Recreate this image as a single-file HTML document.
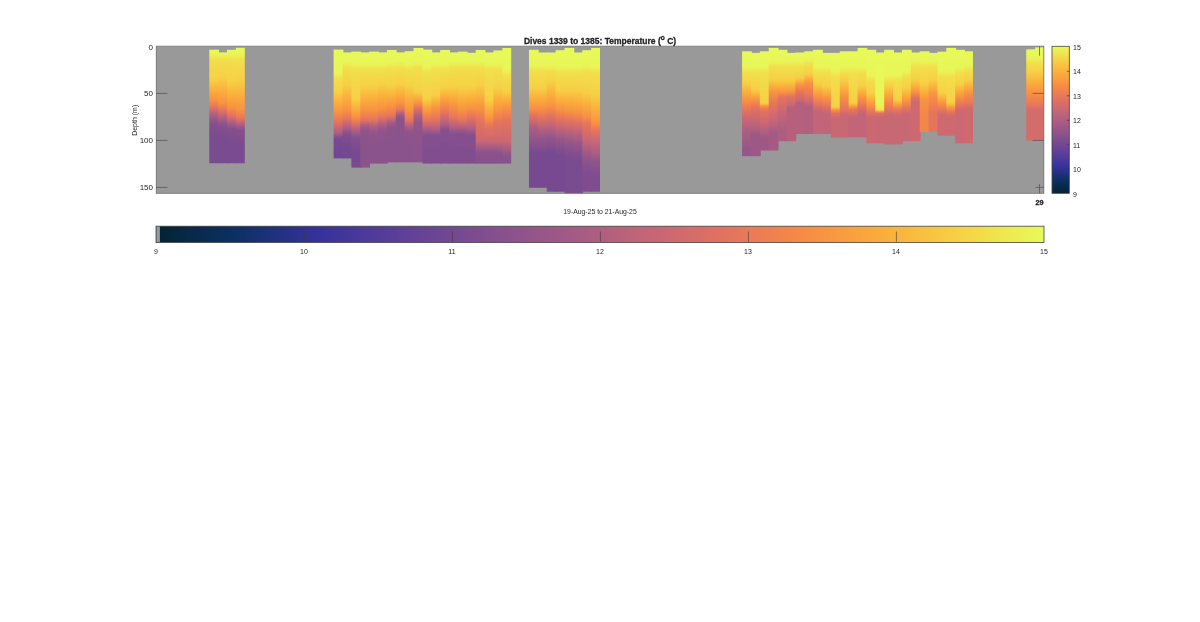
<!DOCTYPE html>
<html><head><meta charset="utf-8">
<style>
html,body{margin:0;padding:0;background:#fff;width:1200px;height:622px;overflow:hidden}
svg{display:block;will-change:transform}
text{font-family:"Liberation Sans",sans-serif;fill:#262626}
</style></head><body>
<svg width="1200" height="622" viewBox="0 0 1200 622">
<defs>
<filter id="soft" x="-1%" y="-5%" width="102%" height="110%"><feGaussianBlur stdDeviation="0.45"/></filter>
<linearGradient id="c6" x1="0" y1="0" x2="0" y2="1"><stop offset="0.000" stop-color="#e7fa5a"/><stop offset="0.013" stop-color="#e8f859"/><stop offset="0.027" stop-color="#e8f658"/><stop offset="0.040" stop-color="#e9f457"/><stop offset="0.053" stop-color="#ebee54"/><stop offset="0.067" stop-color="#eee951"/><stop offset="0.080" stop-color="#f0e34e"/><stop offset="0.093" stop-color="#f2df4c"/><stop offset="0.107" stop-color="#f2dd4b"/><stop offset="0.120" stop-color="#f2dc4b"/><stop offset="0.133" stop-color="#f3db4a"/><stop offset="0.147" stop-color="#f3da4a"/><stop offset="0.160" stop-color="#f4d949"/><stop offset="0.173" stop-color="#f4d748"/><stop offset="0.187" stop-color="#f5d648"/><stop offset="0.200" stop-color="#f5d547"/><stop offset="0.213" stop-color="#f6d446"/><stop offset="0.227" stop-color="#f6d346"/><stop offset="0.240" stop-color="#f6d246"/><stop offset="0.253" stop-color="#f6d045"/><stop offset="0.267" stop-color="#f6cf45"/><stop offset="0.280" stop-color="#f7ca44"/><stop offset="0.293" stop-color="#f8c643"/><stop offset="0.307" stop-color="#f8c141"/><stop offset="0.320" stop-color="#f9bc40"/><stop offset="0.333" stop-color="#fab73f"/><stop offset="0.347" stop-color="#fab33e"/><stop offset="0.360" stop-color="#fbae3c"/><stop offset="0.373" stop-color="#fbaa3d"/><stop offset="0.387" stop-color="#faa53e"/><stop offset="0.400" stop-color="#f9a13f"/><stop offset="0.413" stop-color="#f99d40"/><stop offset="0.427" stop-color="#f89941"/><stop offset="0.440" stop-color="#f79443"/><stop offset="0.453" stop-color="#f68d44"/><stop offset="0.467" stop-color="#f2864a"/><stop offset="0.480" stop-color="#ed8051"/><stop offset="0.493" stop-color="#e87a57"/><stop offset="0.507" stop-color="#e3735e"/><stop offset="0.520" stop-color="#d96e67"/><stop offset="0.533" stop-color="#cf6a6f"/><stop offset="0.547" stop-color="#c46576"/><stop offset="0.560" stop-color="#b9627c"/><stop offset="0.573" stop-color="#ae5e81"/><stop offset="0.587" stop-color="#a65c84"/><stop offset="0.600" stop-color="#9f5987"/><stop offset="0.613" stop-color="#995788"/><stop offset="0.627" stop-color="#92558a"/><stop offset="0.640" stop-color="#8c528c"/><stop offset="0.653" stop-color="#85508d"/><stop offset="0.667" stop-color="#844f8e"/><stop offset="0.680" stop-color="#824f8e"/><stop offset="0.693" stop-color="#814e8e"/><stop offset="0.707" stop-color="#804e8f"/><stop offset="0.720" stop-color="#7f4d8f"/><stop offset="0.733" stop-color="#7d4d8f"/><stop offset="0.747" stop-color="#7c4c90"/><stop offset="0.760" stop-color="#7b4c90"/><stop offset="0.773" stop-color="#794b90"/><stop offset="0.787" stop-color="#794b90"/><stop offset="0.800" stop-color="#794b90"/><stop offset="0.813" stop-color="#794b90"/><stop offset="0.827" stop-color="#794b90"/><stop offset="0.840" stop-color="#794b90"/><stop offset="0.853" stop-color="#794b90"/><stop offset="0.867" stop-color="#794b90"/><stop offset="0.880" stop-color="#794b90"/><stop offset="0.893" stop-color="#794b90"/><stop offset="0.907" stop-color="#794b90"/><stop offset="0.920" stop-color="#794b90"/><stop offset="0.933" stop-color="#794b90"/><stop offset="0.947" stop-color="#794b90"/><stop offset="0.960" stop-color="#794b90"/><stop offset="0.973" stop-color="#794b90"/><stop offset="0.987" stop-color="#794b90"/><stop offset="1.000" stop-color="#794b90"/></linearGradient>
<linearGradient id="c7" x1="0" y1="0" x2="0" y2="1"><stop offset="0.000" stop-color="#e7fa5a"/><stop offset="0.014" stop-color="#e9f558"/><stop offset="0.027" stop-color="#ebf055"/><stop offset="0.041" stop-color="#edea52"/><stop offset="0.055" stop-color="#efe44f"/><stop offset="0.068" stop-color="#f1df4c"/><stop offset="0.082" stop-color="#f2de4b"/><stop offset="0.096" stop-color="#f2dc4b"/><stop offset="0.110" stop-color="#f3db4a"/><stop offset="0.123" stop-color="#f3da49"/><stop offset="0.137" stop-color="#f4d849"/><stop offset="0.151" stop-color="#f5d748"/><stop offset="0.164" stop-color="#f5d647"/><stop offset="0.178" stop-color="#f6d447"/><stop offset="0.192" stop-color="#f6d346"/><stop offset="0.205" stop-color="#f6d246"/><stop offset="0.219" stop-color="#f6d045"/><stop offset="0.233" stop-color="#f7cf45"/><stop offset="0.247" stop-color="#f7cb44"/><stop offset="0.260" stop-color="#f8c743"/><stop offset="0.274" stop-color="#f8c342"/><stop offset="0.288" stop-color="#f9bf41"/><stop offset="0.301" stop-color="#f9bc40"/><stop offset="0.315" stop-color="#fab83f"/><stop offset="0.329" stop-color="#fab43e"/><stop offset="0.342" stop-color="#fbb03d"/><stop offset="0.356" stop-color="#fbac3c"/><stop offset="0.370" stop-color="#faa93d"/><stop offset="0.384" stop-color="#faa63e"/><stop offset="0.397" stop-color="#f9a23f"/><stop offset="0.411" stop-color="#f99f40"/><stop offset="0.425" stop-color="#f89b41"/><stop offset="0.438" stop-color="#f89842"/><stop offset="0.452" stop-color="#f79542"/><stop offset="0.466" stop-color="#f68e44"/><stop offset="0.479" stop-color="#f38749"/><stop offset="0.493" stop-color="#ee8150"/><stop offset="0.507" stop-color="#e97b57"/><stop offset="0.521" stop-color="#e4745e"/><stop offset="0.534" stop-color="#db6f66"/><stop offset="0.548" stop-color="#d16b6d"/><stop offset="0.562" stop-color="#c76674"/><stop offset="0.575" stop-color="#bd637b"/><stop offset="0.589" stop-color="#b25f7f"/><stop offset="0.603" stop-color="#a85c83"/><stop offset="0.616" stop-color="#a05a86"/><stop offset="0.630" stop-color="#985789"/><stop offset="0.644" stop-color="#90548a"/><stop offset="0.658" stop-color="#88518c"/><stop offset="0.671" stop-color="#844f8d"/><stop offset="0.685" stop-color="#834f8e"/><stop offset="0.699" stop-color="#824e8e"/><stop offset="0.712" stop-color="#804e8e"/><stop offset="0.726" stop-color="#7f4d8f"/><stop offset="0.740" stop-color="#7e4d8f"/><stop offset="0.753" stop-color="#7d4c8f"/><stop offset="0.767" stop-color="#7b4c90"/><stop offset="0.781" stop-color="#7a4b90"/><stop offset="0.795" stop-color="#794b90"/><stop offset="0.808" stop-color="#794b90"/><stop offset="0.822" stop-color="#794b90"/><stop offset="0.836" stop-color="#794b90"/><stop offset="0.849" stop-color="#794b90"/><stop offset="0.863" stop-color="#794b90"/><stop offset="0.877" stop-color="#794b90"/><stop offset="0.890" stop-color="#794b90"/><stop offset="0.904" stop-color="#794b90"/><stop offset="0.918" stop-color="#794b90"/><stop offset="0.932" stop-color="#794b90"/><stop offset="0.945" stop-color="#794b90"/><stop offset="0.959" stop-color="#794b90"/><stop offset="0.973" stop-color="#794b90"/><stop offset="0.986" stop-color="#794b90"/><stop offset="1.000" stop-color="#794b90"/></linearGradient>
<linearGradient id="c8" x1="0" y1="0" x2="0" y2="1"><stop offset="0.000" stop-color="#e7fa5a"/><stop offset="0.013" stop-color="#e8f859"/><stop offset="0.027" stop-color="#e8f658"/><stop offset="0.040" stop-color="#e9f457"/><stop offset="0.053" stop-color="#ecee54"/><stop offset="0.067" stop-color="#eee951"/><stop offset="0.080" stop-color="#f0e34e"/><stop offset="0.093" stop-color="#f2df4c"/><stop offset="0.107" stop-color="#f2dd4b"/><stop offset="0.120" stop-color="#f2dc4b"/><stop offset="0.133" stop-color="#f3db4a"/><stop offset="0.147" stop-color="#f3da4a"/><stop offset="0.160" stop-color="#f4d949"/><stop offset="0.173" stop-color="#f4d849"/><stop offset="0.187" stop-color="#f4d748"/><stop offset="0.200" stop-color="#f5d647"/><stop offset="0.213" stop-color="#f5d547"/><stop offset="0.227" stop-color="#f6d446"/><stop offset="0.240" stop-color="#f6d346"/><stop offset="0.253" stop-color="#f6d246"/><stop offset="0.267" stop-color="#f6d145"/><stop offset="0.280" stop-color="#f6cf45"/><stop offset="0.293" stop-color="#f7cc44"/><stop offset="0.307" stop-color="#f7c943"/><stop offset="0.320" stop-color="#f8c542"/><stop offset="0.333" stop-color="#f8c141"/><stop offset="0.347" stop-color="#f9bd40"/><stop offset="0.360" stop-color="#f9b93f"/><stop offset="0.373" stop-color="#fab63e"/><stop offset="0.387" stop-color="#fab23d"/><stop offset="0.400" stop-color="#fbae3c"/><stop offset="0.413" stop-color="#fbab3d"/><stop offset="0.427" stop-color="#faa73e"/><stop offset="0.440" stop-color="#faa43e"/><stop offset="0.453" stop-color="#f9a03f"/><stop offset="0.467" stop-color="#f99d40"/><stop offset="0.480" stop-color="#f89a41"/><stop offset="0.493" stop-color="#f89642"/><stop offset="0.507" stop-color="#f79243"/><stop offset="0.520" stop-color="#f68b45"/><stop offset="0.533" stop-color="#f2864b"/><stop offset="0.547" stop-color="#ed8051"/><stop offset="0.560" stop-color="#e97b56"/><stop offset="0.573" stop-color="#e5755c"/><stop offset="0.587" stop-color="#dc6f65"/><stop offset="0.600" stop-color="#d26b6d"/><stop offset="0.613" stop-color="#c76674"/><stop offset="0.627" stop-color="#bc627b"/><stop offset="0.640" stop-color="#b15f80"/><stop offset="0.653" stop-color="#a55b84"/><stop offset="0.667" stop-color="#9a5888"/><stop offset="0.680" stop-color="#90548b"/><stop offset="0.693" stop-color="#86508d"/><stop offset="0.707" stop-color="#844f8e"/><stop offset="0.720" stop-color="#824f8e"/><stop offset="0.733" stop-color="#814e8e"/><stop offset="0.747" stop-color="#804e8f"/><stop offset="0.760" stop-color="#7f4d8f"/><stop offset="0.773" stop-color="#7d4d8f"/><stop offset="0.787" stop-color="#7c4c90"/><stop offset="0.800" stop-color="#7b4c90"/><stop offset="0.813" stop-color="#794b90"/><stop offset="0.827" stop-color="#794b90"/><stop offset="0.840" stop-color="#794b90"/><stop offset="0.853" stop-color="#794b90"/><stop offset="0.867" stop-color="#794b90"/><stop offset="0.880" stop-color="#794b90"/><stop offset="0.893" stop-color="#794b90"/><stop offset="0.907" stop-color="#794b90"/><stop offset="0.920" stop-color="#794b90"/><stop offset="0.933" stop-color="#794b90"/><stop offset="0.947" stop-color="#794b90"/><stop offset="0.960" stop-color="#794b90"/><stop offset="0.973" stop-color="#794b90"/><stop offset="0.987" stop-color="#794b90"/><stop offset="1.000" stop-color="#794b90"/></linearGradient>
<linearGradient id="c9" x1="0" y1="0" x2="0" y2="1"><stop offset="0.000" stop-color="#e7fa5a"/><stop offset="0.013" stop-color="#e7f959"/><stop offset="0.026" stop-color="#e8f859"/><stop offset="0.039" stop-color="#e8f658"/><stop offset="0.052" stop-color="#e9f558"/><stop offset="0.065" stop-color="#ebf055"/><stop offset="0.078" stop-color="#edeb52"/><stop offset="0.091" stop-color="#efe54f"/><stop offset="0.104" stop-color="#f1e04c"/><stop offset="0.117" stop-color="#f2de4c"/><stop offset="0.130" stop-color="#f2dd4b"/><stop offset="0.143" stop-color="#f3db4a"/><stop offset="0.156" stop-color="#f3da4a"/><stop offset="0.169" stop-color="#f4d949"/><stop offset="0.182" stop-color="#f4d849"/><stop offset="0.195" stop-color="#f5d748"/><stop offset="0.208" stop-color="#f5d647"/><stop offset="0.221" stop-color="#f5d447"/><stop offset="0.234" stop-color="#f6d346"/><stop offset="0.247" stop-color="#f6d246"/><stop offset="0.260" stop-color="#f6d145"/><stop offset="0.273" stop-color="#f6d045"/><stop offset="0.286" stop-color="#f7cd45"/><stop offset="0.299" stop-color="#f7ca44"/><stop offset="0.312" stop-color="#f8c743"/><stop offset="0.325" stop-color="#f8c442"/><stop offset="0.338" stop-color="#f8c141"/><stop offset="0.351" stop-color="#f9be40"/><stop offset="0.364" stop-color="#f9ba40"/><stop offset="0.377" stop-color="#fab73f"/><stop offset="0.390" stop-color="#fab43e"/><stop offset="0.403" stop-color="#fab13d"/><stop offset="0.416" stop-color="#fbae3c"/><stop offset="0.429" stop-color="#fbab3d"/><stop offset="0.442" stop-color="#faa83d"/><stop offset="0.455" stop-color="#faa53e"/><stop offset="0.468" stop-color="#f9a23f"/><stop offset="0.481" stop-color="#f99f40"/><stop offset="0.494" stop-color="#f99c40"/><stop offset="0.506" stop-color="#f89a41"/><stop offset="0.519" stop-color="#f89742"/><stop offset="0.532" stop-color="#f79443"/><stop offset="0.545" stop-color="#f68e44"/><stop offset="0.558" stop-color="#f48948"/><stop offset="0.571" stop-color="#f0844d"/><stop offset="0.584" stop-color="#ec7f52"/><stop offset="0.597" stop-color="#e97a57"/><stop offset="0.610" stop-color="#e5765c"/><stop offset="0.623" stop-color="#db6e66"/><stop offset="0.636" stop-color="#ce696f"/><stop offset="0.649" stop-color="#c16479"/><stop offset="0.662" stop-color="#b3607f"/><stop offset="0.675" stop-color="#a65b84"/><stop offset="0.688" stop-color="#9a5788"/><stop offset="0.701" stop-color="#8e538b"/><stop offset="0.714" stop-color="#85508d"/><stop offset="0.727" stop-color="#834f8e"/><stop offset="0.740" stop-color="#824f8e"/><stop offset="0.753" stop-color="#814e8e"/><stop offset="0.766" stop-color="#804e8f"/><stop offset="0.779" stop-color="#7e4d8f"/><stop offset="0.792" stop-color="#7d4d8f"/><stop offset="0.805" stop-color="#7c4c90"/><stop offset="0.818" stop-color="#7b4b90"/><stop offset="0.831" stop-color="#794b90"/><stop offset="0.844" stop-color="#794b90"/><stop offset="0.857" stop-color="#794b90"/><stop offset="0.870" stop-color="#794b90"/><stop offset="0.883" stop-color="#794b90"/><stop offset="0.896" stop-color="#794b90"/><stop offset="0.909" stop-color="#794b90"/><stop offset="0.922" stop-color="#794b90"/><stop offset="0.935" stop-color="#794b90"/><stop offset="0.948" stop-color="#794b90"/><stop offset="0.961" stop-color="#794b90"/><stop offset="0.974" stop-color="#794b90"/><stop offset="0.987" stop-color="#794b90"/><stop offset="1.000" stop-color="#794b90"/></linearGradient>
<linearGradient id="c20" x1="0" y1="0" x2="0" y2="1"><stop offset="0.000" stop-color="#e7fa5a"/><stop offset="0.014" stop-color="#e7fa5a"/><stop offset="0.028" stop-color="#e7f95a"/><stop offset="0.042" stop-color="#e7f95a"/><stop offset="0.056" stop-color="#e7f959"/><stop offset="0.069" stop-color="#e8f859"/><stop offset="0.083" stop-color="#e8f859"/><stop offset="0.097" stop-color="#e8f859"/><stop offset="0.111" stop-color="#e8f759"/><stop offset="0.125" stop-color="#e8f759"/><stop offset="0.139" stop-color="#e8f758"/><stop offset="0.153" stop-color="#e8f658"/><stop offset="0.167" stop-color="#e8f658"/><stop offset="0.181" stop-color="#e9f658"/><stop offset="0.194" stop-color="#e9f558"/><stop offset="0.208" stop-color="#e9f558"/><stop offset="0.222" stop-color="#eaf256"/><stop offset="0.236" stop-color="#eced53"/><stop offset="0.250" stop-color="#eee750"/><stop offset="0.264" stop-color="#f0e14d"/><stop offset="0.278" stop-color="#f2de4c"/><stop offset="0.292" stop-color="#f3dc4b"/><stop offset="0.306" stop-color="#f3da4a"/><stop offset="0.319" stop-color="#f4d849"/><stop offset="0.333" stop-color="#f5d748"/><stop offset="0.347" stop-color="#f5d547"/><stop offset="0.361" stop-color="#f6d346"/><stop offset="0.375" stop-color="#f6d145"/><stop offset="0.389" stop-color="#f6cf45"/><stop offset="0.403" stop-color="#f7cb44"/><stop offset="0.417" stop-color="#f8c643"/><stop offset="0.431" stop-color="#f8c141"/><stop offset="0.444" stop-color="#f9bd40"/><stop offset="0.458" stop-color="#fab83f"/><stop offset="0.472" stop-color="#fab33e"/><stop offset="0.486" stop-color="#fbae3c"/><stop offset="0.500" stop-color="#fbaa3d"/><stop offset="0.514" stop-color="#faa63e"/><stop offset="0.528" stop-color="#f9a13f"/><stop offset="0.542" stop-color="#f99d40"/><stop offset="0.556" stop-color="#f89941"/><stop offset="0.569" stop-color="#f79542"/><stop offset="0.583" stop-color="#f79044"/><stop offset="0.597" stop-color="#f58a46"/><stop offset="0.611" stop-color="#f2864b"/><stop offset="0.625" stop-color="#ee814f"/><stop offset="0.639" stop-color="#eb7d54"/><stop offset="0.653" stop-color="#e77959"/><stop offset="0.667" stop-color="#e4745d"/><stop offset="0.681" stop-color="#dd7064"/><stop offset="0.694" stop-color="#d66c69"/><stop offset="0.708" stop-color="#ce696f"/><stop offset="0.722" stop-color="#c66675"/><stop offset="0.736" stop-color="#bf637a"/><stop offset="0.750" stop-color="#b6617d"/><stop offset="0.764" stop-color="#ae5e81"/><stop offset="0.778" stop-color="#9f5987"/><stop offset="0.792" stop-color="#90548b"/><stop offset="0.806" stop-color="#814e8e"/><stop offset="0.819" stop-color="#794b91"/><stop offset="0.833" stop-color="#784a91"/><stop offset="0.847" stop-color="#774a91"/><stop offset="0.861" stop-color="#764992"/><stop offset="0.875" stop-color="#754992"/><stop offset="0.889" stop-color="#744892"/><stop offset="0.903" stop-color="#734892"/><stop offset="0.917" stop-color="#724793"/><stop offset="0.931" stop-color="#714793"/><stop offset="0.944" stop-color="#704793"/><stop offset="0.958" stop-color="#704793"/><stop offset="0.972" stop-color="#704793"/><stop offset="0.986" stop-color="#704793"/><stop offset="1.000" stop-color="#704793"/></linearGradient>
<linearGradient id="c21" x1="0" y1="0" x2="0" y2="1"><stop offset="0.000" stop-color="#e7fa5a"/><stop offset="0.014" stop-color="#e7f95a"/><stop offset="0.029" stop-color="#e8f859"/><stop offset="0.043" stop-color="#e8f859"/><stop offset="0.057" stop-color="#e8f758"/><stop offset="0.071" stop-color="#e9f658"/><stop offset="0.086" stop-color="#e9f558"/><stop offset="0.100" stop-color="#eaf156"/><stop offset="0.114" stop-color="#ecec53"/><stop offset="0.129" stop-color="#efe650"/><stop offset="0.143" stop-color="#f1e14d"/><stop offset="0.157" stop-color="#f2de4c"/><stop offset="0.171" stop-color="#f2dc4b"/><stop offset="0.186" stop-color="#f3db4a"/><stop offset="0.200" stop-color="#f4d949"/><stop offset="0.214" stop-color="#f4d849"/><stop offset="0.229" stop-color="#f5d748"/><stop offset="0.243" stop-color="#f5d547"/><stop offset="0.257" stop-color="#f6d446"/><stop offset="0.271" stop-color="#f6d246"/><stop offset="0.286" stop-color="#f6d145"/><stop offset="0.300" stop-color="#f6cf45"/><stop offset="0.314" stop-color="#f7cc44"/><stop offset="0.329" stop-color="#f7c843"/><stop offset="0.343" stop-color="#f8c542"/><stop offset="0.357" stop-color="#f8c141"/><stop offset="0.371" stop-color="#f9bd40"/><stop offset="0.386" stop-color="#f9ba3f"/><stop offset="0.400" stop-color="#fab63e"/><stop offset="0.414" stop-color="#fab23d"/><stop offset="0.429" stop-color="#fbae3c"/><stop offset="0.443" stop-color="#fbab3d"/><stop offset="0.457" stop-color="#faa83d"/><stop offset="0.471" stop-color="#faa43e"/><stop offset="0.486" stop-color="#f9a13f"/><stop offset="0.500" stop-color="#f99e40"/><stop offset="0.514" stop-color="#f89a41"/><stop offset="0.529" stop-color="#f89742"/><stop offset="0.543" stop-color="#f79443"/><stop offset="0.557" stop-color="#f68d44"/><stop offset="0.571" stop-color="#f48848"/><stop offset="0.586" stop-color="#f0834d"/><stop offset="0.600" stop-color="#ec7e53"/><stop offset="0.614" stop-color="#e87a58"/><stop offset="0.629" stop-color="#e4755d"/><stop offset="0.643" stop-color="#dc6f65"/><stop offset="0.657" stop-color="#d36b6c"/><stop offset="0.671" stop-color="#c96773"/><stop offset="0.686" stop-color="#c06479"/><stop offset="0.700" stop-color="#b6607d"/><stop offset="0.714" stop-color="#ac5d82"/><stop offset="0.729" stop-color="#a15a86"/><stop offset="0.743" stop-color="#975689"/><stop offset="0.757" stop-color="#8e538b"/><stop offset="0.771" stop-color="#844f8d"/><stop offset="0.786" stop-color="#7e4d8f"/><stop offset="0.800" stop-color="#7d4d8f"/><stop offset="0.814" stop-color="#7c4c90"/><stop offset="0.829" stop-color="#7b4b90"/><stop offset="0.843" stop-color="#794b90"/><stop offset="0.857" stop-color="#784a91"/><stop offset="0.871" stop-color="#774a91"/><stop offset="0.886" stop-color="#754992"/><stop offset="0.900" stop-color="#744892"/><stop offset="0.914" stop-color="#734892"/><stop offset="0.929" stop-color="#734892"/><stop offset="0.943" stop-color="#734892"/><stop offset="0.957" stop-color="#734892"/><stop offset="0.971" stop-color="#734892"/><stop offset="0.986" stop-color="#734892"/><stop offset="1.000" stop-color="#734892"/></linearGradient>
<linearGradient id="c22" x1="0" y1="0" x2="0" y2="1"><stop offset="0.000" stop-color="#e7fa5a"/><stop offset="0.013" stop-color="#e7f95a"/><stop offset="0.026" stop-color="#e7f959"/><stop offset="0.039" stop-color="#e8f859"/><stop offset="0.052" stop-color="#e8f859"/><stop offset="0.065" stop-color="#e8f758"/><stop offset="0.078" stop-color="#e8f658"/><stop offset="0.091" stop-color="#e9f658"/><stop offset="0.104" stop-color="#e9f558"/><stop offset="0.117" stop-color="#ebf155"/><stop offset="0.130" stop-color="#edeb52"/><stop offset="0.143" stop-color="#efe650"/><stop offset="0.156" stop-color="#f1e04d"/><stop offset="0.169" stop-color="#f2de4c"/><stop offset="0.182" stop-color="#f2dd4b"/><stop offset="0.195" stop-color="#f2dd4b"/><stop offset="0.208" stop-color="#f3dc4a"/><stop offset="0.221" stop-color="#f3db4a"/><stop offset="0.234" stop-color="#f3da4a"/><stop offset="0.247" stop-color="#f4d949"/><stop offset="0.260" stop-color="#f4d849"/><stop offset="0.273" stop-color="#f4d848"/><stop offset="0.286" stop-color="#f5d748"/><stop offset="0.299" stop-color="#f5d648"/><stop offset="0.312" stop-color="#f5d547"/><stop offset="0.325" stop-color="#f5d447"/><stop offset="0.338" stop-color="#f6d446"/><stop offset="0.351" stop-color="#f6d346"/><stop offset="0.364" stop-color="#f6d246"/><stop offset="0.377" stop-color="#f6d146"/><stop offset="0.390" stop-color="#f6d045"/><stop offset="0.403" stop-color="#f6d045"/><stop offset="0.416" stop-color="#f7cc44"/><stop offset="0.429" stop-color="#f8c743"/><stop offset="0.442" stop-color="#f8c241"/><stop offset="0.455" stop-color="#f9bd40"/><stop offset="0.468" stop-color="#fab73f"/><stop offset="0.481" stop-color="#fab23d"/><stop offset="0.494" stop-color="#fbad3c"/><stop offset="0.506" stop-color="#faa83d"/><stop offset="0.519" stop-color="#faa43f"/><stop offset="0.532" stop-color="#f99f40"/><stop offset="0.545" stop-color="#f89a41"/><stop offset="0.558" stop-color="#f89542"/><stop offset="0.571" stop-color="#f68e44"/><stop offset="0.584" stop-color="#f2864a"/><stop offset="0.597" stop-color="#ec7f52"/><stop offset="0.610" stop-color="#e6785a"/><stop offset="0.623" stop-color="#df7062"/><stop offset="0.636" stop-color="#d56c6a"/><stop offset="0.649" stop-color="#ca6872"/><stop offset="0.662" stop-color="#c06479"/><stop offset="0.675" stop-color="#b4607e"/><stop offset="0.688" stop-color="#aa5d82"/><stop offset="0.701" stop-color="#a15a86"/><stop offset="0.714" stop-color="#985788"/><stop offset="0.727" stop-color="#90548a"/><stop offset="0.740" stop-color="#88518d"/><stop offset="0.753" stop-color="#844f8e"/><stop offset="0.766" stop-color="#824f8e"/><stop offset="0.779" stop-color="#814e8e"/><stop offset="0.792" stop-color="#7f4d8f"/><stop offset="0.805" stop-color="#7e4d8f"/><stop offset="0.818" stop-color="#7c4c90"/><stop offset="0.831" stop-color="#7a4b90"/><stop offset="0.844" stop-color="#794b91"/><stop offset="0.857" stop-color="#774a91"/><stop offset="0.870" stop-color="#764991"/><stop offset="0.883" stop-color="#764991"/><stop offset="0.896" stop-color="#764991"/><stop offset="0.909" stop-color="#764991"/><stop offset="0.922" stop-color="#764991"/><stop offset="0.935" stop-color="#764991"/><stop offset="0.948" stop-color="#764991"/><stop offset="0.961" stop-color="#764991"/><stop offset="0.974" stop-color="#764991"/><stop offset="0.987" stop-color="#764991"/><stop offset="1.000" stop-color="#764991"/></linearGradient>
<linearGradient id="c23" x1="0" y1="0" x2="0" y2="1"><stop offset="0.000" stop-color="#e7fa5a"/><stop offset="0.013" stop-color="#e7f95a"/><stop offset="0.026" stop-color="#e8f959"/><stop offset="0.039" stop-color="#e8f859"/><stop offset="0.053" stop-color="#e8f759"/><stop offset="0.066" stop-color="#e8f758"/><stop offset="0.079" stop-color="#e9f658"/><stop offset="0.092" stop-color="#e9f558"/><stop offset="0.105" stop-color="#eaf356"/><stop offset="0.118" stop-color="#eced54"/><stop offset="0.132" stop-color="#eee851"/><stop offset="0.145" stop-color="#f0e24e"/><stop offset="0.158" stop-color="#f2de4c"/><stop offset="0.171" stop-color="#f2dd4b"/><stop offset="0.184" stop-color="#f3db4a"/><stop offset="0.197" stop-color="#f3da4a"/><stop offset="0.211" stop-color="#f4d949"/><stop offset="0.224" stop-color="#f4d748"/><stop offset="0.237" stop-color="#f5d647"/><stop offset="0.250" stop-color="#f5d447"/><stop offset="0.263" stop-color="#f6d346"/><stop offset="0.276" stop-color="#f6d246"/><stop offset="0.289" stop-color="#f6d045"/><stop offset="0.303" stop-color="#f7ce45"/><stop offset="0.316" stop-color="#f7ca44"/><stop offset="0.329" stop-color="#f8c643"/><stop offset="0.342" stop-color="#f8c242"/><stop offset="0.355" stop-color="#f9be40"/><stop offset="0.368" stop-color="#f9ba3f"/><stop offset="0.382" stop-color="#fab63e"/><stop offset="0.395" stop-color="#fab23d"/><stop offset="0.408" stop-color="#fbad3c"/><stop offset="0.421" stop-color="#fbaa3d"/><stop offset="0.434" stop-color="#faa63e"/><stop offset="0.447" stop-color="#f9a23f"/><stop offset="0.461" stop-color="#f99f40"/><stop offset="0.474" stop-color="#f89b41"/><stop offset="0.487" stop-color="#f89742"/><stop offset="0.500" stop-color="#f79443"/><stop offset="0.513" stop-color="#f68e44"/><stop offset="0.526" stop-color="#f48947"/><stop offset="0.539" stop-color="#f1844c"/><stop offset="0.553" stop-color="#ed8051"/><stop offset="0.566" stop-color="#ea7c55"/><stop offset="0.579" stop-color="#e6775a"/><stop offset="0.592" stop-color="#df7063"/><stop offset="0.605" stop-color="#ce696f"/><stop offset="0.618" stop-color="#bd637b"/><stop offset="0.632" stop-color="#ab5d82"/><stop offset="0.645" stop-color="#a35b85"/><stop offset="0.658" stop-color="#9b5888"/><stop offset="0.671" stop-color="#945589"/><stop offset="0.684" stop-color="#8e538b"/><stop offset="0.697" stop-color="#8d538b"/><stop offset="0.711" stop-color="#8d538b"/><stop offset="0.724" stop-color="#8d538b"/><stop offset="0.737" stop-color="#8c528b"/><stop offset="0.750" stop-color="#8c528b"/><stop offset="0.763" stop-color="#8c528c"/><stop offset="0.776" stop-color="#8b528c"/><stop offset="0.789" stop-color="#8b528c"/><stop offset="0.803" stop-color="#8b528c"/><stop offset="0.816" stop-color="#8b528c"/><stop offset="0.829" stop-color="#8b528c"/><stop offset="0.842" stop-color="#8b528c"/><stop offset="0.855" stop-color="#8b528c"/><stop offset="0.868" stop-color="#8b528c"/><stop offset="0.882" stop-color="#8b528c"/><stop offset="0.895" stop-color="#8b528c"/><stop offset="0.908" stop-color="#8b528c"/><stop offset="0.921" stop-color="#8b528c"/><stop offset="0.934" stop-color="#8b528c"/><stop offset="0.947" stop-color="#8b528c"/><stop offset="0.961" stop-color="#8b528c"/><stop offset="0.974" stop-color="#8b528c"/><stop offset="0.987" stop-color="#8b528c"/><stop offset="1.000" stop-color="#8b528c"/></linearGradient>
<linearGradient id="c24" x1="0" y1="0" x2="0" y2="1"><stop offset="0.000" stop-color="#e7fa5a"/><stop offset="0.014" stop-color="#e7f95a"/><stop offset="0.027" stop-color="#e7f959"/><stop offset="0.041" stop-color="#e8f859"/><stop offset="0.054" stop-color="#e8f859"/><stop offset="0.068" stop-color="#e8f758"/><stop offset="0.081" stop-color="#e8f658"/><stop offset="0.095" stop-color="#e9f658"/><stop offset="0.108" stop-color="#e9f557"/><stop offset="0.122" stop-color="#ebf055"/><stop offset="0.135" stop-color="#edeb52"/><stop offset="0.149" stop-color="#efe54f"/><stop offset="0.162" stop-color="#f1e04d"/><stop offset="0.176" stop-color="#f2de4b"/><stop offset="0.189" stop-color="#f3dc4b"/><stop offset="0.203" stop-color="#f3db4a"/><stop offset="0.216" stop-color="#f4d949"/><stop offset="0.230" stop-color="#f4d848"/><stop offset="0.243" stop-color="#f5d648"/><stop offset="0.257" stop-color="#f5d547"/><stop offset="0.270" stop-color="#f6d346"/><stop offset="0.284" stop-color="#f6d246"/><stop offset="0.297" stop-color="#f6d045"/><stop offset="0.311" stop-color="#f7ce45"/><stop offset="0.324" stop-color="#f7ca44"/><stop offset="0.338" stop-color="#f8c643"/><stop offset="0.351" stop-color="#f8c242"/><stop offset="0.365" stop-color="#f9be41"/><stop offset="0.378" stop-color="#f9ba40"/><stop offset="0.392" stop-color="#fab63e"/><stop offset="0.405" stop-color="#fab23d"/><stop offset="0.419" stop-color="#fbae3c"/><stop offset="0.432" stop-color="#fbab3d"/><stop offset="0.446" stop-color="#faa73e"/><stop offset="0.459" stop-color="#faa43e"/><stop offset="0.473" stop-color="#f9a03f"/><stop offset="0.486" stop-color="#f99d40"/><stop offset="0.500" stop-color="#f89941"/><stop offset="0.514" stop-color="#f89642"/><stop offset="0.527" stop-color="#f79143"/><stop offset="0.541" stop-color="#f68b45"/><stop offset="0.554" stop-color="#f38749"/><stop offset="0.568" stop-color="#ef834e"/><stop offset="0.581" stop-color="#ec7e53"/><stop offset="0.595" stop-color="#e87a57"/><stop offset="0.608" stop-color="#e5765c"/><stop offset="0.622" stop-color="#dc6f65"/><stop offset="0.635" stop-color="#d06a6e"/><stop offset="0.649" stop-color="#c46577"/><stop offset="0.662" stop-color="#b7617d"/><stop offset="0.676" stop-color="#ab5d82"/><stop offset="0.689" stop-color="#a45b85"/><stop offset="0.703" stop-color="#9d5887"/><stop offset="0.716" stop-color="#965689"/><stop offset="0.730" stop-color="#91548a"/><stop offset="0.743" stop-color="#90548b"/><stop offset="0.757" stop-color="#8f538b"/><stop offset="0.770" stop-color="#8f538b"/><stop offset="0.784" stop-color="#8e538b"/><stop offset="0.797" stop-color="#8d538b"/><stop offset="0.811" stop-color="#8d538b"/><stop offset="0.824" stop-color="#8c528b"/><stop offset="0.838" stop-color="#8b528c"/><stop offset="0.851" stop-color="#8b528c"/><stop offset="0.865" stop-color="#8b528c"/><stop offset="0.878" stop-color="#8b528c"/><stop offset="0.892" stop-color="#8b528c"/><stop offset="0.905" stop-color="#8b528c"/><stop offset="0.919" stop-color="#8b528c"/><stop offset="0.932" stop-color="#8b528c"/><stop offset="0.946" stop-color="#8b528c"/><stop offset="0.959" stop-color="#8b528c"/><stop offset="0.973" stop-color="#8b528c"/><stop offset="0.986" stop-color="#8b528c"/><stop offset="1.000" stop-color="#8b528c"/></linearGradient>
<linearGradient id="c25" x1="0" y1="0" x2="0" y2="1"><stop offset="0.000" stop-color="#e7fa5a"/><stop offset="0.014" stop-color="#e7f95a"/><stop offset="0.027" stop-color="#e7f959"/><stop offset="0.041" stop-color="#e8f859"/><stop offset="0.054" stop-color="#e8f759"/><stop offset="0.068" stop-color="#e8f758"/><stop offset="0.081" stop-color="#e8f658"/><stop offset="0.095" stop-color="#e9f558"/><stop offset="0.108" stop-color="#eaf357"/><stop offset="0.122" stop-color="#ecee54"/><stop offset="0.135" stop-color="#eee851"/><stop offset="0.149" stop-color="#f0e34e"/><stop offset="0.162" stop-color="#f2de4c"/><stop offset="0.176" stop-color="#f2dd4b"/><stop offset="0.189" stop-color="#f3db4a"/><stop offset="0.203" stop-color="#f4d949"/><stop offset="0.216" stop-color="#f4d848"/><stop offset="0.230" stop-color="#f5d647"/><stop offset="0.243" stop-color="#f6d447"/><stop offset="0.257" stop-color="#f6d346"/><stop offset="0.270" stop-color="#f6d145"/><stop offset="0.284" stop-color="#f6cf45"/><stop offset="0.297" stop-color="#f7cb44"/><stop offset="0.311" stop-color="#f8c743"/><stop offset="0.324" stop-color="#f8c442"/><stop offset="0.338" stop-color="#f9c041"/><stop offset="0.351" stop-color="#f9bc40"/><stop offset="0.365" stop-color="#fab83f"/><stop offset="0.378" stop-color="#fab43e"/><stop offset="0.392" stop-color="#fbb03d"/><stop offset="0.405" stop-color="#fbac3c"/><stop offset="0.419" stop-color="#faa93d"/><stop offset="0.432" stop-color="#faa53e"/><stop offset="0.446" stop-color="#f9a23f"/><stop offset="0.459" stop-color="#f99e40"/><stop offset="0.473" stop-color="#f89b41"/><stop offset="0.486" stop-color="#f89742"/><stop offset="0.500" stop-color="#f79443"/><stop offset="0.514" stop-color="#f68d44"/><stop offset="0.527" stop-color="#f48848"/><stop offset="0.541" stop-color="#f0834d"/><stop offset="0.554" stop-color="#ec7e53"/><stop offset="0.568" stop-color="#e87a58"/><stop offset="0.581" stop-color="#e4755d"/><stop offset="0.595" stop-color="#db6e66"/><stop offset="0.608" stop-color="#d06a6e"/><stop offset="0.622" stop-color="#c56576"/><stop offset="0.635" stop-color="#b9617c"/><stop offset="0.649" stop-color="#ad5e81"/><stop offset="0.662" stop-color="#a55b84"/><stop offset="0.676" stop-color="#9d5987"/><stop offset="0.689" stop-color="#955689"/><stop offset="0.703" stop-color="#90548a"/><stop offset="0.716" stop-color="#90548b"/><stop offset="0.730" stop-color="#8f538b"/><stop offset="0.743" stop-color="#8f538b"/><stop offset="0.757" stop-color="#8e538b"/><stop offset="0.770" stop-color="#8d538b"/><stop offset="0.784" stop-color="#8d528b"/><stop offset="0.797" stop-color="#8c528b"/><stop offset="0.811" stop-color="#8b528c"/><stop offset="0.824" stop-color="#8b528c"/><stop offset="0.838" stop-color="#8b528c"/><stop offset="0.851" stop-color="#8b528c"/><stop offset="0.865" stop-color="#8b528c"/><stop offset="0.878" stop-color="#8b528c"/><stop offset="0.892" stop-color="#8b528c"/><stop offset="0.905" stop-color="#8b528c"/><stop offset="0.919" stop-color="#8b528c"/><stop offset="0.932" stop-color="#8b528c"/><stop offset="0.946" stop-color="#8b528c"/><stop offset="0.959" stop-color="#8b528c"/><stop offset="0.973" stop-color="#8b528c"/><stop offset="0.986" stop-color="#8b528c"/><stop offset="1.000" stop-color="#8b528c"/></linearGradient>
<linearGradient id="c26" x1="0" y1="0" x2="0" y2="1"><stop offset="0.000" stop-color="#e7fa5a"/><stop offset="0.014" stop-color="#e7f95a"/><stop offset="0.027" stop-color="#e7f959"/><stop offset="0.041" stop-color="#e8f859"/><stop offset="0.054" stop-color="#e8f859"/><stop offset="0.068" stop-color="#e8f759"/><stop offset="0.081" stop-color="#e8f658"/><stop offset="0.095" stop-color="#e9f658"/><stop offset="0.108" stop-color="#e9f558"/><stop offset="0.122" stop-color="#eaf356"/><stop offset="0.135" stop-color="#eced53"/><stop offset="0.149" stop-color="#eee750"/><stop offset="0.162" stop-color="#f0e24e"/><stop offset="0.176" stop-color="#f2de4c"/><stop offset="0.189" stop-color="#f2dd4b"/><stop offset="0.203" stop-color="#f3db4a"/><stop offset="0.216" stop-color="#f3da4a"/><stop offset="0.230" stop-color="#f4d949"/><stop offset="0.243" stop-color="#f4d748"/><stop offset="0.257" stop-color="#f5d647"/><stop offset="0.270" stop-color="#f5d447"/><stop offset="0.284" stop-color="#f6d346"/><stop offset="0.297" stop-color="#f6d246"/><stop offset="0.311" stop-color="#f6d045"/><stop offset="0.324" stop-color="#f7ce45"/><stop offset="0.338" stop-color="#f7c943"/><stop offset="0.351" stop-color="#f8c442"/><stop offset="0.365" stop-color="#f9bf41"/><stop offset="0.378" stop-color="#f9bb40"/><stop offset="0.392" stop-color="#fab63e"/><stop offset="0.405" stop-color="#fab13d"/><stop offset="0.419" stop-color="#fbad3c"/><stop offset="0.432" stop-color="#faa83d"/><stop offset="0.446" stop-color="#faa43e"/><stop offset="0.459" stop-color="#f9a040"/><stop offset="0.473" stop-color="#f89b41"/><stop offset="0.486" stop-color="#f89742"/><stop offset="0.500" stop-color="#f79343"/><stop offset="0.514" stop-color="#f68d44"/><stop offset="0.527" stop-color="#f48848"/><stop offset="0.541" stop-color="#f0844d"/><stop offset="0.554" stop-color="#ed8051"/><stop offset="0.568" stop-color="#e97b56"/><stop offset="0.581" stop-color="#e6775b"/><stop offset="0.595" stop-color="#de7063"/><stop offset="0.608" stop-color="#d06a6e"/><stop offset="0.622" stop-color="#c26478"/><stop offset="0.635" stop-color="#b25f7f"/><stop offset="0.649" stop-color="#a65c84"/><stop offset="0.662" stop-color="#9d5987"/><stop offset="0.676" stop-color="#94558a"/><stop offset="0.689" stop-color="#8e538b"/><stop offset="0.703" stop-color="#8d538b"/><stop offset="0.716" stop-color="#8d538b"/><stop offset="0.730" stop-color="#8d538b"/><stop offset="0.743" stop-color="#8c528b"/><stop offset="0.757" stop-color="#8c528b"/><stop offset="0.770" stop-color="#8c528c"/><stop offset="0.784" stop-color="#8b528c"/><stop offset="0.797" stop-color="#8b528c"/><stop offset="0.811" stop-color="#8b528c"/><stop offset="0.824" stop-color="#8b528c"/><stop offset="0.838" stop-color="#8b528c"/><stop offset="0.851" stop-color="#8b528c"/><stop offset="0.865" stop-color="#8b528c"/><stop offset="0.878" stop-color="#8b528c"/><stop offset="0.892" stop-color="#8b528c"/><stop offset="0.905" stop-color="#8b528c"/><stop offset="0.919" stop-color="#8b528c"/><stop offset="0.932" stop-color="#8b528c"/><stop offset="0.946" stop-color="#8b528c"/><stop offset="0.959" stop-color="#8b528c"/><stop offset="0.973" stop-color="#8b528c"/><stop offset="0.986" stop-color="#8b528c"/><stop offset="1.000" stop-color="#8b528c"/></linearGradient>
<linearGradient id="c27" x1="0" y1="0" x2="0" y2="1"><stop offset="0.000" stop-color="#e7fa5a"/><stop offset="0.014" stop-color="#e7f95a"/><stop offset="0.027" stop-color="#e8f859"/><stop offset="0.041" stop-color="#e8f859"/><stop offset="0.055" stop-color="#e8f758"/><stop offset="0.068" stop-color="#e9f658"/><stop offset="0.082" stop-color="#e9f558"/><stop offset="0.096" stop-color="#eaf156"/><stop offset="0.110" stop-color="#ecec53"/><stop offset="0.123" stop-color="#efe650"/><stop offset="0.137" stop-color="#f1e14d"/><stop offset="0.151" stop-color="#f2de4c"/><stop offset="0.164" stop-color="#f2dc4b"/><stop offset="0.178" stop-color="#f3db4a"/><stop offset="0.192" stop-color="#f4d949"/><stop offset="0.205" stop-color="#f4d849"/><stop offset="0.219" stop-color="#f5d648"/><stop offset="0.233" stop-color="#f5d547"/><stop offset="0.247" stop-color="#f6d446"/><stop offset="0.260" stop-color="#f6d246"/><stop offset="0.274" stop-color="#f6d145"/><stop offset="0.288" stop-color="#f7cf45"/><stop offset="0.301" stop-color="#f7ca44"/><stop offset="0.315" stop-color="#f8c542"/><stop offset="0.329" stop-color="#f8c041"/><stop offset="0.342" stop-color="#f9bb40"/><stop offset="0.356" stop-color="#fab63e"/><stop offset="0.370" stop-color="#fab13d"/><stop offset="0.384" stop-color="#fbac3c"/><stop offset="0.397" stop-color="#faa83d"/><stop offset="0.411" stop-color="#faa33f"/><stop offset="0.425" stop-color="#f99f40"/><stop offset="0.438" stop-color="#f89b41"/><stop offset="0.452" stop-color="#f89642"/><stop offset="0.466" stop-color="#f79044"/><stop offset="0.479" stop-color="#f48947"/><stop offset="0.493" stop-color="#ef834e"/><stop offset="0.507" stop-color="#ea7c55"/><stop offset="0.521" stop-color="#e5765b"/><stop offset="0.534" stop-color="#d66c6a"/><stop offset="0.548" stop-color="#c06479"/><stop offset="0.562" stop-color="#ab5d82"/><stop offset="0.575" stop-color="#9d5987"/><stop offset="0.589" stop-color="#91548a"/><stop offset="0.603" stop-color="#8b528c"/><stop offset="0.616" stop-color="#8b528c"/><stop offset="0.630" stop-color="#8b528c"/><stop offset="0.644" stop-color="#8b528c"/><stop offset="0.658" stop-color="#8b528c"/><stop offset="0.671" stop-color="#8b528c"/><stop offset="0.685" stop-color="#8b528c"/><stop offset="0.699" stop-color="#8b528c"/><stop offset="0.712" stop-color="#8b528c"/><stop offset="0.726" stop-color="#8b528c"/><stop offset="0.740" stop-color="#8b528c"/><stop offset="0.753" stop-color="#8b528c"/><stop offset="0.767" stop-color="#8b528c"/><stop offset="0.781" stop-color="#8b528c"/><stop offset="0.795" stop-color="#8b528c"/><stop offset="0.808" stop-color="#8b528c"/><stop offset="0.822" stop-color="#8b528c"/><stop offset="0.836" stop-color="#8b528c"/><stop offset="0.849" stop-color="#8b528c"/><stop offset="0.863" stop-color="#8b528c"/><stop offset="0.877" stop-color="#8b528c"/><stop offset="0.890" stop-color="#8b528c"/><stop offset="0.904" stop-color="#8b528c"/><stop offset="0.918" stop-color="#8b528c"/><stop offset="0.932" stop-color="#8b528c"/><stop offset="0.945" stop-color="#8b528c"/><stop offset="0.959" stop-color="#8b528c"/><stop offset="0.973" stop-color="#8b528c"/><stop offset="0.986" stop-color="#8b528c"/><stop offset="1.000" stop-color="#8b528c"/></linearGradient>
<linearGradient id="c28" x1="0" y1="0" x2="0" y2="1"><stop offset="0.000" stop-color="#e7fa5a"/><stop offset="0.014" stop-color="#e7f95a"/><stop offset="0.027" stop-color="#e7f959"/><stop offset="0.041" stop-color="#e8f859"/><stop offset="0.054" stop-color="#e8f859"/><stop offset="0.068" stop-color="#e8f758"/><stop offset="0.081" stop-color="#e8f658"/><stop offset="0.095" stop-color="#e9f658"/><stop offset="0.108" stop-color="#e9f558"/><stop offset="0.122" stop-color="#eaf256"/><stop offset="0.135" stop-color="#eced53"/><stop offset="0.149" stop-color="#eee750"/><stop offset="0.162" stop-color="#f0e24e"/><stop offset="0.176" stop-color="#f2de4c"/><stop offset="0.189" stop-color="#f2dd4b"/><stop offset="0.203" stop-color="#f3db4a"/><stop offset="0.216" stop-color="#f3da49"/><stop offset="0.230" stop-color="#f4d849"/><stop offset="0.243" stop-color="#f5d748"/><stop offset="0.257" stop-color="#f5d547"/><stop offset="0.270" stop-color="#f6d446"/><stop offset="0.284" stop-color="#f6d246"/><stop offset="0.297" stop-color="#f6d145"/><stop offset="0.311" stop-color="#f6cf45"/><stop offset="0.324" stop-color="#f7cc44"/><stop offset="0.338" stop-color="#f7c843"/><stop offset="0.351" stop-color="#f8c442"/><stop offset="0.365" stop-color="#f8c041"/><stop offset="0.378" stop-color="#f9bc40"/><stop offset="0.392" stop-color="#fab83f"/><stop offset="0.405" stop-color="#fab43e"/><stop offset="0.419" stop-color="#fbb03d"/><stop offset="0.432" stop-color="#fbad3c"/><stop offset="0.446" stop-color="#faa93d"/><stop offset="0.459" stop-color="#faa63e"/><stop offset="0.473" stop-color="#f9a23f"/><stop offset="0.486" stop-color="#f99e40"/><stop offset="0.500" stop-color="#f89b41"/><stop offset="0.514" stop-color="#f89742"/><stop offset="0.527" stop-color="#f79443"/><stop offset="0.541" stop-color="#f78f44"/><stop offset="0.554" stop-color="#f58947"/><stop offset="0.568" stop-color="#f1854b"/><stop offset="0.581" stop-color="#ee8150"/><stop offset="0.595" stop-color="#ea7d55"/><stop offset="0.608" stop-color="#e77859"/><stop offset="0.622" stop-color="#e2735f"/><stop offset="0.635" stop-color="#d76d68"/><stop offset="0.649" stop-color="#cb6871"/><stop offset="0.662" stop-color="#bf637a"/><stop offset="0.676" stop-color="#b25f7f"/><stop offset="0.689" stop-color="#a75c83"/><stop offset="0.703" stop-color="#9d5987"/><stop offset="0.716" stop-color="#955589"/><stop offset="0.730" stop-color="#8e538b"/><stop offset="0.743" stop-color="#8d538b"/><stop offset="0.757" stop-color="#8d538b"/><stop offset="0.770" stop-color="#8d538b"/><stop offset="0.784" stop-color="#8c528b"/><stop offset="0.797" stop-color="#8c528b"/><stop offset="0.811" stop-color="#8c528c"/><stop offset="0.824" stop-color="#8b528c"/><stop offset="0.838" stop-color="#8b528c"/><stop offset="0.851" stop-color="#8b528c"/><stop offset="0.865" stop-color="#8b528c"/><stop offset="0.878" stop-color="#8b528c"/><stop offset="0.892" stop-color="#8b528c"/><stop offset="0.905" stop-color="#8b528c"/><stop offset="0.919" stop-color="#8b528c"/><stop offset="0.932" stop-color="#8b528c"/><stop offset="0.946" stop-color="#8b528c"/><stop offset="0.959" stop-color="#8b528c"/><stop offset="0.973" stop-color="#8b528c"/><stop offset="0.986" stop-color="#8b528c"/><stop offset="1.000" stop-color="#8b528c"/></linearGradient>
<linearGradient id="c29" x1="0" y1="0" x2="0" y2="1"><stop offset="0.000" stop-color="#e7fa5a"/><stop offset="0.013" stop-color="#e7f95a"/><stop offset="0.026" stop-color="#e7f959"/><stop offset="0.039" stop-color="#e8f859"/><stop offset="0.053" stop-color="#e8f859"/><stop offset="0.066" stop-color="#e8f759"/><stop offset="0.079" stop-color="#e8f758"/><stop offset="0.092" stop-color="#e8f658"/><stop offset="0.105" stop-color="#e9f658"/><stop offset="0.118" stop-color="#e9f558"/><stop offset="0.132" stop-color="#eaf155"/><stop offset="0.145" stop-color="#edec53"/><stop offset="0.158" stop-color="#efe650"/><stop offset="0.171" stop-color="#f1e04d"/><stop offset="0.184" stop-color="#f2de4c"/><stop offset="0.197" stop-color="#f2dd4b"/><stop offset="0.211" stop-color="#f2dc4b"/><stop offset="0.224" stop-color="#f3db4a"/><stop offset="0.237" stop-color="#f3da4a"/><stop offset="0.250" stop-color="#f4d949"/><stop offset="0.263" stop-color="#f4d849"/><stop offset="0.276" stop-color="#f4d748"/><stop offset="0.289" stop-color="#f5d648"/><stop offset="0.303" stop-color="#f5d547"/><stop offset="0.316" stop-color="#f6d447"/><stop offset="0.329" stop-color="#f6d346"/><stop offset="0.342" stop-color="#f6d246"/><stop offset="0.355" stop-color="#f6d146"/><stop offset="0.368" stop-color="#f6d045"/><stop offset="0.382" stop-color="#f6cf45"/><stop offset="0.395" stop-color="#f7c943"/><stop offset="0.408" stop-color="#f8c041"/><stop offset="0.421" stop-color="#fab73f"/><stop offset="0.434" stop-color="#fbaf3c"/><stop offset="0.447" stop-color="#faa73e"/><stop offset="0.461" stop-color="#f99f40"/><stop offset="0.474" stop-color="#f89842"/><stop offset="0.487" stop-color="#f68e44"/><stop offset="0.500" stop-color="#f1854c"/><stop offset="0.513" stop-color="#ea7c55"/><stop offset="0.526" stop-color="#e3745e"/><stop offset="0.539" stop-color="#da6e66"/><stop offset="0.553" stop-color="#cf6a6e"/><stop offset="0.566" stop-color="#c56676"/><stop offset="0.579" stop-color="#ba627c"/><stop offset="0.592" stop-color="#ae5e80"/><stop offset="0.605" stop-color="#a85c83"/><stop offset="0.618" stop-color="#a25a85"/><stop offset="0.632" stop-color="#9d5987"/><stop offset="0.645" stop-color="#985788"/><stop offset="0.658" stop-color="#93558a"/><stop offset="0.671" stop-color="#91548a"/><stop offset="0.684" stop-color="#90548a"/><stop offset="0.697" stop-color="#90548b"/><stop offset="0.711" stop-color="#90548b"/><stop offset="0.724" stop-color="#8f538b"/><stop offset="0.737" stop-color="#8f538b"/><stop offset="0.750" stop-color="#8f538b"/><stop offset="0.763" stop-color="#8e538b"/><stop offset="0.776" stop-color="#8e538b"/><stop offset="0.789" stop-color="#8e538b"/><stop offset="0.803" stop-color="#8e538b"/><stop offset="0.816" stop-color="#8e538b"/><stop offset="0.829" stop-color="#8e538b"/><stop offset="0.842" stop-color="#8e538b"/><stop offset="0.855" stop-color="#8e538b"/><stop offset="0.868" stop-color="#8e538b"/><stop offset="0.882" stop-color="#8e538b"/><stop offset="0.895" stop-color="#8e538b"/><stop offset="0.908" stop-color="#8e538b"/><stop offset="0.921" stop-color="#8e538b"/><stop offset="0.934" stop-color="#8e538b"/><stop offset="0.947" stop-color="#8e538b"/><stop offset="0.961" stop-color="#8e538b"/><stop offset="0.974" stop-color="#8e538b"/><stop offset="0.987" stop-color="#8e538b"/><stop offset="1.000" stop-color="#8e538b"/></linearGradient>
<linearGradient id="c30" x1="0" y1="0" x2="0" y2="1"><stop offset="0.000" stop-color="#e7fa5a"/><stop offset="0.013" stop-color="#e7fa5a"/><stop offset="0.026" stop-color="#e7f95a"/><stop offset="0.039" stop-color="#e7f959"/><stop offset="0.053" stop-color="#e8f859"/><stop offset="0.066" stop-color="#e8f859"/><stop offset="0.079" stop-color="#e8f759"/><stop offset="0.092" stop-color="#e8f758"/><stop offset="0.105" stop-color="#e8f758"/><stop offset="0.118" stop-color="#e8f658"/><stop offset="0.132" stop-color="#e9f658"/><stop offset="0.145" stop-color="#e9f558"/><stop offset="0.158" stop-color="#eaf356"/><stop offset="0.171" stop-color="#eced53"/><stop offset="0.184" stop-color="#eee851"/><stop offset="0.197" stop-color="#f0e24e"/><stop offset="0.211" stop-color="#f2de4c"/><stop offset="0.224" stop-color="#f2de4b"/><stop offset="0.237" stop-color="#f2dd4b"/><stop offset="0.250" stop-color="#f3dc4a"/><stop offset="0.263" stop-color="#f3db4a"/><stop offset="0.276" stop-color="#f3da4a"/><stop offset="0.289" stop-color="#f4d949"/><stop offset="0.303" stop-color="#f4d849"/><stop offset="0.316" stop-color="#f4d748"/><stop offset="0.329" stop-color="#f5d648"/><stop offset="0.342" stop-color="#f5d547"/><stop offset="0.355" stop-color="#f5d447"/><stop offset="0.368" stop-color="#f6d446"/><stop offset="0.382" stop-color="#f6d346"/><stop offset="0.395" stop-color="#f6d246"/><stop offset="0.408" stop-color="#f6d145"/><stop offset="0.421" stop-color="#f6d045"/><stop offset="0.434" stop-color="#f7cf45"/><stop offset="0.447" stop-color="#f8c743"/><stop offset="0.461" stop-color="#f9c041"/><stop offset="0.474" stop-color="#fab83f"/><stop offset="0.487" stop-color="#fbb13d"/><stop offset="0.500" stop-color="#faa93d"/><stop offset="0.513" stop-color="#f9a33f"/><stop offset="0.526" stop-color="#f99c40"/><stop offset="0.539" stop-color="#f89542"/><stop offset="0.553" stop-color="#f78f44"/><stop offset="0.566" stop-color="#f48947"/><stop offset="0.579" stop-color="#f0844d"/><stop offset="0.592" stop-color="#ec7f52"/><stop offset="0.605" stop-color="#e87a58"/><stop offset="0.618" stop-color="#e4745d"/><stop offset="0.632" stop-color="#dc6f65"/><stop offset="0.645" stop-color="#d36b6c"/><stop offset="0.658" stop-color="#c96773"/><stop offset="0.671" stop-color="#c06479"/><stop offset="0.684" stop-color="#b6607d"/><stop offset="0.697" stop-color="#ac5d82"/><stop offset="0.711" stop-color="#a15a86"/><stop offset="0.724" stop-color="#975789"/><stop offset="0.737" stop-color="#8e538b"/><stop offset="0.750" stop-color="#85508d"/><stop offset="0.763" stop-color="#854f8d"/><stop offset="0.776" stop-color="#844f8d"/><stop offset="0.789" stop-color="#844f8e"/><stop offset="0.803" stop-color="#844f8e"/><stop offset="0.816" stop-color="#834f8e"/><stop offset="0.829" stop-color="#834f8e"/><stop offset="0.842" stop-color="#834f8e"/><stop offset="0.855" stop-color="#824f8e"/><stop offset="0.868" stop-color="#824f8e"/><stop offset="0.882" stop-color="#824e8e"/><stop offset="0.895" stop-color="#824e8e"/><stop offset="0.908" stop-color="#824e8e"/><stop offset="0.921" stop-color="#824e8e"/><stop offset="0.934" stop-color="#824e8e"/><stop offset="0.947" stop-color="#824e8e"/><stop offset="0.961" stop-color="#824e8e"/><stop offset="0.974" stop-color="#824e8e"/><stop offset="0.987" stop-color="#824e8e"/><stop offset="1.000" stop-color="#824e8e"/></linearGradient>
<linearGradient id="c31" x1="0" y1="0" x2="0" y2="1"><stop offset="0.000" stop-color="#e7fa5a"/><stop offset="0.014" stop-color="#e7f95a"/><stop offset="0.027" stop-color="#e7f959"/><stop offset="0.041" stop-color="#e8f859"/><stop offset="0.054" stop-color="#e8f759"/><stop offset="0.068" stop-color="#e8f758"/><stop offset="0.081" stop-color="#e8f658"/><stop offset="0.095" stop-color="#e9f558"/><stop offset="0.108" stop-color="#eaf357"/><stop offset="0.122" stop-color="#ecee54"/><stop offset="0.135" stop-color="#eee851"/><stop offset="0.149" stop-color="#f0e34e"/><stop offset="0.162" stop-color="#f2df4c"/><stop offset="0.176" stop-color="#f2de4b"/><stop offset="0.189" stop-color="#f2dd4b"/><stop offset="0.203" stop-color="#f3dc4a"/><stop offset="0.216" stop-color="#f3db4a"/><stop offset="0.230" stop-color="#f3da4a"/><stop offset="0.243" stop-color="#f4d949"/><stop offset="0.257" stop-color="#f4d849"/><stop offset="0.270" stop-color="#f4d748"/><stop offset="0.284" stop-color="#f5d648"/><stop offset="0.297" stop-color="#f5d547"/><stop offset="0.311" stop-color="#f6d447"/><stop offset="0.324" stop-color="#f6d346"/><stop offset="0.338" stop-color="#f6d246"/><stop offset="0.351" stop-color="#f6d146"/><stop offset="0.365" stop-color="#f6d045"/><stop offset="0.378" stop-color="#f6d045"/><stop offset="0.392" stop-color="#f7ca44"/><stop offset="0.405" stop-color="#f8c342"/><stop offset="0.419" stop-color="#f9bc40"/><stop offset="0.432" stop-color="#fab53e"/><stop offset="0.446" stop-color="#fbad3c"/><stop offset="0.459" stop-color="#faa73e"/><stop offset="0.473" stop-color="#f9a03f"/><stop offset="0.486" stop-color="#f89a41"/><stop offset="0.500" stop-color="#f79443"/><stop offset="0.514" stop-color="#f68e44"/><stop offset="0.527" stop-color="#f58a46"/><stop offset="0.541" stop-color="#f2864b"/><stop offset="0.554" stop-color="#ef824f"/><stop offset="0.568" stop-color="#eb7e53"/><stop offset="0.581" stop-color="#e87a57"/><stop offset="0.595" stop-color="#e5765b"/><stop offset="0.608" stop-color="#e17161"/><stop offset="0.622" stop-color="#d96e67"/><stop offset="0.635" stop-color="#d16b6d"/><stop offset="0.649" stop-color="#ca6872"/><stop offset="0.662" stop-color="#c26478"/><stop offset="0.676" stop-color="#ba627c"/><stop offset="0.689" stop-color="#b25f7f"/><stop offset="0.703" stop-color="#a85c83"/><stop offset="0.716" stop-color="#9b5888"/><stop offset="0.730" stop-color="#90548a"/><stop offset="0.743" stop-color="#85508d"/><stop offset="0.757" stop-color="#854f8d"/><stop offset="0.770" stop-color="#844f8d"/><stop offset="0.784" stop-color="#844f8e"/><stop offset="0.797" stop-color="#844f8e"/><stop offset="0.811" stop-color="#834f8e"/><stop offset="0.824" stop-color="#834f8e"/><stop offset="0.838" stop-color="#834f8e"/><stop offset="0.851" stop-color="#824f8e"/><stop offset="0.865" stop-color="#824f8e"/><stop offset="0.878" stop-color="#824e8e"/><stop offset="0.892" stop-color="#824e8e"/><stop offset="0.905" stop-color="#824e8e"/><stop offset="0.919" stop-color="#824e8e"/><stop offset="0.932" stop-color="#824e8e"/><stop offset="0.946" stop-color="#824e8e"/><stop offset="0.959" stop-color="#824e8e"/><stop offset="0.973" stop-color="#824e8e"/><stop offset="0.986" stop-color="#824e8e"/><stop offset="1.000" stop-color="#824e8e"/></linearGradient>
<linearGradient id="c32" x1="0" y1="0" x2="0" y2="1"><stop offset="0.000" stop-color="#e7fa5a"/><stop offset="0.013" stop-color="#e7f95a"/><stop offset="0.027" stop-color="#e7f959"/><stop offset="0.040" stop-color="#e8f859"/><stop offset="0.053" stop-color="#e8f859"/><stop offset="0.067" stop-color="#e8f759"/><stop offset="0.080" stop-color="#e8f758"/><stop offset="0.093" stop-color="#e8f658"/><stop offset="0.107" stop-color="#e9f658"/><stop offset="0.120" stop-color="#e9f558"/><stop offset="0.133" stop-color="#ebf155"/><stop offset="0.147" stop-color="#edeb52"/><stop offset="0.160" stop-color="#efe650"/><stop offset="0.173" stop-color="#f1e04d"/><stop offset="0.187" stop-color="#f2de4c"/><stop offset="0.200" stop-color="#f2dc4b"/><stop offset="0.213" stop-color="#f3db4a"/><stop offset="0.227" stop-color="#f3da49"/><stop offset="0.240" stop-color="#f4d849"/><stop offset="0.253" stop-color="#f4d748"/><stop offset="0.267" stop-color="#f5d647"/><stop offset="0.280" stop-color="#f5d547"/><stop offset="0.293" stop-color="#f6d346"/><stop offset="0.307" stop-color="#f6d246"/><stop offset="0.320" stop-color="#f6d145"/><stop offset="0.333" stop-color="#f6cf45"/><stop offset="0.347" stop-color="#f7c943"/><stop offset="0.360" stop-color="#f8c342"/><stop offset="0.373" stop-color="#f9bd40"/><stop offset="0.387" stop-color="#fab63e"/><stop offset="0.400" stop-color="#fbb03d"/><stop offset="0.413" stop-color="#fbaa3d"/><stop offset="0.427" stop-color="#faa43e"/><stop offset="0.440" stop-color="#f99f40"/><stop offset="0.453" stop-color="#f89941"/><stop offset="0.467" stop-color="#f79343"/><stop offset="0.480" stop-color="#f68e44"/><stop offset="0.493" stop-color="#f48948"/><stop offset="0.507" stop-color="#f0844c"/><stop offset="0.520" stop-color="#ed8051"/><stop offset="0.533" stop-color="#e97b56"/><stop offset="0.547" stop-color="#e6775b"/><stop offset="0.560" stop-color="#e17161"/><stop offset="0.573" stop-color="#da6e66"/><stop offset="0.587" stop-color="#d36b6b"/><stop offset="0.600" stop-color="#cc6971"/><stop offset="0.613" stop-color="#c56676"/><stop offset="0.627" stop-color="#be637a"/><stop offset="0.640" stop-color="#b6617d"/><stop offset="0.653" stop-color="#ae5e81"/><stop offset="0.667" stop-color="#a25a85"/><stop offset="0.680" stop-color="#965689"/><stop offset="0.693" stop-color="#8a518c"/><stop offset="0.707" stop-color="#87508d"/><stop offset="0.720" stop-color="#87508d"/><stop offset="0.733" stop-color="#86508d"/><stop offset="0.747" stop-color="#85508d"/><stop offset="0.760" stop-color="#85508d"/><stop offset="0.773" stop-color="#844f8d"/><stop offset="0.787" stop-color="#844f8e"/><stop offset="0.800" stop-color="#834f8e"/><stop offset="0.813" stop-color="#824f8e"/><stop offset="0.827" stop-color="#824e8e"/><stop offset="0.840" stop-color="#824e8e"/><stop offset="0.853" stop-color="#824e8e"/><stop offset="0.867" stop-color="#824e8e"/><stop offset="0.880" stop-color="#824e8e"/><stop offset="0.893" stop-color="#824e8e"/><stop offset="0.907" stop-color="#824e8e"/><stop offset="0.920" stop-color="#824e8e"/><stop offset="0.933" stop-color="#824e8e"/><stop offset="0.947" stop-color="#824e8e"/><stop offset="0.960" stop-color="#824e8e"/><stop offset="0.973" stop-color="#824e8e"/><stop offset="0.987" stop-color="#824e8e"/><stop offset="1.000" stop-color="#824e8e"/></linearGradient>
<linearGradient id="c33" x1="0" y1="0" x2="0" y2="1"><stop offset="0.000" stop-color="#e7fa5a"/><stop offset="0.014" stop-color="#e7f95a"/><stop offset="0.027" stop-color="#e8f859"/><stop offset="0.041" stop-color="#e8f859"/><stop offset="0.054" stop-color="#e8f758"/><stop offset="0.068" stop-color="#e9f658"/><stop offset="0.081" stop-color="#e9f558"/><stop offset="0.095" stop-color="#eaf256"/><stop offset="0.108" stop-color="#ecec53"/><stop offset="0.122" stop-color="#efe650"/><stop offset="0.135" stop-color="#f1e14d"/><stop offset="0.149" stop-color="#f2de4c"/><stop offset="0.162" stop-color="#f2dd4b"/><stop offset="0.176" stop-color="#f3dc4a"/><stop offset="0.189" stop-color="#f3da4a"/><stop offset="0.203" stop-color="#f4d949"/><stop offset="0.216" stop-color="#f4d848"/><stop offset="0.230" stop-color="#f5d748"/><stop offset="0.243" stop-color="#f5d547"/><stop offset="0.257" stop-color="#f6d447"/><stop offset="0.270" stop-color="#f6d346"/><stop offset="0.284" stop-color="#f6d246"/><stop offset="0.297" stop-color="#f6d045"/><stop offset="0.311" stop-color="#f6cf45"/><stop offset="0.324" stop-color="#f7ca44"/><stop offset="0.338" stop-color="#f8c542"/><stop offset="0.351" stop-color="#f8c041"/><stop offset="0.365" stop-color="#f9bb40"/><stop offset="0.378" stop-color="#fab73f"/><stop offset="0.392" stop-color="#fab23d"/><stop offset="0.405" stop-color="#fbad3c"/><stop offset="0.419" stop-color="#faa83d"/><stop offset="0.432" stop-color="#faa43e"/><stop offset="0.446" stop-color="#f99f40"/><stop offset="0.459" stop-color="#f89b41"/><stop offset="0.473" stop-color="#f89642"/><stop offset="0.486" stop-color="#f79243"/><stop offset="0.500" stop-color="#f68d44"/><stop offset="0.514" stop-color="#f48947"/><stop offset="0.527" stop-color="#f1854c"/><stop offset="0.541" stop-color="#ee8150"/><stop offset="0.554" stop-color="#eb7d54"/><stop offset="0.568" stop-color="#e87a58"/><stop offset="0.581" stop-color="#e5765c"/><stop offset="0.595" stop-color="#e07162"/><stop offset="0.608" stop-color="#d86d68"/><stop offset="0.622" stop-color="#d06a6e"/><stop offset="0.635" stop-color="#c86774"/><stop offset="0.649" stop-color="#c06479"/><stop offset="0.662" stop-color="#b8617d"/><stop offset="0.676" stop-color="#af5e80"/><stop offset="0.689" stop-color="#a45b84"/><stop offset="0.703" stop-color="#995788"/><stop offset="0.716" stop-color="#8f538b"/><stop offset="0.730" stop-color="#88518d"/><stop offset="0.743" stop-color="#87508d"/><stop offset="0.757" stop-color="#86508d"/><stop offset="0.770" stop-color="#86508d"/><stop offset="0.784" stop-color="#85508d"/><stop offset="0.797" stop-color="#844f8d"/><stop offset="0.811" stop-color="#844f8e"/><stop offset="0.824" stop-color="#834f8e"/><stop offset="0.838" stop-color="#834f8e"/><stop offset="0.851" stop-color="#824e8e"/><stop offset="0.865" stop-color="#824e8e"/><stop offset="0.878" stop-color="#824e8e"/><stop offset="0.892" stop-color="#824e8e"/><stop offset="0.905" stop-color="#824e8e"/><stop offset="0.919" stop-color="#824e8e"/><stop offset="0.932" stop-color="#824e8e"/><stop offset="0.946" stop-color="#824e8e"/><stop offset="0.959" stop-color="#824e8e"/><stop offset="0.973" stop-color="#824e8e"/><stop offset="0.986" stop-color="#824e8e"/><stop offset="1.000" stop-color="#824e8e"/></linearGradient>
<linearGradient id="c34" x1="0" y1="0" x2="0" y2="1"><stop offset="0.000" stop-color="#e7fa5a"/><stop offset="0.014" stop-color="#e7f95a"/><stop offset="0.027" stop-color="#e8f959"/><stop offset="0.041" stop-color="#e8f859"/><stop offset="0.054" stop-color="#e8f759"/><stop offset="0.068" stop-color="#e8f658"/><stop offset="0.081" stop-color="#e9f658"/><stop offset="0.095" stop-color="#e9f457"/><stop offset="0.108" stop-color="#ebef54"/><stop offset="0.122" stop-color="#eee951"/><stop offset="0.135" stop-color="#f0e44e"/><stop offset="0.149" stop-color="#f2df4c"/><stop offset="0.162" stop-color="#f2dd4b"/><stop offset="0.176" stop-color="#f2dc4b"/><stop offset="0.189" stop-color="#f3db4a"/><stop offset="0.203" stop-color="#f3da4a"/><stop offset="0.216" stop-color="#f4d949"/><stop offset="0.230" stop-color="#f4d748"/><stop offset="0.243" stop-color="#f5d648"/><stop offset="0.257" stop-color="#f5d547"/><stop offset="0.270" stop-color="#f6d446"/><stop offset="0.284" stop-color="#f6d346"/><stop offset="0.297" stop-color="#f6d246"/><stop offset="0.311" stop-color="#f6d045"/><stop offset="0.324" stop-color="#f6cf45"/><stop offset="0.338" stop-color="#f7cb44"/><stop offset="0.351" stop-color="#f8c743"/><stop offset="0.365" stop-color="#f8c242"/><stop offset="0.378" stop-color="#f9be41"/><stop offset="0.392" stop-color="#f9ba3f"/><stop offset="0.405" stop-color="#fab63e"/><stop offset="0.419" stop-color="#fab13d"/><stop offset="0.432" stop-color="#fbad3c"/><stop offset="0.446" stop-color="#faa93d"/><stop offset="0.459" stop-color="#faa53e"/><stop offset="0.473" stop-color="#f9a13f"/><stop offset="0.486" stop-color="#f99d40"/><stop offset="0.500" stop-color="#f89a41"/><stop offset="0.514" stop-color="#f89642"/><stop offset="0.527" stop-color="#f79143"/><stop offset="0.541" stop-color="#f68b45"/><stop offset="0.554" stop-color="#f38749"/><stop offset="0.568" stop-color="#ef834e"/><stop offset="0.581" stop-color="#ec7e53"/><stop offset="0.595" stop-color="#e87a57"/><stop offset="0.608" stop-color="#e5765c"/><stop offset="0.622" stop-color="#dd6f64"/><stop offset="0.635" stop-color="#d36b6c"/><stop offset="0.649" stop-color="#c86774"/><stop offset="0.662" stop-color="#bd637a"/><stop offset="0.676" stop-color="#b25f7f"/><stop offset="0.689" stop-color="#a75c83"/><stop offset="0.703" stop-color="#9c5887"/><stop offset="0.716" stop-color="#93558a"/><stop offset="0.730" stop-color="#89518c"/><stop offset="0.743" stop-color="#85508d"/><stop offset="0.757" stop-color="#844f8d"/><stop offset="0.770" stop-color="#844f8d"/><stop offset="0.784" stop-color="#844f8e"/><stop offset="0.797" stop-color="#834f8e"/><stop offset="0.811" stop-color="#834f8e"/><stop offset="0.824" stop-color="#834f8e"/><stop offset="0.838" stop-color="#834f8e"/><stop offset="0.851" stop-color="#824f8e"/><stop offset="0.865" stop-color="#824e8e"/><stop offset="0.878" stop-color="#824e8e"/><stop offset="0.892" stop-color="#824e8e"/><stop offset="0.905" stop-color="#824e8e"/><stop offset="0.919" stop-color="#824e8e"/><stop offset="0.932" stop-color="#824e8e"/><stop offset="0.946" stop-color="#824e8e"/><stop offset="0.959" stop-color="#824e8e"/><stop offset="0.973" stop-color="#824e8e"/><stop offset="0.986" stop-color="#824e8e"/><stop offset="1.000" stop-color="#824e8e"/></linearGradient>
<linearGradient id="c35" x1="0" y1="0" x2="0" y2="1"><stop offset="0.000" stop-color="#e7fa5a"/><stop offset="0.014" stop-color="#e7f95a"/><stop offset="0.027" stop-color="#e8f859"/><stop offset="0.041" stop-color="#e8f859"/><stop offset="0.055" stop-color="#e8f758"/><stop offset="0.068" stop-color="#e9f658"/><stop offset="0.082" stop-color="#e9f557"/><stop offset="0.096" stop-color="#ebf055"/><stop offset="0.110" stop-color="#edea52"/><stop offset="0.123" stop-color="#efe54f"/><stop offset="0.137" stop-color="#f1df4c"/><stop offset="0.151" stop-color="#f2de4b"/><stop offset="0.164" stop-color="#f2dc4b"/><stop offset="0.178" stop-color="#f3db4a"/><stop offset="0.192" stop-color="#f3da4a"/><stop offset="0.205" stop-color="#f4d949"/><stop offset="0.219" stop-color="#f4d848"/><stop offset="0.233" stop-color="#f5d648"/><stop offset="0.247" stop-color="#f5d547"/><stop offset="0.260" stop-color="#f6d447"/><stop offset="0.274" stop-color="#f6d346"/><stop offset="0.288" stop-color="#f6d246"/><stop offset="0.301" stop-color="#f6d145"/><stop offset="0.315" stop-color="#f6cf45"/><stop offset="0.329" stop-color="#f7cb44"/><stop offset="0.342" stop-color="#f8c743"/><stop offset="0.356" stop-color="#f8c241"/><stop offset="0.370" stop-color="#f9bd40"/><stop offset="0.384" stop-color="#fab83f"/><stop offset="0.397" stop-color="#fab43e"/><stop offset="0.411" stop-color="#fbaf3c"/><stop offset="0.425" stop-color="#fbaa3d"/><stop offset="0.438" stop-color="#faa63e"/><stop offset="0.452" stop-color="#f9a23f"/><stop offset="0.466" stop-color="#f99e40"/><stop offset="0.479" stop-color="#f89941"/><stop offset="0.493" stop-color="#f79542"/><stop offset="0.507" stop-color="#f79044"/><stop offset="0.521" stop-color="#f58a46"/><stop offset="0.534" stop-color="#f1854c"/><stop offset="0.548" stop-color="#ed8051"/><stop offset="0.562" stop-color="#e97b56"/><stop offset="0.575" stop-color="#e5765b"/><stop offset="0.589" stop-color="#e17161"/><stop offset="0.603" stop-color="#da6e66"/><stop offset="0.616" stop-color="#d36b6c"/><stop offset="0.630" stop-color="#cc6871"/><stop offset="0.644" stop-color="#c56576"/><stop offset="0.658" stop-color="#bd637a"/><stop offset="0.671" stop-color="#b6607e"/><stop offset="0.685" stop-color="#ae5e81"/><stop offset="0.699" stop-color="#a45b85"/><stop offset="0.712" stop-color="#9a5788"/><stop offset="0.726" stop-color="#90548a"/><stop offset="0.740" stop-color="#86508d"/><stop offset="0.753" stop-color="#854f8d"/><stop offset="0.767" stop-color="#844f8d"/><stop offset="0.781" stop-color="#844f8d"/><stop offset="0.795" stop-color="#844f8e"/><stop offset="0.808" stop-color="#834f8e"/><stop offset="0.822" stop-color="#834f8e"/><stop offset="0.836" stop-color="#834f8e"/><stop offset="0.849" stop-color="#824f8e"/><stop offset="0.863" stop-color="#824f8e"/><stop offset="0.877" stop-color="#824e8e"/><stop offset="0.890" stop-color="#824e8e"/><stop offset="0.904" stop-color="#824e8e"/><stop offset="0.918" stop-color="#824e8e"/><stop offset="0.932" stop-color="#824e8e"/><stop offset="0.945" stop-color="#824e8e"/><stop offset="0.959" stop-color="#824e8e"/><stop offset="0.973" stop-color="#824e8e"/><stop offset="0.986" stop-color="#824e8e"/><stop offset="1.000" stop-color="#824e8e"/></linearGradient>
<linearGradient id="c36" x1="0" y1="0" x2="0" y2="1"><stop offset="0.000" stop-color="#e7fa5a"/><stop offset="0.013" stop-color="#e7f95a"/><stop offset="0.027" stop-color="#e7f959"/><stop offset="0.040" stop-color="#e8f859"/><stop offset="0.053" stop-color="#e8f759"/><stop offset="0.067" stop-color="#e8f758"/><stop offset="0.080" stop-color="#e8f658"/><stop offset="0.093" stop-color="#e9f658"/><stop offset="0.107" stop-color="#e9f557"/><stop offset="0.120" stop-color="#ebef54"/><stop offset="0.133" stop-color="#ede951"/><stop offset="0.147" stop-color="#f0e44f"/><stop offset="0.160" stop-color="#f2df4c"/><stop offset="0.173" stop-color="#f2dd4b"/><stop offset="0.187" stop-color="#f3dc4b"/><stop offset="0.200" stop-color="#f3da4a"/><stop offset="0.213" stop-color="#f4d949"/><stop offset="0.227" stop-color="#f4d848"/><stop offset="0.240" stop-color="#f5d648"/><stop offset="0.253" stop-color="#f5d547"/><stop offset="0.267" stop-color="#f6d346"/><stop offset="0.280" stop-color="#f6d246"/><stop offset="0.293" stop-color="#f6d145"/><stop offset="0.307" stop-color="#f6cf45"/><stop offset="0.320" stop-color="#f7cc44"/><stop offset="0.333" stop-color="#f8c743"/><stop offset="0.347" stop-color="#f8c342"/><stop offset="0.360" stop-color="#f9bf41"/><stop offset="0.373" stop-color="#f9bb40"/><stop offset="0.387" stop-color="#fab73f"/><stop offset="0.400" stop-color="#fab33e"/><stop offset="0.413" stop-color="#fbaf3c"/><stop offset="0.427" stop-color="#fbab3d"/><stop offset="0.440" stop-color="#faa73e"/><stop offset="0.453" stop-color="#faa33f"/><stop offset="0.467" stop-color="#f9a040"/><stop offset="0.480" stop-color="#f89c41"/><stop offset="0.493" stop-color="#f89841"/><stop offset="0.507" stop-color="#f79542"/><stop offset="0.520" stop-color="#f79044"/><stop offset="0.533" stop-color="#f68b45"/><stop offset="0.547" stop-color="#f38849"/><stop offset="0.560" stop-color="#f0844c"/><stop offset="0.573" stop-color="#ee8150"/><stop offset="0.587" stop-color="#eb7d54"/><stop offset="0.600" stop-color="#e87958"/><stop offset="0.613" stop-color="#e5765c"/><stop offset="0.627" stop-color="#e3745e"/><stop offset="0.640" stop-color="#e27260"/><stop offset="0.653" stop-color="#e07161"/><stop offset="0.667" stop-color="#df7063"/><stop offset="0.680" stop-color="#dd6f64"/><stop offset="0.693" stop-color="#db6e66"/><stop offset="0.707" stop-color="#d96e67"/><stop offset="0.720" stop-color="#d76d69"/><stop offset="0.733" stop-color="#d56c6a"/><stop offset="0.747" stop-color="#d36b6b"/><stop offset="0.760" stop-color="#d16b6d"/><stop offset="0.773" stop-color="#cf6a6e"/><stop offset="0.787" stop-color="#cd6970"/><stop offset="0.800" stop-color="#cc6871"/><stop offset="0.813" stop-color="#c36577"/><stop offset="0.827" stop-color="#ba627c"/><stop offset="0.840" stop-color="#b05f80"/><stop offset="0.853" stop-color="#a85c83"/><stop offset="0.867" stop-color="#a05a86"/><stop offset="0.880" stop-color="#995788"/><stop offset="0.893" stop-color="#92548a"/><stop offset="0.907" stop-color="#8b528c"/><stop offset="0.920" stop-color="#8a528c"/><stop offset="0.933" stop-color="#8a518c"/><stop offset="0.947" stop-color="#89518c"/><stop offset="0.960" stop-color="#88518c"/><stop offset="0.973" stop-color="#88518d"/><stop offset="0.987" stop-color="#87508d"/><stop offset="1.000" stop-color="#86508d"/></linearGradient>
<linearGradient id="c37" x1="0" y1="0" x2="0" y2="1"><stop offset="0.000" stop-color="#e7fa5a"/><stop offset="0.014" stop-color="#e7f95a"/><stop offset="0.027" stop-color="#e7f959"/><stop offset="0.041" stop-color="#e8f859"/><stop offset="0.054" stop-color="#e8f759"/><stop offset="0.068" stop-color="#e8f758"/><stop offset="0.081" stop-color="#e8f658"/><stop offset="0.095" stop-color="#e9f558"/><stop offset="0.108" stop-color="#eaf357"/><stop offset="0.122" stop-color="#ecee54"/><stop offset="0.135" stop-color="#eee851"/><stop offset="0.149" stop-color="#f0e34e"/><stop offset="0.162" stop-color="#f2df4c"/><stop offset="0.176" stop-color="#f2de4c"/><stop offset="0.189" stop-color="#f2dd4b"/><stop offset="0.203" stop-color="#f2dc4b"/><stop offset="0.216" stop-color="#f3db4a"/><stop offset="0.230" stop-color="#f3db4a"/><stop offset="0.243" stop-color="#f3da4a"/><stop offset="0.257" stop-color="#f4d949"/><stop offset="0.270" stop-color="#f4d849"/><stop offset="0.284" stop-color="#f4d848"/><stop offset="0.297" stop-color="#f5d748"/><stop offset="0.311" stop-color="#f5d648"/><stop offset="0.324" stop-color="#f5d547"/><stop offset="0.338" stop-color="#f5d447"/><stop offset="0.351" stop-color="#f6d446"/><stop offset="0.365" stop-color="#f6d346"/><stop offset="0.378" stop-color="#f6d246"/><stop offset="0.392" stop-color="#f6d146"/><stop offset="0.405" stop-color="#f6d045"/><stop offset="0.419" stop-color="#f6d045"/><stop offset="0.432" stop-color="#f7ce45"/><stop offset="0.446" stop-color="#f7c843"/><stop offset="0.459" stop-color="#f8c342"/><stop offset="0.473" stop-color="#f9be40"/><stop offset="0.486" stop-color="#f9b93f"/><stop offset="0.500" stop-color="#fab33e"/><stop offset="0.514" stop-color="#fbae3c"/><stop offset="0.527" stop-color="#faa93d"/><stop offset="0.541" stop-color="#faa53e"/><stop offset="0.554" stop-color="#f9a03f"/><stop offset="0.568" stop-color="#f89b41"/><stop offset="0.581" stop-color="#f89742"/><stop offset="0.595" stop-color="#f79143"/><stop offset="0.608" stop-color="#f58a46"/><stop offset="0.622" stop-color="#f1854c"/><stop offset="0.635" stop-color="#ed8051"/><stop offset="0.649" stop-color="#e87a57"/><stop offset="0.662" stop-color="#e4755d"/><stop offset="0.676" stop-color="#e2735f"/><stop offset="0.689" stop-color="#e07161"/><stop offset="0.703" stop-color="#de7063"/><stop offset="0.716" stop-color="#db6f65"/><stop offset="0.730" stop-color="#d96e67"/><stop offset="0.743" stop-color="#d66c69"/><stop offset="0.757" stop-color="#d36b6b"/><stop offset="0.770" stop-color="#d16a6d"/><stop offset="0.784" stop-color="#ce696f"/><stop offset="0.797" stop-color="#cb6871"/><stop offset="0.811" stop-color="#c26578"/><stop offset="0.824" stop-color="#b9617c"/><stop offset="0.838" stop-color="#af5e80"/><stop offset="0.851" stop-color="#a75c83"/><stop offset="0.865" stop-color="#9f5986"/><stop offset="0.878" stop-color="#985788"/><stop offset="0.892" stop-color="#91548a"/><stop offset="0.905" stop-color="#8b528c"/><stop offset="0.919" stop-color="#8a528c"/><stop offset="0.932" stop-color="#8a518c"/><stop offset="0.946" stop-color="#89518c"/><stop offset="0.959" stop-color="#88518c"/><stop offset="0.973" stop-color="#88518d"/><stop offset="0.986" stop-color="#87508d"/><stop offset="1.000" stop-color="#86508d"/></linearGradient>
<linearGradient id="c38" x1="0" y1="0" x2="0" y2="1"><stop offset="0.000" stop-color="#e7fa5a"/><stop offset="0.013" stop-color="#e7f95a"/><stop offset="0.027" stop-color="#e7f959"/><stop offset="0.040" stop-color="#e8f859"/><stop offset="0.053" stop-color="#e8f859"/><stop offset="0.067" stop-color="#e8f759"/><stop offset="0.080" stop-color="#e8f758"/><stop offset="0.093" stop-color="#e8f658"/><stop offset="0.107" stop-color="#e9f658"/><stop offset="0.120" stop-color="#e9f557"/><stop offset="0.133" stop-color="#ebef55"/><stop offset="0.147" stop-color="#edea52"/><stop offset="0.160" stop-color="#efe44f"/><stop offset="0.173" stop-color="#f1df4c"/><stop offset="0.187" stop-color="#f2dd4b"/><stop offset="0.200" stop-color="#f2dc4b"/><stop offset="0.213" stop-color="#f3db4a"/><stop offset="0.227" stop-color="#f3da49"/><stop offset="0.240" stop-color="#f4d849"/><stop offset="0.253" stop-color="#f5d748"/><stop offset="0.267" stop-color="#f5d647"/><stop offset="0.280" stop-color="#f6d447"/><stop offset="0.293" stop-color="#f6d346"/><stop offset="0.307" stop-color="#f6d246"/><stop offset="0.320" stop-color="#f6d045"/><stop offset="0.333" stop-color="#f7cf45"/><stop offset="0.347" stop-color="#f7cb44"/><stop offset="0.360" stop-color="#f8c643"/><stop offset="0.373" stop-color="#f8c242"/><stop offset="0.387" stop-color="#f9be40"/><stop offset="0.400" stop-color="#f9b93f"/><stop offset="0.413" stop-color="#fab53e"/><stop offset="0.427" stop-color="#fbb13d"/><stop offset="0.440" stop-color="#fbac3c"/><stop offset="0.453" stop-color="#faa93d"/><stop offset="0.467" stop-color="#faa53e"/><stop offset="0.480" stop-color="#f9a13f"/><stop offset="0.493" stop-color="#f99d40"/><stop offset="0.507" stop-color="#f89941"/><stop offset="0.520" stop-color="#f89542"/><stop offset="0.533" stop-color="#f79143"/><stop offset="0.547" stop-color="#f68c45"/><stop offset="0.560" stop-color="#f48848"/><stop offset="0.573" stop-color="#f1854c"/><stop offset="0.587" stop-color="#ee814f"/><stop offset="0.600" stop-color="#eb7e53"/><stop offset="0.613" stop-color="#e87a57"/><stop offset="0.627" stop-color="#e5765b"/><stop offset="0.640" stop-color="#e3745e"/><stop offset="0.653" stop-color="#e27260"/><stop offset="0.667" stop-color="#e07161"/><stop offset="0.680" stop-color="#de7063"/><stop offset="0.693" stop-color="#dc6f65"/><stop offset="0.707" stop-color="#da6e66"/><stop offset="0.720" stop-color="#d86d68"/><stop offset="0.733" stop-color="#d66d69"/><stop offset="0.747" stop-color="#d46c6b"/><stop offset="0.760" stop-color="#d26b6c"/><stop offset="0.773" stop-color="#d06a6e"/><stop offset="0.787" stop-color="#ce6970"/><stop offset="0.800" stop-color="#cb6871"/><stop offset="0.813" stop-color="#c36578"/><stop offset="0.827" stop-color="#b9627c"/><stop offset="0.840" stop-color="#b05f80"/><stop offset="0.853" stop-color="#a75c83"/><stop offset="0.867" stop-color="#a05a86"/><stop offset="0.880" stop-color="#995788"/><stop offset="0.893" stop-color="#92548a"/><stop offset="0.907" stop-color="#8b528c"/><stop offset="0.920" stop-color="#8a528c"/><stop offset="0.933" stop-color="#8a518c"/><stop offset="0.947" stop-color="#89518c"/><stop offset="0.960" stop-color="#88518c"/><stop offset="0.973" stop-color="#88518d"/><stop offset="0.987" stop-color="#87508d"/><stop offset="1.000" stop-color="#86508d"/></linearGradient>
<linearGradient id="c39" x1="0" y1="0" x2="0" y2="1"><stop offset="0.000" stop-color="#e7fa5a"/><stop offset="0.013" stop-color="#e7fa5a"/><stop offset="0.026" stop-color="#e7f95a"/><stop offset="0.039" stop-color="#e7f959"/><stop offset="0.052" stop-color="#e8f959"/><stop offset="0.065" stop-color="#e8f859"/><stop offset="0.078" stop-color="#e8f859"/><stop offset="0.091" stop-color="#e8f859"/><stop offset="0.104" stop-color="#e8f759"/><stop offset="0.117" stop-color="#e8f758"/><stop offset="0.130" stop-color="#e8f758"/><stop offset="0.143" stop-color="#e8f658"/><stop offset="0.156" stop-color="#e9f658"/><stop offset="0.169" stop-color="#e9f658"/><stop offset="0.182" stop-color="#e9f558"/><stop offset="0.195" stop-color="#eaf356"/><stop offset="0.208" stop-color="#ecee54"/><stop offset="0.221" stop-color="#eee851"/><stop offset="0.234" stop-color="#f0e24e"/><stop offset="0.247" stop-color="#f2de4c"/><stop offset="0.260" stop-color="#f2dd4b"/><stop offset="0.273" stop-color="#f3db4a"/><stop offset="0.286" stop-color="#f3da4a"/><stop offset="0.299" stop-color="#f4d849"/><stop offset="0.312" stop-color="#f4d748"/><stop offset="0.325" stop-color="#f5d547"/><stop offset="0.338" stop-color="#f6d447"/><stop offset="0.351" stop-color="#f6d346"/><stop offset="0.364" stop-color="#f6d145"/><stop offset="0.377" stop-color="#f6d045"/><stop offset="0.390" stop-color="#f7cb44"/><stop offset="0.403" stop-color="#f8c542"/><stop offset="0.416" stop-color="#f9bf41"/><stop offset="0.429" stop-color="#f9b93f"/><stop offset="0.442" stop-color="#fab43e"/><stop offset="0.455" stop-color="#fbae3c"/><stop offset="0.468" stop-color="#faa83d"/><stop offset="0.481" stop-color="#faa33f"/><stop offset="0.494" stop-color="#f99e40"/><stop offset="0.506" stop-color="#f89941"/><stop offset="0.519" stop-color="#f79343"/><stop offset="0.532" stop-color="#f78f44"/><stop offset="0.545" stop-color="#f58a46"/><stop offset="0.558" stop-color="#f2874a"/><stop offset="0.571" stop-color="#f0834e"/><stop offset="0.584" stop-color="#ed7f51"/><stop offset="0.597" stop-color="#ea7c55"/><stop offset="0.610" stop-color="#e77859"/><stop offset="0.623" stop-color="#e4755d"/><stop offset="0.636" stop-color="#e3735f"/><stop offset="0.649" stop-color="#e27260"/><stop offset="0.662" stop-color="#e07162"/><stop offset="0.675" stop-color="#de7063"/><stop offset="0.688" stop-color="#dc6f65"/><stop offset="0.701" stop-color="#da6e66"/><stop offset="0.714" stop-color="#d96e67"/><stop offset="0.727" stop-color="#d76d69"/><stop offset="0.740" stop-color="#d56c6a"/><stop offset="0.753" stop-color="#d36b6c"/><stop offset="0.766" stop-color="#d16a6d"/><stop offset="0.779" stop-color="#cf6a6e"/><stop offset="0.792" stop-color="#cd6970"/><stop offset="0.805" stop-color="#cb6871"/><stop offset="0.818" stop-color="#c56676"/><stop offset="0.831" stop-color="#be637a"/><stop offset="0.844" stop-color="#b7617d"/><stop offset="0.857" stop-color="#b05f80"/><stop offset="0.870" stop-color="#aa5d82"/><stop offset="0.883" stop-color="#a35b85"/><stop offset="0.896" stop-color="#9d5887"/><stop offset="0.909" stop-color="#975689"/><stop offset="0.922" stop-color="#90548a"/><stop offset="0.935" stop-color="#8b528c"/><stop offset="0.948" stop-color="#8a528c"/><stop offset="0.961" stop-color="#8a518c"/><stop offset="0.974" stop-color="#89518c"/><stop offset="0.987" stop-color="#88518c"/><stop offset="1.000" stop-color="#88518d"/></linearGradient>
<linearGradient id="c42" x1="0" y1="0" x2="0" y2="1"><stop offset="0.000" stop-color="#e7fa5a"/><stop offset="0.011" stop-color="#e7fa5a"/><stop offset="0.022" stop-color="#e7f95a"/><stop offset="0.033" stop-color="#e8f959"/><stop offset="0.043" stop-color="#e8f859"/><stop offset="0.054" stop-color="#e8f859"/><stop offset="0.065" stop-color="#e8f759"/><stop offset="0.076" stop-color="#e8f758"/><stop offset="0.087" stop-color="#e8f658"/><stop offset="0.098" stop-color="#e9f658"/><stop offset="0.109" stop-color="#e9f558"/><stop offset="0.120" stop-color="#eaf256"/><stop offset="0.130" stop-color="#ecec53"/><stop offset="0.141" stop-color="#eee750"/><stop offset="0.152" stop-color="#f0e14d"/><stop offset="0.163" stop-color="#f2de4c"/><stop offset="0.174" stop-color="#f2dd4b"/><stop offset="0.185" stop-color="#f3db4a"/><stop offset="0.196" stop-color="#f3da49"/><stop offset="0.207" stop-color="#f4d849"/><stop offset="0.217" stop-color="#f4d748"/><stop offset="0.228" stop-color="#f5d547"/><stop offset="0.239" stop-color="#f6d447"/><stop offset="0.250" stop-color="#f6d346"/><stop offset="0.261" stop-color="#f6d146"/><stop offset="0.272" stop-color="#f6d045"/><stop offset="0.283" stop-color="#f7cd44"/><stop offset="0.293" stop-color="#f7c843"/><stop offset="0.304" stop-color="#f8c342"/><stop offset="0.315" stop-color="#f9be41"/><stop offset="0.326" stop-color="#f9ba3f"/><stop offset="0.337" stop-color="#fab53e"/><stop offset="0.348" stop-color="#fbb03d"/><stop offset="0.359" stop-color="#fbab3c"/><stop offset="0.370" stop-color="#faa73e"/><stop offset="0.380" stop-color="#faa33f"/><stop offset="0.391" stop-color="#f99f40"/><stop offset="0.402" stop-color="#f89a41"/><stop offset="0.413" stop-color="#f89642"/><stop offset="0.424" stop-color="#f79144"/><stop offset="0.435" stop-color="#f58a46"/><stop offset="0.446" stop-color="#f0844c"/><stop offset="0.457" stop-color="#ec7f52"/><stop offset="0.467" stop-color="#e77958"/><stop offset="0.478" stop-color="#e3735e"/><stop offset="0.489" stop-color="#dd6f64"/><stop offset="0.500" stop-color="#d76d69"/><stop offset="0.511" stop-color="#d06a6e"/><stop offset="0.522" stop-color="#c96773"/><stop offset="0.533" stop-color="#c26578"/><stop offset="0.543" stop-color="#bb627b"/><stop offset="0.554" stop-color="#b4607e"/><stop offset="0.565" stop-color="#ac5d81"/><stop offset="0.576" stop-color="#a95c83"/><stop offset="0.587" stop-color="#a55b84"/><stop offset="0.598" stop-color="#a25a86"/><stop offset="0.609" stop-color="#9e5987"/><stop offset="0.620" stop-color="#9b5888"/><stop offset="0.630" stop-color="#985789"/><stop offset="0.641" stop-color="#945589"/><stop offset="0.652" stop-color="#91548a"/><stop offset="0.663" stop-color="#8e538b"/><stop offset="0.674" stop-color="#8b528c"/><stop offset="0.685" stop-color="#89518c"/><stop offset="0.696" stop-color="#86508d"/><stop offset="0.707" stop-color="#834f8e"/><stop offset="0.717" stop-color="#804e8e"/><stop offset="0.728" stop-color="#7d4d8f"/><stop offset="0.739" stop-color="#7a4b90"/><stop offset="0.750" stop-color="#774a91"/><stop offset="0.761" stop-color="#764991"/><stop offset="0.772" stop-color="#764991"/><stop offset="0.783" stop-color="#764991"/><stop offset="0.793" stop-color="#764991"/><stop offset="0.804" stop-color="#764991"/><stop offset="0.815" stop-color="#764991"/><stop offset="0.826" stop-color="#764991"/><stop offset="0.837" stop-color="#764991"/><stop offset="0.848" stop-color="#764991"/><stop offset="0.859" stop-color="#764991"/><stop offset="0.870" stop-color="#764991"/><stop offset="0.880" stop-color="#764991"/><stop offset="0.891" stop-color="#764991"/><stop offset="0.902" stop-color="#764991"/><stop offset="0.913" stop-color="#764991"/><stop offset="0.924" stop-color="#764991"/><stop offset="0.935" stop-color="#764991"/><stop offset="0.946" stop-color="#764991"/><stop offset="0.957" stop-color="#764991"/><stop offset="0.967" stop-color="#764991"/><stop offset="0.978" stop-color="#764991"/><stop offset="0.989" stop-color="#764991"/><stop offset="1.000" stop-color="#764991"/></linearGradient>
<linearGradient id="c43" x1="0" y1="0" x2="0" y2="1"><stop offset="0.000" stop-color="#e7fa5a"/><stop offset="0.011" stop-color="#e7f95a"/><stop offset="0.022" stop-color="#e7f959"/><stop offset="0.033" stop-color="#e8f859"/><stop offset="0.044" stop-color="#e8f859"/><stop offset="0.056" stop-color="#e8f758"/><stop offset="0.067" stop-color="#e8f658"/><stop offset="0.078" stop-color="#e9f658"/><stop offset="0.089" stop-color="#e9f558"/><stop offset="0.100" stop-color="#eaf155"/><stop offset="0.111" stop-color="#edec53"/><stop offset="0.122" stop-color="#efe650"/><stop offset="0.133" stop-color="#f1e14d"/><stop offset="0.144" stop-color="#f2de4c"/><stop offset="0.156" stop-color="#f2dc4b"/><stop offset="0.167" stop-color="#f3db4a"/><stop offset="0.178" stop-color="#f3da49"/><stop offset="0.189" stop-color="#f4d849"/><stop offset="0.200" stop-color="#f4d748"/><stop offset="0.211" stop-color="#f5d647"/><stop offset="0.222" stop-color="#f6d447"/><stop offset="0.233" stop-color="#f6d346"/><stop offset="0.244" stop-color="#f6d146"/><stop offset="0.256" stop-color="#f6d045"/><stop offset="0.267" stop-color="#f7cd45"/><stop offset="0.278" stop-color="#f7c943"/><stop offset="0.289" stop-color="#f8c442"/><stop offset="0.300" stop-color="#f9bf41"/><stop offset="0.311" stop-color="#f9ba3f"/><stop offset="0.322" stop-color="#fab53e"/><stop offset="0.333" stop-color="#fbb13d"/><stop offset="0.344" stop-color="#fbac3c"/><stop offset="0.356" stop-color="#faa83d"/><stop offset="0.367" stop-color="#faa33f"/><stop offset="0.378" stop-color="#f99f40"/><stop offset="0.389" stop-color="#f89b41"/><stop offset="0.400" stop-color="#f89742"/><stop offset="0.411" stop-color="#f79243"/><stop offset="0.422" stop-color="#f68c45"/><stop offset="0.433" stop-color="#f38749"/><stop offset="0.444" stop-color="#ef824e"/><stop offset="0.456" stop-color="#eb7e53"/><stop offset="0.467" stop-color="#e87958"/><stop offset="0.478" stop-color="#e4745d"/><stop offset="0.489" stop-color="#df7062"/><stop offset="0.500" stop-color="#d96e67"/><stop offset="0.511" stop-color="#d36b6b"/><stop offset="0.522" stop-color="#cd6970"/><stop offset="0.533" stop-color="#c76674"/><stop offset="0.544" stop-color="#c16479"/><stop offset="0.556" stop-color="#ba627c"/><stop offset="0.567" stop-color="#b4607e"/><stop offset="0.578" stop-color="#ad5e81"/><stop offset="0.589" stop-color="#a85c83"/><stop offset="0.600" stop-color="#a35b85"/><stop offset="0.611" stop-color="#9f5987"/><stop offset="0.622" stop-color="#9a5888"/><stop offset="0.633" stop-color="#965689"/><stop offset="0.644" stop-color="#92548a"/><stop offset="0.656" stop-color="#8e538b"/><stop offset="0.667" stop-color="#8c528c"/><stop offset="0.678" stop-color="#89518c"/><stop offset="0.689" stop-color="#86508d"/><stop offset="0.700" stop-color="#834f8e"/><stop offset="0.711" stop-color="#804e8e"/><stop offset="0.722" stop-color="#7d4d8f"/><stop offset="0.733" stop-color="#7a4b90"/><stop offset="0.744" stop-color="#784a91"/><stop offset="0.756" stop-color="#764991"/><stop offset="0.767" stop-color="#764991"/><stop offset="0.778" stop-color="#764991"/><stop offset="0.789" stop-color="#764991"/><stop offset="0.800" stop-color="#764991"/><stop offset="0.811" stop-color="#764991"/><stop offset="0.822" stop-color="#764991"/><stop offset="0.833" stop-color="#764991"/><stop offset="0.844" stop-color="#764991"/><stop offset="0.856" stop-color="#764991"/><stop offset="0.867" stop-color="#764991"/><stop offset="0.878" stop-color="#764991"/><stop offset="0.889" stop-color="#764991"/><stop offset="0.900" stop-color="#764991"/><stop offset="0.911" stop-color="#764991"/><stop offset="0.922" stop-color="#764991"/><stop offset="0.933" stop-color="#764991"/><stop offset="0.944" stop-color="#764991"/><stop offset="0.956" stop-color="#764991"/><stop offset="0.967" stop-color="#764991"/><stop offset="0.978" stop-color="#764991"/><stop offset="0.989" stop-color="#764991"/><stop offset="1.000" stop-color="#764991"/></linearGradient>
<linearGradient id="c44" x1="0" y1="0" x2="0" y2="1"><stop offset="0.000" stop-color="#e7fa5a"/><stop offset="0.011" stop-color="#e7f95a"/><stop offset="0.022" stop-color="#e7f959"/><stop offset="0.033" stop-color="#e8f859"/><stop offset="0.043" stop-color="#e8f859"/><stop offset="0.054" stop-color="#e8f759"/><stop offset="0.065" stop-color="#e8f758"/><stop offset="0.076" stop-color="#e9f658"/><stop offset="0.087" stop-color="#e9f558"/><stop offset="0.098" stop-color="#eaf356"/><stop offset="0.109" stop-color="#eced53"/><stop offset="0.120" stop-color="#eee851"/><stop offset="0.130" stop-color="#f0e24e"/><stop offset="0.141" stop-color="#f2de4c"/><stop offset="0.152" stop-color="#f3dc4a"/><stop offset="0.163" stop-color="#f4d949"/><stop offset="0.174" stop-color="#f4d748"/><stop offset="0.185" stop-color="#f5d547"/><stop offset="0.196" stop-color="#f6d346"/><stop offset="0.207" stop-color="#f6d045"/><stop offset="0.217" stop-color="#f7cd44"/><stop offset="0.228" stop-color="#f7c943"/><stop offset="0.239" stop-color="#f8c542"/><stop offset="0.250" stop-color="#f8c141"/><stop offset="0.261" stop-color="#f9bd40"/><stop offset="0.272" stop-color="#f9b93f"/><stop offset="0.283" stop-color="#fab53e"/><stop offset="0.293" stop-color="#fab23d"/><stop offset="0.304" stop-color="#fbae3c"/><stop offset="0.315" stop-color="#fbaa3d"/><stop offset="0.326" stop-color="#faa63e"/><stop offset="0.337" stop-color="#faa33f"/><stop offset="0.348" stop-color="#f99f40"/><stop offset="0.359" stop-color="#f89c41"/><stop offset="0.370" stop-color="#f89841"/><stop offset="0.380" stop-color="#f79542"/><stop offset="0.391" stop-color="#f79044"/><stop offset="0.402" stop-color="#f58a46"/><stop offset="0.413" stop-color="#f1854b"/><stop offset="0.424" stop-color="#ee8150"/><stop offset="0.435" stop-color="#ea7c55"/><stop offset="0.446" stop-color="#e6785a"/><stop offset="0.457" stop-color="#e3735f"/><stop offset="0.467" stop-color="#de7063"/><stop offset="0.478" stop-color="#d96e67"/><stop offset="0.489" stop-color="#d36b6b"/><stop offset="0.500" stop-color="#ce696f"/><stop offset="0.511" stop-color="#c86774"/><stop offset="0.522" stop-color="#c36578"/><stop offset="0.533" stop-color="#bd637b"/><stop offset="0.543" stop-color="#b7617d"/><stop offset="0.554" stop-color="#b15f7f"/><stop offset="0.565" stop-color="#ab5d82"/><stop offset="0.576" stop-color="#a65b84"/><stop offset="0.587" stop-color="#a05a86"/><stop offset="0.598" stop-color="#9b5888"/><stop offset="0.609" stop-color="#955689"/><stop offset="0.620" stop-color="#90548a"/><stop offset="0.630" stop-color="#8e538b"/><stop offset="0.641" stop-color="#8b528c"/><stop offset="0.652" stop-color="#88518d"/><stop offset="0.663" stop-color="#85508d"/><stop offset="0.674" stop-color="#824f8e"/><stop offset="0.685" stop-color="#7f4d8f"/><stop offset="0.696" stop-color="#7c4c8f"/><stop offset="0.707" stop-color="#794b90"/><stop offset="0.717" stop-color="#764a91"/><stop offset="0.728" stop-color="#764991"/><stop offset="0.739" stop-color="#764991"/><stop offset="0.750" stop-color="#764991"/><stop offset="0.761" stop-color="#764991"/><stop offset="0.772" stop-color="#764991"/><stop offset="0.783" stop-color="#764991"/><stop offset="0.793" stop-color="#764991"/><stop offset="0.804" stop-color="#764991"/><stop offset="0.815" stop-color="#764991"/><stop offset="0.826" stop-color="#764991"/><stop offset="0.837" stop-color="#764991"/><stop offset="0.848" stop-color="#764991"/><stop offset="0.859" stop-color="#764991"/><stop offset="0.870" stop-color="#764991"/><stop offset="0.880" stop-color="#764991"/><stop offset="0.891" stop-color="#764991"/><stop offset="0.902" stop-color="#764991"/><stop offset="0.913" stop-color="#764991"/><stop offset="0.924" stop-color="#764991"/><stop offset="0.935" stop-color="#764991"/><stop offset="0.946" stop-color="#764991"/><stop offset="0.957" stop-color="#764991"/><stop offset="0.967" stop-color="#764991"/><stop offset="0.978" stop-color="#764991"/><stop offset="0.989" stop-color="#764991"/><stop offset="1.000" stop-color="#764991"/></linearGradient>
<linearGradient id="c45" x1="0" y1="0" x2="0" y2="1"><stop offset="0.000" stop-color="#e7fa5a"/><stop offset="0.011" stop-color="#e7fa5a"/><stop offset="0.021" stop-color="#e7f95a"/><stop offset="0.032" stop-color="#e8f959"/><stop offset="0.043" stop-color="#e8f859"/><stop offset="0.053" stop-color="#e8f859"/><stop offset="0.064" stop-color="#e8f759"/><stop offset="0.074" stop-color="#e8f758"/><stop offset="0.085" stop-color="#e8f658"/><stop offset="0.096" stop-color="#e9f658"/><stop offset="0.106" stop-color="#e9f658"/><stop offset="0.117" stop-color="#e9f557"/><stop offset="0.128" stop-color="#ebf055"/><stop offset="0.138" stop-color="#edeb52"/><stop offset="0.149" stop-color="#efe54f"/><stop offset="0.160" stop-color="#f1e04c"/><stop offset="0.170" stop-color="#f2de4b"/><stop offset="0.181" stop-color="#f2dc4b"/><stop offset="0.191" stop-color="#f3db4a"/><stop offset="0.202" stop-color="#f4d949"/><stop offset="0.213" stop-color="#f4d849"/><stop offset="0.223" stop-color="#f5d748"/><stop offset="0.234" stop-color="#f5d547"/><stop offset="0.245" stop-color="#f6d446"/><stop offset="0.255" stop-color="#f6d346"/><stop offset="0.266" stop-color="#f6d146"/><stop offset="0.277" stop-color="#f6d045"/><stop offset="0.287" stop-color="#f7cc44"/><stop offset="0.298" stop-color="#f8c743"/><stop offset="0.309" stop-color="#f8c242"/><stop offset="0.319" stop-color="#f9be40"/><stop offset="0.330" stop-color="#f9b93f"/><stop offset="0.340" stop-color="#fab43e"/><stop offset="0.351" stop-color="#fbaf3c"/><stop offset="0.362" stop-color="#fbaa3d"/><stop offset="0.372" stop-color="#faa63e"/><stop offset="0.383" stop-color="#f9a13f"/><stop offset="0.394" stop-color="#f99d40"/><stop offset="0.404" stop-color="#f89842"/><stop offset="0.415" stop-color="#f79443"/><stop offset="0.426" stop-color="#f68e44"/><stop offset="0.436" stop-color="#f48947"/><stop offset="0.447" stop-color="#f0844c"/><stop offset="0.457" stop-color="#ed8051"/><stop offset="0.468" stop-color="#e97b56"/><stop offset="0.479" stop-color="#e6775b"/><stop offset="0.489" stop-color="#e27260"/><stop offset="0.500" stop-color="#dd6f64"/><stop offset="0.511" stop-color="#d86d68"/><stop offset="0.521" stop-color="#d26b6c"/><stop offset="0.532" stop-color="#cd6970"/><stop offset="0.543" stop-color="#c76774"/><stop offset="0.553" stop-color="#c26478"/><stop offset="0.564" stop-color="#bc627b"/><stop offset="0.574" stop-color="#b6617d"/><stop offset="0.585" stop-color="#b05f80"/><stop offset="0.596" stop-color="#aa5d82"/><stop offset="0.606" stop-color="#a55b84"/><stop offset="0.617" stop-color="#9f5987"/><stop offset="0.628" stop-color="#9a5788"/><stop offset="0.638" stop-color="#955689"/><stop offset="0.649" stop-color="#90548a"/><stop offset="0.660" stop-color="#8d538b"/><stop offset="0.670" stop-color="#8a528c"/><stop offset="0.681" stop-color="#88518d"/><stop offset="0.691" stop-color="#85508d"/><stop offset="0.702" stop-color="#824e8e"/><stop offset="0.713" stop-color="#7f4d8f"/><stop offset="0.723" stop-color="#7c4c90"/><stop offset="0.734" stop-color="#794b90"/><stop offset="0.745" stop-color="#764991"/><stop offset="0.755" stop-color="#764991"/><stop offset="0.766" stop-color="#764991"/><stop offset="0.777" stop-color="#764991"/><stop offset="0.787" stop-color="#764991"/><stop offset="0.798" stop-color="#764991"/><stop offset="0.809" stop-color="#764991"/><stop offset="0.819" stop-color="#764991"/><stop offset="0.830" stop-color="#764991"/><stop offset="0.840" stop-color="#764991"/><stop offset="0.851" stop-color="#764991"/><stop offset="0.862" stop-color="#764991"/><stop offset="0.872" stop-color="#764991"/><stop offset="0.883" stop-color="#764991"/><stop offset="0.894" stop-color="#764991"/><stop offset="0.904" stop-color="#764991"/><stop offset="0.915" stop-color="#764991"/><stop offset="0.926" stop-color="#764991"/><stop offset="0.936" stop-color="#764991"/><stop offset="0.947" stop-color="#764991"/><stop offset="0.957" stop-color="#764991"/><stop offset="0.968" stop-color="#764991"/><stop offset="0.979" stop-color="#764991"/><stop offset="0.989" stop-color="#764991"/><stop offset="1.000" stop-color="#764991"/></linearGradient>
<linearGradient id="c46" x1="0" y1="0" x2="0" y2="1"><stop offset="0.000" stop-color="#e7fa5a"/><stop offset="0.010" stop-color="#e7fa5a"/><stop offset="0.021" stop-color="#e7f95a"/><stop offset="0.031" stop-color="#e7f959"/><stop offset="0.042" stop-color="#e8f859"/><stop offset="0.052" stop-color="#e8f859"/><stop offset="0.062" stop-color="#e8f859"/><stop offset="0.073" stop-color="#e8f759"/><stop offset="0.083" stop-color="#e8f758"/><stop offset="0.094" stop-color="#e8f658"/><stop offset="0.104" stop-color="#e9f658"/><stop offset="0.115" stop-color="#e9f658"/><stop offset="0.125" stop-color="#e9f558"/><stop offset="0.135" stop-color="#eaf356"/><stop offset="0.146" stop-color="#eced53"/><stop offset="0.156" stop-color="#eee851"/><stop offset="0.167" stop-color="#f0e24e"/><stop offset="0.177" stop-color="#f2de4c"/><stop offset="0.188" stop-color="#f2dd4b"/><stop offset="0.198" stop-color="#f3db4a"/><stop offset="0.208" stop-color="#f3da4a"/><stop offset="0.219" stop-color="#f4d949"/><stop offset="0.229" stop-color="#f4d748"/><stop offset="0.240" stop-color="#f5d647"/><stop offset="0.250" stop-color="#f5d447"/><stop offset="0.260" stop-color="#f6d346"/><stop offset="0.271" stop-color="#f6d246"/><stop offset="0.281" stop-color="#f6d045"/><stop offset="0.292" stop-color="#f7ce45"/><stop offset="0.302" stop-color="#f7ca44"/><stop offset="0.312" stop-color="#f8c542"/><stop offset="0.323" stop-color="#f8c141"/><stop offset="0.333" stop-color="#f9bc40"/><stop offset="0.344" stop-color="#fab73f"/><stop offset="0.354" stop-color="#fab33e"/><stop offset="0.365" stop-color="#fbae3c"/><stop offset="0.375" stop-color="#fbaa3d"/><stop offset="0.385" stop-color="#faa63e"/><stop offset="0.396" stop-color="#f9a23f"/><stop offset="0.406" stop-color="#f99e40"/><stop offset="0.417" stop-color="#f89a41"/><stop offset="0.427" stop-color="#f89642"/><stop offset="0.438" stop-color="#f79144"/><stop offset="0.448" stop-color="#f68b45"/><stop offset="0.458" stop-color="#f2864b"/><stop offset="0.469" stop-color="#ee8150"/><stop offset="0.479" stop-color="#ea7c55"/><stop offset="0.490" stop-color="#e6785a"/><stop offset="0.500" stop-color="#e3735f"/><stop offset="0.510" stop-color="#de7063"/><stop offset="0.521" stop-color="#d96e67"/><stop offset="0.531" stop-color="#d36b6b"/><stop offset="0.542" stop-color="#ce696f"/><stop offset="0.552" stop-color="#c86773"/><stop offset="0.562" stop-color="#c36578"/><stop offset="0.573" stop-color="#bd637b"/><stop offset="0.583" stop-color="#b7617d"/><stop offset="0.594" stop-color="#b15f7f"/><stop offset="0.604" stop-color="#ac5d82"/><stop offset="0.615" stop-color="#a75c83"/><stop offset="0.625" stop-color="#a25a85"/><stop offset="0.635" stop-color="#9d5987"/><stop offset="0.646" stop-color="#995788"/><stop offset="0.656" stop-color="#955689"/><stop offset="0.667" stop-color="#91548a"/><stop offset="0.677" stop-color="#8e538b"/><stop offset="0.688" stop-color="#8c528c"/><stop offset="0.698" stop-color="#89518c"/><stop offset="0.708" stop-color="#86508d"/><stop offset="0.719" stop-color="#844f8e"/><stop offset="0.729" stop-color="#814e8e"/><stop offset="0.740" stop-color="#7f4d8f"/><stop offset="0.750" stop-color="#7c4c90"/><stop offset="0.760" stop-color="#7a4b90"/><stop offset="0.771" stop-color="#794b90"/><stop offset="0.781" stop-color="#794b90"/><stop offset="0.792" stop-color="#794b90"/><stop offset="0.802" stop-color="#794b90"/><stop offset="0.812" stop-color="#794b90"/><stop offset="0.823" stop-color="#794b90"/><stop offset="0.833" stop-color="#794b90"/><stop offset="0.844" stop-color="#794b90"/><stop offset="0.854" stop-color="#794b90"/><stop offset="0.865" stop-color="#794b90"/><stop offset="0.875" stop-color="#794b90"/><stop offset="0.885" stop-color="#794b90"/><stop offset="0.896" stop-color="#794b90"/><stop offset="0.906" stop-color="#794b90"/><stop offset="0.917" stop-color="#794b90"/><stop offset="0.927" stop-color="#794b90"/><stop offset="0.938" stop-color="#794b90"/><stop offset="0.948" stop-color="#794b90"/><stop offset="0.958" stop-color="#794b90"/><stop offset="0.969" stop-color="#794b90"/><stop offset="0.979" stop-color="#794b90"/><stop offset="0.990" stop-color="#794b90"/><stop offset="1.000" stop-color="#794b90"/></linearGradient>
<linearGradient id="c47" x1="0" y1="0" x2="0" y2="1"><stop offset="0.000" stop-color="#e7fa5a"/><stop offset="0.011" stop-color="#e7f95a"/><stop offset="0.022" stop-color="#e7f959"/><stop offset="0.032" stop-color="#e8f859"/><stop offset="0.043" stop-color="#e8f859"/><stop offset="0.054" stop-color="#e8f759"/><stop offset="0.065" stop-color="#e8f758"/><stop offset="0.075" stop-color="#e8f658"/><stop offset="0.086" stop-color="#e9f658"/><stop offset="0.097" stop-color="#e9f558"/><stop offset="0.108" stop-color="#eaf356"/><stop offset="0.118" stop-color="#eced53"/><stop offset="0.129" stop-color="#eee750"/><stop offset="0.140" stop-color="#f0e24e"/><stop offset="0.151" stop-color="#f2de4c"/><stop offset="0.161" stop-color="#f2dd4b"/><stop offset="0.172" stop-color="#f3db4a"/><stop offset="0.183" stop-color="#f3da4a"/><stop offset="0.194" stop-color="#f4d949"/><stop offset="0.204" stop-color="#f4d748"/><stop offset="0.215" stop-color="#f5d647"/><stop offset="0.226" stop-color="#f5d447"/><stop offset="0.237" stop-color="#f6d346"/><stop offset="0.247" stop-color="#f6d246"/><stop offset="0.258" stop-color="#f6d045"/><stop offset="0.269" stop-color="#f7ce45"/><stop offset="0.280" stop-color="#f7ca44"/><stop offset="0.290" stop-color="#f8c643"/><stop offset="0.301" stop-color="#f8c141"/><stop offset="0.312" stop-color="#f9bd40"/><stop offset="0.323" stop-color="#f9b93f"/><stop offset="0.333" stop-color="#fab53e"/><stop offset="0.344" stop-color="#fbb03d"/><stop offset="0.355" stop-color="#fbac3c"/><stop offset="0.366" stop-color="#faa83d"/><stop offset="0.376" stop-color="#faa53e"/><stop offset="0.387" stop-color="#f9a13f"/><stop offset="0.398" stop-color="#f99d40"/><stop offset="0.409" stop-color="#f89941"/><stop offset="0.419" stop-color="#f89542"/><stop offset="0.430" stop-color="#f79044"/><stop offset="0.441" stop-color="#f68b46"/><stop offset="0.452" stop-color="#f2864b"/><stop offset="0.462" stop-color="#ee8150"/><stop offset="0.473" stop-color="#ea7d55"/><stop offset="0.484" stop-color="#e7785a"/><stop offset="0.495" stop-color="#e3735f"/><stop offset="0.505" stop-color="#de7063"/><stop offset="0.516" stop-color="#d96e67"/><stop offset="0.527" stop-color="#d36b6b"/><stop offset="0.538" stop-color="#ce696f"/><stop offset="0.548" stop-color="#c86773"/><stop offset="0.559" stop-color="#c36578"/><stop offset="0.570" stop-color="#bd637b"/><stop offset="0.581" stop-color="#b7617d"/><stop offset="0.591" stop-color="#b15f7f"/><stop offset="0.602" stop-color="#ab5d82"/><stop offset="0.613" stop-color="#a75c84"/><stop offset="0.624" stop-color="#a25a86"/><stop offset="0.634" stop-color="#9d5987"/><stop offset="0.645" stop-color="#985788"/><stop offset="0.656" stop-color="#945589"/><stop offset="0.667" stop-color="#90548a"/><stop offset="0.677" stop-color="#8e538b"/><stop offset="0.688" stop-color="#8b528c"/><stop offset="0.699" stop-color="#88518c"/><stop offset="0.710" stop-color="#86508d"/><stop offset="0.720" stop-color="#834f8e"/><stop offset="0.731" stop-color="#814e8e"/><stop offset="0.742" stop-color="#7e4d8f"/><stop offset="0.753" stop-color="#7c4c90"/><stop offset="0.763" stop-color="#794b90"/><stop offset="0.774" stop-color="#794b90"/><stop offset="0.785" stop-color="#794b90"/><stop offset="0.796" stop-color="#794b90"/><stop offset="0.806" stop-color="#794b90"/><stop offset="0.817" stop-color="#794b90"/><stop offset="0.828" stop-color="#794b90"/><stop offset="0.839" stop-color="#794b90"/><stop offset="0.849" stop-color="#794b90"/><stop offset="0.860" stop-color="#794b90"/><stop offset="0.871" stop-color="#794b90"/><stop offset="0.882" stop-color="#794b90"/><stop offset="0.892" stop-color="#794b90"/><stop offset="0.903" stop-color="#794b90"/><stop offset="0.914" stop-color="#794b90"/><stop offset="0.925" stop-color="#794b90"/><stop offset="0.935" stop-color="#794b90"/><stop offset="0.946" stop-color="#794b90"/><stop offset="0.957" stop-color="#794b90"/><stop offset="0.968" stop-color="#794b90"/><stop offset="0.978" stop-color="#794b90"/><stop offset="0.989" stop-color="#794b90"/><stop offset="1.000" stop-color="#794b90"/></linearGradient>
<linearGradient id="c48" x1="0" y1="0" x2="0" y2="1"><stop offset="0.000" stop-color="#e7fa5a"/><stop offset="0.011" stop-color="#e7fa5a"/><stop offset="0.021" stop-color="#e7f959"/><stop offset="0.032" stop-color="#e8f959"/><stop offset="0.043" stop-color="#e8f859"/><stop offset="0.053" stop-color="#e8f859"/><stop offset="0.064" stop-color="#e8f758"/><stop offset="0.074" stop-color="#e8f758"/><stop offset="0.085" stop-color="#e9f658"/><stop offset="0.096" stop-color="#e9f658"/><stop offset="0.106" stop-color="#e9f557"/><stop offset="0.117" stop-color="#ebf055"/><stop offset="0.128" stop-color="#edeb52"/><stop offset="0.138" stop-color="#efe54f"/><stop offset="0.149" stop-color="#f1e04c"/><stop offset="0.160" stop-color="#f2de4c"/><stop offset="0.170" stop-color="#f2dd4b"/><stop offset="0.181" stop-color="#f3dc4a"/><stop offset="0.191" stop-color="#f3da4a"/><stop offset="0.202" stop-color="#f4d949"/><stop offset="0.213" stop-color="#f4d849"/><stop offset="0.223" stop-color="#f4d748"/><stop offset="0.234" stop-color="#f5d647"/><stop offset="0.245" stop-color="#f5d547"/><stop offset="0.255" stop-color="#f6d346"/><stop offset="0.266" stop-color="#f6d246"/><stop offset="0.277" stop-color="#f6d146"/><stop offset="0.287" stop-color="#f6d045"/><stop offset="0.298" stop-color="#f7ce45"/><stop offset="0.309" stop-color="#f7ca44"/><stop offset="0.319" stop-color="#f8c643"/><stop offset="0.330" stop-color="#f8c242"/><stop offset="0.340" stop-color="#f9be41"/><stop offset="0.351" stop-color="#f9ba3f"/><stop offset="0.362" stop-color="#fab63e"/><stop offset="0.372" stop-color="#fab23d"/><stop offset="0.383" stop-color="#fbae3c"/><stop offset="0.394" stop-color="#fbaa3d"/><stop offset="0.404" stop-color="#faa73e"/><stop offset="0.415" stop-color="#faa33f"/><stop offset="0.426" stop-color="#f99f40"/><stop offset="0.436" stop-color="#f89c41"/><stop offset="0.447" stop-color="#f89841"/><stop offset="0.457" stop-color="#f79542"/><stop offset="0.468" stop-color="#f78f44"/><stop offset="0.479" stop-color="#f58a46"/><stop offset="0.489" stop-color="#f1854b"/><stop offset="0.500" stop-color="#ed8050"/><stop offset="0.511" stop-color="#ea7c55"/><stop offset="0.521" stop-color="#e6775a"/><stop offset="0.532" stop-color="#e3745e"/><stop offset="0.543" stop-color="#e17161"/><stop offset="0.553" stop-color="#df7063"/><stop offset="0.564" stop-color="#dc6f65"/><stop offset="0.574" stop-color="#d96e67"/><stop offset="0.585" stop-color="#d66d69"/><stop offset="0.596" stop-color="#d36b6b"/><stop offset="0.606" stop-color="#d06a6e"/><stop offset="0.617" stop-color="#cd6970"/><stop offset="0.628" stop-color="#ca6872"/><stop offset="0.638" stop-color="#c66675"/><stop offset="0.649" stop-color="#c26478"/><stop offset="0.660" stop-color="#be637a"/><stop offset="0.670" stop-color="#b9627c"/><stop offset="0.681" stop-color="#b5607e"/><stop offset="0.691" stop-color="#b05f80"/><stop offset="0.702" stop-color="#ac5d81"/><stop offset="0.713" stop-color="#a75c83"/><stop offset="0.723" stop-color="#a25a85"/><stop offset="0.734" stop-color="#9e5987"/><stop offset="0.745" stop-color="#995788"/><stop offset="0.755" stop-color="#955689"/><stop offset="0.766" stop-color="#91548a"/><stop offset="0.777" stop-color="#8f538b"/><stop offset="0.787" stop-color="#8d538b"/><stop offset="0.798" stop-color="#8b528c"/><stop offset="0.809" stop-color="#89518c"/><stop offset="0.819" stop-color="#87508d"/><stop offset="0.830" stop-color="#85508d"/><stop offset="0.840" stop-color="#834f8e"/><stop offset="0.851" stop-color="#824e8e"/><stop offset="0.862" stop-color="#804e8f"/><stop offset="0.872" stop-color="#7f4d8f"/><stop offset="0.883" stop-color="#7f4d8f"/><stop offset="0.894" stop-color="#7f4d8f"/><stop offset="0.904" stop-color="#7f4d8f"/><stop offset="0.915" stop-color="#7f4d8f"/><stop offset="0.926" stop-color="#7f4d8f"/><stop offset="0.936" stop-color="#7f4d8f"/><stop offset="0.947" stop-color="#7f4d8f"/><stop offset="0.957" stop-color="#7f4d8f"/><stop offset="0.968" stop-color="#7f4d8f"/><stop offset="0.979" stop-color="#7f4d8f"/><stop offset="0.989" stop-color="#7f4d8f"/><stop offset="1.000" stop-color="#7f4d8f"/></linearGradient>
<linearGradient id="c49" x1="0" y1="0" x2="0" y2="1"><stop offset="0.000" stop-color="#e7fa5a"/><stop offset="0.011" stop-color="#e7fa5a"/><stop offset="0.021" stop-color="#e7f95a"/><stop offset="0.032" stop-color="#e7f959"/><stop offset="0.042" stop-color="#e8f859"/><stop offset="0.053" stop-color="#e8f859"/><stop offset="0.063" stop-color="#e8f859"/><stop offset="0.074" stop-color="#e8f759"/><stop offset="0.084" stop-color="#e8f758"/><stop offset="0.095" stop-color="#e8f658"/><stop offset="0.105" stop-color="#e9f658"/><stop offset="0.116" stop-color="#e9f658"/><stop offset="0.126" stop-color="#e9f558"/><stop offset="0.137" stop-color="#eaf356"/><stop offset="0.147" stop-color="#eced53"/><stop offset="0.158" stop-color="#eee851"/><stop offset="0.168" stop-color="#f0e24e"/><stop offset="0.179" stop-color="#f2de4c"/><stop offset="0.189" stop-color="#f2dd4b"/><stop offset="0.200" stop-color="#f2dc4b"/><stop offset="0.211" stop-color="#f3db4a"/><stop offset="0.221" stop-color="#f3da4a"/><stop offset="0.232" stop-color="#f4d949"/><stop offset="0.242" stop-color="#f4d849"/><stop offset="0.253" stop-color="#f5d748"/><stop offset="0.263" stop-color="#f5d647"/><stop offset="0.274" stop-color="#f5d547"/><stop offset="0.284" stop-color="#f6d446"/><stop offset="0.295" stop-color="#f6d246"/><stop offset="0.305" stop-color="#f6d146"/><stop offset="0.316" stop-color="#f6d045"/><stop offset="0.326" stop-color="#f6cf45"/><stop offset="0.337" stop-color="#f7cc44"/><stop offset="0.347" stop-color="#f7c943"/><stop offset="0.358" stop-color="#f8c542"/><stop offset="0.368" stop-color="#f8c242"/><stop offset="0.379" stop-color="#f9bf41"/><stop offset="0.389" stop-color="#f9bb40"/><stop offset="0.400" stop-color="#fab83f"/><stop offset="0.411" stop-color="#fab43e"/><stop offset="0.421" stop-color="#fab13d"/><stop offset="0.432" stop-color="#fbae3c"/><stop offset="0.442" stop-color="#fbab3d"/><stop offset="0.453" stop-color="#faa83d"/><stop offset="0.463" stop-color="#faa53e"/><stop offset="0.474" stop-color="#f9a13f"/><stop offset="0.484" stop-color="#f99e40"/><stop offset="0.495" stop-color="#f89b41"/><stop offset="0.505" stop-color="#f89841"/><stop offset="0.516" stop-color="#f89542"/><stop offset="0.526" stop-color="#f79143"/><stop offset="0.537" stop-color="#f58a46"/><stop offset="0.547" stop-color="#f1844c"/><stop offset="0.558" stop-color="#ec7f52"/><stop offset="0.568" stop-color="#e87958"/><stop offset="0.579" stop-color="#e4745d"/><stop offset="0.589" stop-color="#e17161"/><stop offset="0.600" stop-color="#dc6f65"/><stop offset="0.611" stop-color="#d86d68"/><stop offset="0.621" stop-color="#d46c6b"/><stop offset="0.632" stop-color="#cf6a6e"/><stop offset="0.642" stop-color="#cb6872"/><stop offset="0.653" stop-color="#c76774"/><stop offset="0.663" stop-color="#c46577"/><stop offset="0.674" stop-color="#c06479"/><stop offset="0.684" stop-color="#bc637b"/><stop offset="0.695" stop-color="#b8617c"/><stop offset="0.705" stop-color="#b4607e"/><stop offset="0.716" stop-color="#b15f80"/><stop offset="0.726" stop-color="#ad5e81"/><stop offset="0.737" stop-color="#a85c83"/><stop offset="0.747" stop-color="#a35b85"/><stop offset="0.758" stop-color="#9f5987"/><stop offset="0.768" stop-color="#9a5888"/><stop offset="0.779" stop-color="#965689"/><stop offset="0.789" stop-color="#91548a"/><stop offset="0.800" stop-color="#8f538b"/><stop offset="0.811" stop-color="#8d538b"/><stop offset="0.821" stop-color="#8b528c"/><stop offset="0.832" stop-color="#89518c"/><stop offset="0.842" stop-color="#87518d"/><stop offset="0.853" stop-color="#86508d"/><stop offset="0.863" stop-color="#844f8e"/><stop offset="0.874" stop-color="#824e8e"/><stop offset="0.884" stop-color="#804e8f"/><stop offset="0.895" stop-color="#7f4d8f"/><stop offset="0.905" stop-color="#7f4d8f"/><stop offset="0.916" stop-color="#7f4d8f"/><stop offset="0.926" stop-color="#7f4d8f"/><stop offset="0.937" stop-color="#7f4d8f"/><stop offset="0.947" stop-color="#7f4d8f"/><stop offset="0.958" stop-color="#7f4d8f"/><stop offset="0.968" stop-color="#7f4d8f"/><stop offset="0.979" stop-color="#7f4d8f"/><stop offset="0.989" stop-color="#7f4d8f"/><stop offset="1.000" stop-color="#7f4d8f"/></linearGradient>
<linearGradient id="c66" x1="0" y1="0" x2="0" y2="1"><stop offset="0.000" stop-color="#e7fa5a"/><stop offset="0.014" stop-color="#e7fa5a"/><stop offset="0.029" stop-color="#e7f95a"/><stop offset="0.043" stop-color="#e8f959"/><stop offset="0.058" stop-color="#e8f859"/><stop offset="0.072" stop-color="#e8f859"/><stop offset="0.087" stop-color="#e8f759"/><stop offset="0.101" stop-color="#e8f758"/><stop offset="0.116" stop-color="#e8f658"/><stop offset="0.130" stop-color="#e9f658"/><stop offset="0.145" stop-color="#e9f558"/><stop offset="0.159" stop-color="#eaf155"/><stop offset="0.174" stop-color="#edec53"/><stop offset="0.188" stop-color="#efe650"/><stop offset="0.203" stop-color="#f1e04d"/><stop offset="0.217" stop-color="#f2dd4b"/><stop offset="0.232" stop-color="#f3db4a"/><stop offset="0.246" stop-color="#f4d949"/><stop offset="0.261" stop-color="#f5d748"/><stop offset="0.275" stop-color="#f5d547"/><stop offset="0.290" stop-color="#f6d246"/><stop offset="0.304" stop-color="#f6d045"/><stop offset="0.319" stop-color="#f7cc44"/><stop offset="0.333" stop-color="#f8c643"/><stop offset="0.348" stop-color="#f8c041"/><stop offset="0.362" stop-color="#f9ba40"/><stop offset="0.377" stop-color="#fab43e"/><stop offset="0.391" stop-color="#fbae3c"/><stop offset="0.406" stop-color="#faa93d"/><stop offset="0.420" stop-color="#faa43e"/><stop offset="0.435" stop-color="#f99e40"/><stop offset="0.449" stop-color="#f89941"/><stop offset="0.464" stop-color="#f79443"/><stop offset="0.478" stop-color="#f68e44"/><stop offset="0.493" stop-color="#f48947"/><stop offset="0.507" stop-color="#f1854c"/><stop offset="0.522" stop-color="#ed8051"/><stop offset="0.536" stop-color="#ea7c55"/><stop offset="0.551" stop-color="#e6785a"/><stop offset="0.565" stop-color="#e3735f"/><stop offset="0.580" stop-color="#df7063"/><stop offset="0.594" stop-color="#da6e66"/><stop offset="0.609" stop-color="#d56c6a"/><stop offset="0.623" stop-color="#d06a6e"/><stop offset="0.638" stop-color="#cb6872"/><stop offset="0.652" stop-color="#c86774"/><stop offset="0.667" stop-color="#c46577"/><stop offset="0.681" stop-color="#c16479"/><stop offset="0.696" stop-color="#bd637b"/><stop offset="0.710" stop-color="#b9627c"/><stop offset="0.725" stop-color="#b5607e"/><stop offset="0.739" stop-color="#b25f7f"/><stop offset="0.754" stop-color="#ae5e81"/><stop offset="0.768" stop-color="#ab5d82"/><stop offset="0.783" stop-color="#a95d82"/><stop offset="0.797" stop-color="#a85c83"/><stop offset="0.812" stop-color="#a65b84"/><stop offset="0.826" stop-color="#a45b85"/><stop offset="0.841" stop-color="#a25a85"/><stop offset="0.855" stop-color="#a05a86"/><stop offset="0.870" stop-color="#9f5987"/><stop offset="0.884" stop-color="#9d5987"/><stop offset="0.899" stop-color="#9b5888"/><stop offset="0.913" stop-color="#9a5788"/><stop offset="0.928" stop-color="#985788"/><stop offset="0.942" stop-color="#975689"/><stop offset="0.957" stop-color="#975689"/><stop offset="0.971" stop-color="#975689"/><stop offset="0.986" stop-color="#975689"/><stop offset="1.000" stop-color="#975689"/></linearGradient>
<linearGradient id="c67" x1="0" y1="0" x2="0" y2="1"><stop offset="0.000" stop-color="#e7fa5a"/><stop offset="0.015" stop-color="#e7f95a"/><stop offset="0.029" stop-color="#e7f959"/><stop offset="0.044" stop-color="#e8f859"/><stop offset="0.059" stop-color="#e8f859"/><stop offset="0.074" stop-color="#e8f759"/><stop offset="0.088" stop-color="#e8f758"/><stop offset="0.103" stop-color="#e8f658"/><stop offset="0.118" stop-color="#e9f658"/><stop offset="0.132" stop-color="#e9f558"/><stop offset="0.147" stop-color="#eaf155"/><stop offset="0.162" stop-color="#edeb52"/><stop offset="0.176" stop-color="#efe650"/><stop offset="0.191" stop-color="#f1e04d"/><stop offset="0.206" stop-color="#f2de4b"/><stop offset="0.221" stop-color="#f2dc4b"/><stop offset="0.235" stop-color="#f3db4a"/><stop offset="0.250" stop-color="#f4d949"/><stop offset="0.265" stop-color="#f4d849"/><stop offset="0.279" stop-color="#f5d748"/><stop offset="0.294" stop-color="#f5d547"/><stop offset="0.309" stop-color="#f6d446"/><stop offset="0.324" stop-color="#f6d246"/><stop offset="0.338" stop-color="#f6d145"/><stop offset="0.353" stop-color="#f6cf45"/><stop offset="0.368" stop-color="#f8c743"/><stop offset="0.382" stop-color="#f9be41"/><stop offset="0.397" stop-color="#fab53e"/><stop offset="0.412" stop-color="#fbac3c"/><stop offset="0.426" stop-color="#faa43e"/><stop offset="0.441" stop-color="#f89c41"/><stop offset="0.456" stop-color="#f79443"/><stop offset="0.471" stop-color="#f68b45"/><stop offset="0.485" stop-color="#f1854b"/><stop offset="0.500" stop-color="#ec7f52"/><stop offset="0.515" stop-color="#e77959"/><stop offset="0.529" stop-color="#e3745e"/><stop offset="0.544" stop-color="#e17161"/><stop offset="0.559" stop-color="#dd6f64"/><stop offset="0.574" stop-color="#d96e67"/><stop offset="0.588" stop-color="#d66c69"/><stop offset="0.603" stop-color="#d26b6c"/><stop offset="0.618" stop-color="#cf696f"/><stop offset="0.632" stop-color="#cb6872"/><stop offset="0.647" stop-color="#c76774"/><stop offset="0.662" stop-color="#c46577"/><stop offset="0.676" stop-color="#c16479"/><stop offset="0.691" stop-color="#bd637b"/><stop offset="0.706" stop-color="#b9627c"/><stop offset="0.721" stop-color="#b5607e"/><stop offset="0.735" stop-color="#b25f7f"/><stop offset="0.750" stop-color="#ae5e81"/><stop offset="0.765" stop-color="#a75c83"/><stop offset="0.779" stop-color="#9e5987"/><stop offset="0.794" stop-color="#9c5887"/><stop offset="0.809" stop-color="#9c5887"/><stop offset="0.824" stop-color="#9c5887"/><stop offset="0.838" stop-color="#9c5887"/><stop offset="0.853" stop-color="#9c5887"/><stop offset="0.868" stop-color="#9c5887"/><stop offset="0.882" stop-color="#9c5887"/><stop offset="0.897" stop-color="#9c5887"/><stop offset="0.912" stop-color="#9c5887"/><stop offset="0.926" stop-color="#9c5887"/><stop offset="0.941" stop-color="#9c5887"/><stop offset="0.956" stop-color="#9c5887"/><stop offset="0.971" stop-color="#9c5887"/><stop offset="0.985" stop-color="#9c5887"/><stop offset="1.000" stop-color="#9c5887"/></linearGradient>
<linearGradient id="c68" x1="0" y1="0" x2="0" y2="1"><stop offset="0.000" stop-color="#e7fa5a"/><stop offset="0.015" stop-color="#e7fa5a"/><stop offset="0.030" stop-color="#e7f95a"/><stop offset="0.045" stop-color="#e8f959"/><stop offset="0.061" stop-color="#e8f859"/><stop offset="0.076" stop-color="#e8f859"/><stop offset="0.091" stop-color="#e8f759"/><stop offset="0.106" stop-color="#e8f758"/><stop offset="0.121" stop-color="#e8f658"/><stop offset="0.136" stop-color="#e9f658"/><stop offset="0.152" stop-color="#e9f558"/><stop offset="0.167" stop-color="#eaf256"/><stop offset="0.182" stop-color="#ecec53"/><stop offset="0.197" stop-color="#eee750"/><stop offset="0.212" stop-color="#f1e14d"/><stop offset="0.227" stop-color="#f2de4c"/><stop offset="0.242" stop-color="#f2de4b"/><stop offset="0.258" stop-color="#f2dd4b"/><stop offset="0.273" stop-color="#f3dc4b"/><stop offset="0.288" stop-color="#f3db4a"/><stop offset="0.303" stop-color="#f3db4a"/><stop offset="0.318" stop-color="#f3da49"/><stop offset="0.333" stop-color="#f4d949"/><stop offset="0.348" stop-color="#f4d849"/><stop offset="0.364" stop-color="#f4d748"/><stop offset="0.379" stop-color="#f5d748"/><stop offset="0.394" stop-color="#f5d647"/><stop offset="0.409" stop-color="#f5d547"/><stop offset="0.424" stop-color="#f5d447"/><stop offset="0.439" stop-color="#f6d446"/><stop offset="0.455" stop-color="#f6d346"/><stop offset="0.470" stop-color="#f6d246"/><stop offset="0.485" stop-color="#f6d146"/><stop offset="0.500" stop-color="#f6d145"/><stop offset="0.515" stop-color="#f6d045"/><stop offset="0.530" stop-color="#f8c542"/><stop offset="0.545" stop-color="#f9a13f"/><stop offset="0.561" stop-color="#f68b45"/><stop offset="0.576" stop-color="#ed8051"/><stop offset="0.591" stop-color="#e5755c"/><stop offset="0.606" stop-color="#e27260"/><stop offset="0.621" stop-color="#df7062"/><stop offset="0.636" stop-color="#dc6f65"/><stop offset="0.652" stop-color="#d96e67"/><stop offset="0.667" stop-color="#d56c6a"/><stop offset="0.682" stop-color="#d26b6c"/><stop offset="0.697" stop-color="#cf6a6f"/><stop offset="0.712" stop-color="#cc6871"/><stop offset="0.727" stop-color="#c86774"/><stop offset="0.742" stop-color="#c46577"/><stop offset="0.758" stop-color="#c06479"/><stop offset="0.773" stop-color="#bc637b"/><stop offset="0.788" stop-color="#b8617c"/><stop offset="0.803" stop-color="#b4607e"/><stop offset="0.818" stop-color="#b05f80"/><stop offset="0.833" stop-color="#ac5e81"/><stop offset="0.848" stop-color="#a45b85"/><stop offset="0.864" stop-color="#9f5986"/><stop offset="0.879" stop-color="#9f5986"/><stop offset="0.894" stop-color="#9f5986"/><stop offset="0.909" stop-color="#9f5986"/><stop offset="0.924" stop-color="#9f5986"/><stop offset="0.939" stop-color="#9f5986"/><stop offset="0.955" stop-color="#9f5986"/><stop offset="0.970" stop-color="#9f5986"/><stop offset="0.985" stop-color="#9f5986"/><stop offset="1.000" stop-color="#9f5986"/></linearGradient>
<linearGradient id="c69" x1="0" y1="0" x2="0" y2="1"><stop offset="0.000" stop-color="#e7fa5a"/><stop offset="0.015" stop-color="#e7f95a"/><stop offset="0.029" stop-color="#e7f959"/><stop offset="0.044" stop-color="#e8f859"/><stop offset="0.059" stop-color="#e8f859"/><stop offset="0.074" stop-color="#e8f759"/><stop offset="0.088" stop-color="#e8f758"/><stop offset="0.103" stop-color="#e9f658"/><stop offset="0.118" stop-color="#e9f558"/><stop offset="0.132" stop-color="#eaf357"/><stop offset="0.147" stop-color="#ecee54"/><stop offset="0.162" stop-color="#eee851"/><stop offset="0.176" stop-color="#f0e34e"/><stop offset="0.191" stop-color="#f2de4c"/><stop offset="0.206" stop-color="#f2dc4b"/><stop offset="0.221" stop-color="#f3db4a"/><stop offset="0.235" stop-color="#f4d949"/><stop offset="0.250" stop-color="#f4d748"/><stop offset="0.265" stop-color="#f5d547"/><stop offset="0.279" stop-color="#f6d346"/><stop offset="0.294" stop-color="#f6d146"/><stop offset="0.309" stop-color="#f6d045"/><stop offset="0.324" stop-color="#f7c943"/><stop offset="0.338" stop-color="#f8c241"/><stop offset="0.353" stop-color="#f9ba3f"/><stop offset="0.368" stop-color="#fab23d"/><stop offset="0.382" stop-color="#fbaa3d"/><stop offset="0.397" stop-color="#faa33f"/><stop offset="0.412" stop-color="#f99c40"/><stop offset="0.426" stop-color="#f79542"/><stop offset="0.441" stop-color="#f79044"/><stop offset="0.456" stop-color="#f68b45"/><stop offset="0.471" stop-color="#f38849"/><stop offset="0.485" stop-color="#f0844d"/><stop offset="0.500" stop-color="#ed8050"/><stop offset="0.515" stop-color="#ea7d54"/><stop offset="0.529" stop-color="#e87958"/><stop offset="0.544" stop-color="#e5765c"/><stop offset="0.559" stop-color="#e3735f"/><stop offset="0.574" stop-color="#e17161"/><stop offset="0.588" stop-color="#de7063"/><stop offset="0.603" stop-color="#db6f66"/><stop offset="0.618" stop-color="#d86d68"/><stop offset="0.632" stop-color="#d56c6a"/><stop offset="0.647" stop-color="#d26b6c"/><stop offset="0.662" stop-color="#d06a6e"/><stop offset="0.676" stop-color="#cd6970"/><stop offset="0.691" stop-color="#c96773"/><stop offset="0.706" stop-color="#c66675"/><stop offset="0.721" stop-color="#c26478"/><stop offset="0.735" stop-color="#be637a"/><stop offset="0.750" stop-color="#ba627c"/><stop offset="0.765" stop-color="#b6617d"/><stop offset="0.779" stop-color="#b25f7f"/><stop offset="0.794" stop-color="#ae5e81"/><stop offset="0.809" stop-color="#a75c83"/><stop offset="0.824" stop-color="#a35a85"/><stop offset="0.838" stop-color="#a35a85"/><stop offset="0.853" stop-color="#a35a85"/><stop offset="0.868" stop-color="#a35a85"/><stop offset="0.882" stop-color="#a35a85"/><stop offset="0.897" stop-color="#a35a85"/><stop offset="0.912" stop-color="#a35a85"/><stop offset="0.926" stop-color="#a35a85"/><stop offset="0.941" stop-color="#a35a85"/><stop offset="0.956" stop-color="#a35a85"/><stop offset="0.971" stop-color="#a35a85"/><stop offset="0.985" stop-color="#a35a85"/><stop offset="1.000" stop-color="#a35a85"/></linearGradient>
<linearGradient id="c70" x1="0" y1="0" x2="0" y2="1"><stop offset="0.000" stop-color="#e7fa5a"/><stop offset="0.017" stop-color="#e7f95a"/><stop offset="0.033" stop-color="#e8f959"/><stop offset="0.050" stop-color="#e8f859"/><stop offset="0.067" stop-color="#e8f759"/><stop offset="0.083" stop-color="#e8f758"/><stop offset="0.100" stop-color="#e9f658"/><stop offset="0.117" stop-color="#e9f558"/><stop offset="0.133" stop-color="#eaf156"/><stop offset="0.150" stop-color="#ecec53"/><stop offset="0.167" stop-color="#efe650"/><stop offset="0.183" stop-color="#f1e04d"/><stop offset="0.200" stop-color="#f2de4b"/><stop offset="0.217" stop-color="#f3dc4a"/><stop offset="0.233" stop-color="#f3da4a"/><stop offset="0.250" stop-color="#f4d849"/><stop offset="0.267" stop-color="#f5d648"/><stop offset="0.283" stop-color="#f5d447"/><stop offset="0.300" stop-color="#f6d246"/><stop offset="0.317" stop-color="#f6d145"/><stop offset="0.333" stop-color="#f7ce45"/><stop offset="0.350" stop-color="#f8c643"/><stop offset="0.367" stop-color="#f9be40"/><stop offset="0.383" stop-color="#fab63e"/><stop offset="0.400" stop-color="#fbae3c"/><stop offset="0.417" stop-color="#faa73e"/><stop offset="0.433" stop-color="#f9a040"/><stop offset="0.450" stop-color="#f89941"/><stop offset="0.467" stop-color="#f79044"/><stop offset="0.483" stop-color="#f2864a"/><stop offset="0.500" stop-color="#eb7d54"/><stop offset="0.517" stop-color="#e4755d"/><stop offset="0.533" stop-color="#e27260"/><stop offset="0.550" stop-color="#e07062"/><stop offset="0.567" stop-color="#dc6f64"/><stop offset="0.583" stop-color="#d96e67"/><stop offset="0.600" stop-color="#d66d69"/><stop offset="0.617" stop-color="#d36b6b"/><stop offset="0.633" stop-color="#d06a6e"/><stop offset="0.650" stop-color="#cd6970"/><stop offset="0.667" stop-color="#ca6872"/><stop offset="0.683" stop-color="#c86774"/><stop offset="0.700" stop-color="#c66675"/><stop offset="0.717" stop-color="#c46577"/><stop offset="0.733" stop-color="#c16479"/><stop offset="0.750" stop-color="#bf637a"/><stop offset="0.767" stop-color="#bd637b"/><stop offset="0.783" stop-color="#ba627c"/><stop offset="0.800" stop-color="#b8617d"/><stop offset="0.817" stop-color="#b5607e"/><stop offset="0.833" stop-color="#b3607f"/><stop offset="0.850" stop-color="#b05f80"/><stop offset="0.867" stop-color="#ae5e81"/><stop offset="0.883" stop-color="#ac5d81"/><stop offset="0.900" stop-color="#ac5d81"/><stop offset="0.917" stop-color="#ac5d81"/><stop offset="0.933" stop-color="#ac5d81"/><stop offset="0.950" stop-color="#ac5d81"/><stop offset="0.967" stop-color="#ac5d81"/><stop offset="0.983" stop-color="#ac5d81"/><stop offset="1.000" stop-color="#ac5d81"/></linearGradient>
<linearGradient id="c71" x1="0" y1="0" x2="0" y2="1"><stop offset="0.000" stop-color="#e7fa5a"/><stop offset="0.017" stop-color="#e7f95a"/><stop offset="0.034" stop-color="#e8f859"/><stop offset="0.052" stop-color="#e8f759"/><stop offset="0.069" stop-color="#e8f658"/><stop offset="0.086" stop-color="#e9f558"/><stop offset="0.103" stop-color="#eaf155"/><stop offset="0.121" stop-color="#edec53"/><stop offset="0.138" stop-color="#efe650"/><stop offset="0.155" stop-color="#f1e04d"/><stop offset="0.172" stop-color="#f2dd4b"/><stop offset="0.190" stop-color="#f3dc4a"/><stop offset="0.207" stop-color="#f3da49"/><stop offset="0.224" stop-color="#f4d849"/><stop offset="0.241" stop-color="#f5d648"/><stop offset="0.259" stop-color="#f6d447"/><stop offset="0.276" stop-color="#f6d246"/><stop offset="0.293" stop-color="#f6d145"/><stop offset="0.310" stop-color="#f7ce45"/><stop offset="0.328" stop-color="#f8c642"/><stop offset="0.345" stop-color="#f9be40"/><stop offset="0.362" stop-color="#fab63e"/><stop offset="0.379" stop-color="#fbae3c"/><stop offset="0.397" stop-color="#faa73e"/><stop offset="0.414" stop-color="#f99f40"/><stop offset="0.431" stop-color="#f89841"/><stop offset="0.448" stop-color="#f78f44"/><stop offset="0.466" stop-color="#f0834d"/><stop offset="0.483" stop-color="#e77859"/><stop offset="0.500" stop-color="#e2725f"/><stop offset="0.517" stop-color="#de7063"/><stop offset="0.534" stop-color="#da6e66"/><stop offset="0.552" stop-color="#d56c6a"/><stop offset="0.569" stop-color="#d16a6d"/><stop offset="0.586" stop-color="#cc6970"/><stop offset="0.603" stop-color="#c0647a"/><stop offset="0.621" stop-color="#b6617d"/><stop offset="0.638" stop-color="#b6617d"/><stop offset="0.655" stop-color="#b6617d"/><stop offset="0.672" stop-color="#b6617d"/><stop offset="0.690" stop-color="#b6617d"/><stop offset="0.707" stop-color="#b6617d"/><stop offset="0.724" stop-color="#b6617d"/><stop offset="0.741" stop-color="#b6617d"/><stop offset="0.759" stop-color="#b6617d"/><stop offset="0.776" stop-color="#b6617d"/><stop offset="0.793" stop-color="#b6617d"/><stop offset="0.810" stop-color="#b6617d"/><stop offset="0.828" stop-color="#b6617d"/><stop offset="0.845" stop-color="#b6617d"/><stop offset="0.862" stop-color="#b6617d"/><stop offset="0.879" stop-color="#b6617d"/><stop offset="0.897" stop-color="#b6617d"/><stop offset="0.914" stop-color="#b6617d"/><stop offset="0.931" stop-color="#b6617d"/><stop offset="0.948" stop-color="#b6617d"/><stop offset="0.966" stop-color="#b6617d"/><stop offset="0.983" stop-color="#b6617d"/><stop offset="1.000" stop-color="#b6617d"/></linearGradient>
<linearGradient id="c72" x1="0" y1="0" x2="0" y2="1"><stop offset="0.000" stop-color="#e7fa5a"/><stop offset="0.019" stop-color="#e7f95a"/><stop offset="0.037" stop-color="#e8f859"/><stop offset="0.056" stop-color="#e8f759"/><stop offset="0.074" stop-color="#e8f658"/><stop offset="0.093" stop-color="#e9f658"/><stop offset="0.111" stop-color="#eaf356"/><stop offset="0.130" stop-color="#eced54"/><stop offset="0.148" stop-color="#eee851"/><stop offset="0.167" stop-color="#f0e24e"/><stop offset="0.185" stop-color="#f2de4c"/><stop offset="0.204" stop-color="#f3dc4b"/><stop offset="0.222" stop-color="#f3da49"/><stop offset="0.241" stop-color="#f4d848"/><stop offset="0.259" stop-color="#f5d547"/><stop offset="0.278" stop-color="#f6d346"/><stop offset="0.296" stop-color="#f6d145"/><stop offset="0.315" stop-color="#f7ce45"/><stop offset="0.333" stop-color="#f8c041"/><stop offset="0.352" stop-color="#fab33e"/><stop offset="0.370" stop-color="#faa63e"/><stop offset="0.389" stop-color="#f89a41"/><stop offset="0.407" stop-color="#f79044"/><stop offset="0.426" stop-color="#f48848"/><stop offset="0.444" stop-color="#ef824e"/><stop offset="0.463" stop-color="#ea7c55"/><stop offset="0.481" stop-color="#e5765c"/><stop offset="0.500" stop-color="#e17260"/><stop offset="0.519" stop-color="#dd6f64"/><stop offset="0.537" stop-color="#d86d68"/><stop offset="0.556" stop-color="#d36b6c"/><stop offset="0.574" stop-color="#ce696f"/><stop offset="0.593" stop-color="#c66676"/><stop offset="0.611" stop-color="#ba627c"/><stop offset="0.630" stop-color="#b6617d"/><stop offset="0.648" stop-color="#b6617d"/><stop offset="0.667" stop-color="#b6617d"/><stop offset="0.685" stop-color="#b6617d"/><stop offset="0.704" stop-color="#b6617d"/><stop offset="0.722" stop-color="#b6617d"/><stop offset="0.741" stop-color="#b6617d"/><stop offset="0.759" stop-color="#b6617d"/><stop offset="0.778" stop-color="#b6617d"/><stop offset="0.796" stop-color="#b6617d"/><stop offset="0.815" stop-color="#b6617d"/><stop offset="0.833" stop-color="#b6617d"/><stop offset="0.852" stop-color="#b6617d"/><stop offset="0.870" stop-color="#b6617d"/><stop offset="0.889" stop-color="#b6617d"/><stop offset="0.907" stop-color="#b6617d"/><stop offset="0.926" stop-color="#b6617d"/><stop offset="0.944" stop-color="#b6617d"/><stop offset="0.963" stop-color="#b6617d"/><stop offset="0.981" stop-color="#b6617d"/><stop offset="1.000" stop-color="#b6617d"/></linearGradient>
<linearGradient id="c73" x1="0" y1="0" x2="0" y2="1"><stop offset="0.000" stop-color="#e7fa5a"/><stop offset="0.018" stop-color="#e7f959"/><stop offset="0.036" stop-color="#e8f859"/><stop offset="0.055" stop-color="#e8f758"/><stop offset="0.073" stop-color="#e9f658"/><stop offset="0.091" stop-color="#e9f557"/><stop offset="0.109" stop-color="#ebf055"/><stop offset="0.127" stop-color="#edeb52"/><stop offset="0.145" stop-color="#efe54f"/><stop offset="0.164" stop-color="#f1df4c"/><stop offset="0.182" stop-color="#f2dc4b"/><stop offset="0.200" stop-color="#f3da4a"/><stop offset="0.218" stop-color="#f4d748"/><stop offset="0.236" stop-color="#f5d547"/><stop offset="0.255" stop-color="#f6d246"/><stop offset="0.273" stop-color="#f6cf45"/><stop offset="0.291" stop-color="#f8c643"/><stop offset="0.309" stop-color="#f9bb40"/><stop offset="0.327" stop-color="#fbb13d"/><stop offset="0.345" stop-color="#faa73e"/><stop offset="0.364" stop-color="#f99e40"/><stop offset="0.382" stop-color="#f79443"/><stop offset="0.400" stop-color="#f79044"/><stop offset="0.418" stop-color="#f68b45"/><stop offset="0.436" stop-color="#f38848"/><stop offset="0.455" stop-color="#f1854c"/><stop offset="0.473" stop-color="#ee8150"/><stop offset="0.491" stop-color="#eb7e53"/><stop offset="0.509" stop-color="#e97b57"/><stop offset="0.527" stop-color="#e6775a"/><stop offset="0.545" stop-color="#e3735e"/><stop offset="0.564" stop-color="#dd7064"/><stop offset="0.582" stop-color="#d76d69"/><stop offset="0.600" stop-color="#d06a6e"/><stop offset="0.618" stop-color="#c96773"/><stop offset="0.636" stop-color="#c26478"/><stop offset="0.655" stop-color="#ba627c"/><stop offset="0.673" stop-color="#b3607f"/><stop offset="0.691" stop-color="#b3607f"/><stop offset="0.709" stop-color="#b3607f"/><stop offset="0.727" stop-color="#b3607f"/><stop offset="0.745" stop-color="#b3607f"/><stop offset="0.764" stop-color="#b3607f"/><stop offset="0.782" stop-color="#b3607f"/><stop offset="0.800" stop-color="#b3607f"/><stop offset="0.818" stop-color="#b3607f"/><stop offset="0.836" stop-color="#b3607f"/><stop offset="0.855" stop-color="#b3607f"/><stop offset="0.873" stop-color="#b3607f"/><stop offset="0.891" stop-color="#b3607f"/><stop offset="0.909" stop-color="#b3607f"/><stop offset="0.927" stop-color="#b3607f"/><stop offset="0.945" stop-color="#b3607f"/><stop offset="0.964" stop-color="#b3607f"/><stop offset="0.982" stop-color="#b3607f"/><stop offset="1.000" stop-color="#b3607f"/></linearGradient>
<linearGradient id="c74" x1="0" y1="0" x2="0" y2="1"><stop offset="0.000" stop-color="#e7fa5a"/><stop offset="0.018" stop-color="#e7fa5a"/><stop offset="0.036" stop-color="#e7f95a"/><stop offset="0.054" stop-color="#e8f959"/><stop offset="0.071" stop-color="#e8f859"/><stop offset="0.089" stop-color="#e8f859"/><stop offset="0.107" stop-color="#e8f759"/><stop offset="0.125" stop-color="#e8f758"/><stop offset="0.143" stop-color="#e8f658"/><stop offset="0.161" stop-color="#e9f658"/><stop offset="0.179" stop-color="#e9f658"/><stop offset="0.196" stop-color="#e9f558"/><stop offset="0.214" stop-color="#eaf256"/><stop offset="0.232" stop-color="#ecec53"/><stop offset="0.250" stop-color="#eee750"/><stop offset="0.268" stop-color="#f1e14d"/><stop offset="0.286" stop-color="#f2de4b"/><stop offset="0.304" stop-color="#f3db4a"/><stop offset="0.321" stop-color="#f4d949"/><stop offset="0.339" stop-color="#f4d748"/><stop offset="0.357" stop-color="#f5d547"/><stop offset="0.375" stop-color="#f6d346"/><stop offset="0.393" stop-color="#f6d045"/><stop offset="0.411" stop-color="#f7cc44"/><stop offset="0.429" stop-color="#f8c442"/><stop offset="0.446" stop-color="#f9bc40"/><stop offset="0.464" stop-color="#fab53e"/><stop offset="0.482" stop-color="#fbad3c"/><stop offset="0.500" stop-color="#faa63e"/><stop offset="0.518" stop-color="#f99f40"/><stop offset="0.536" stop-color="#f89841"/><stop offset="0.554" stop-color="#f79243"/><stop offset="0.571" stop-color="#f68b45"/><stop offset="0.589" stop-color="#f1854b"/><stop offset="0.607" stop-color="#ed8051"/><stop offset="0.625" stop-color="#e97b57"/><stop offset="0.643" stop-color="#e4755d"/><stop offset="0.661" stop-color="#df7062"/><stop offset="0.679" stop-color="#d86d68"/><stop offset="0.696" stop-color="#d16b6d"/><stop offset="0.714" stop-color="#ca6872"/><stop offset="0.732" stop-color="#c36577"/><stop offset="0.750" stop-color="#c36578"/><stop offset="0.768" stop-color="#c36578"/><stop offset="0.786" stop-color="#c36578"/><stop offset="0.804" stop-color="#c36578"/><stop offset="0.821" stop-color="#c36578"/><stop offset="0.839" stop-color="#c36578"/><stop offset="0.857" stop-color="#c36578"/><stop offset="0.875" stop-color="#c36578"/><stop offset="0.893" stop-color="#c36578"/><stop offset="0.911" stop-color="#c36578"/><stop offset="0.929" stop-color="#c36578"/><stop offset="0.946" stop-color="#c36578"/><stop offset="0.964" stop-color="#c36578"/><stop offset="0.982" stop-color="#c36578"/><stop offset="1.000" stop-color="#c36578"/></linearGradient>
<linearGradient id="c75" x1="0" y1="0" x2="0" y2="1"><stop offset="0.000" stop-color="#e7fa5a"/><stop offset="0.019" stop-color="#e7f95a"/><stop offset="0.037" stop-color="#e7f959"/><stop offset="0.056" stop-color="#e8f859"/><stop offset="0.074" stop-color="#e8f859"/><stop offset="0.093" stop-color="#e8f759"/><stop offset="0.111" stop-color="#e8f758"/><stop offset="0.130" stop-color="#e8f658"/><stop offset="0.148" stop-color="#e9f658"/><stop offset="0.167" stop-color="#e9f558"/><stop offset="0.185" stop-color="#eaf256"/><stop offset="0.204" stop-color="#ecec53"/><stop offset="0.222" stop-color="#eee750"/><stop offset="0.241" stop-color="#f1e14d"/><stop offset="0.259" stop-color="#f2de4b"/><stop offset="0.278" stop-color="#f3dc4b"/><stop offset="0.296" stop-color="#f3da4a"/><stop offset="0.315" stop-color="#f4d849"/><stop offset="0.333" stop-color="#f5d648"/><stop offset="0.352" stop-color="#f5d547"/><stop offset="0.370" stop-color="#f6d346"/><stop offset="0.389" stop-color="#f6d145"/><stop offset="0.407" stop-color="#f6cf45"/><stop offset="0.426" stop-color="#f7c843"/><stop offset="0.444" stop-color="#f9c041"/><stop offset="0.463" stop-color="#fab83f"/><stop offset="0.481" stop-color="#fbb03d"/><stop offset="0.500" stop-color="#faa93d"/><stop offset="0.519" stop-color="#f9a23f"/><stop offset="0.537" stop-color="#f89b41"/><stop offset="0.556" stop-color="#f79443"/><stop offset="0.574" stop-color="#f68d45"/><stop offset="0.593" stop-color="#f38749"/><stop offset="0.611" stop-color="#ee824f"/><stop offset="0.630" stop-color="#ea7c55"/><stop offset="0.648" stop-color="#e6775b"/><stop offset="0.667" stop-color="#e17161"/><stop offset="0.685" stop-color="#da6e66"/><stop offset="0.704" stop-color="#d36b6b"/><stop offset="0.722" stop-color="#cc6970"/><stop offset="0.741" stop-color="#c56676"/><stop offset="0.759" stop-color="#c36578"/><stop offset="0.778" stop-color="#c36578"/><stop offset="0.796" stop-color="#c36578"/><stop offset="0.815" stop-color="#c36578"/><stop offset="0.833" stop-color="#c36578"/><stop offset="0.852" stop-color="#c36578"/><stop offset="0.870" stop-color="#c36578"/><stop offset="0.889" stop-color="#c36578"/><stop offset="0.907" stop-color="#c36578"/><stop offset="0.926" stop-color="#c36578"/><stop offset="0.944" stop-color="#c36578"/><stop offset="0.963" stop-color="#c36578"/><stop offset="0.981" stop-color="#c36578"/><stop offset="1.000" stop-color="#c36578"/></linearGradient>
<linearGradient id="c76" x1="0" y1="0" x2="0" y2="1"><stop offset="0.000" stop-color="#e7fa5a"/><stop offset="0.018" stop-color="#e7fa5a"/><stop offset="0.036" stop-color="#e7f95a"/><stop offset="0.054" stop-color="#e7f959"/><stop offset="0.071" stop-color="#e8f859"/><stop offset="0.089" stop-color="#e8f859"/><stop offset="0.107" stop-color="#e8f759"/><stop offset="0.125" stop-color="#e8f758"/><stop offset="0.143" stop-color="#e8f758"/><stop offset="0.161" stop-color="#e8f658"/><stop offset="0.179" stop-color="#e9f658"/><stop offset="0.196" stop-color="#e9f558"/><stop offset="0.214" stop-color="#e9f557"/><stop offset="0.232" stop-color="#ebef54"/><stop offset="0.250" stop-color="#edea52"/><stop offset="0.268" stop-color="#efe44f"/><stop offset="0.286" stop-color="#f1df4c"/><stop offset="0.304" stop-color="#f2de4c"/><stop offset="0.321" stop-color="#f2dd4b"/><stop offset="0.339" stop-color="#f2dc4b"/><stop offset="0.357" stop-color="#f3dc4a"/><stop offset="0.375" stop-color="#f3db4a"/><stop offset="0.393" stop-color="#f3da4a"/><stop offset="0.411" stop-color="#f4d949"/><stop offset="0.429" stop-color="#f4d849"/><stop offset="0.446" stop-color="#f4d848"/><stop offset="0.464" stop-color="#f5d748"/><stop offset="0.482" stop-color="#f5d648"/><stop offset="0.500" stop-color="#f5d547"/><stop offset="0.518" stop-color="#f5d447"/><stop offset="0.536" stop-color="#f6d446"/><stop offset="0.554" stop-color="#f6d346"/><stop offset="0.571" stop-color="#f6d246"/><stop offset="0.589" stop-color="#f6d146"/><stop offset="0.607" stop-color="#f6d145"/><stop offset="0.625" stop-color="#f6d045"/><stop offset="0.643" stop-color="#f7c843"/><stop offset="0.661" stop-color="#faa93d"/><stop offset="0.679" stop-color="#f78f44"/><stop offset="0.696" stop-color="#ed8051"/><stop offset="0.714" stop-color="#e3735e"/><stop offset="0.732" stop-color="#dd6f64"/><stop offset="0.750" stop-color="#d66c69"/><stop offset="0.768" stop-color="#cf6a6f"/><stop offset="0.786" stop-color="#c86773"/><stop offset="0.804" stop-color="#c86773"/><stop offset="0.821" stop-color="#c86773"/><stop offset="0.839" stop-color="#c86773"/><stop offset="0.857" stop-color="#c86773"/><stop offset="0.875" stop-color="#c86773"/><stop offset="0.893" stop-color="#c86773"/><stop offset="0.911" stop-color="#c86773"/><stop offset="0.929" stop-color="#c86773"/><stop offset="0.946" stop-color="#c86773"/><stop offset="0.964" stop-color="#c86773"/><stop offset="0.982" stop-color="#c86773"/><stop offset="1.000" stop-color="#c86773"/></linearGradient>
<linearGradient id="c77" x1="0" y1="0" x2="0" y2="1"><stop offset="0.000" stop-color="#e7fa5a"/><stop offset="0.018" stop-color="#e7fa5a"/><stop offset="0.035" stop-color="#e7f95a"/><stop offset="0.053" stop-color="#e8f959"/><stop offset="0.070" stop-color="#e8f859"/><stop offset="0.088" stop-color="#e8f859"/><stop offset="0.105" stop-color="#e8f759"/><stop offset="0.123" stop-color="#e8f758"/><stop offset="0.140" stop-color="#e8f658"/><stop offset="0.158" stop-color="#e9f658"/><stop offset="0.175" stop-color="#e9f558"/><stop offset="0.193" stop-color="#eaf156"/><stop offset="0.211" stop-color="#ecec53"/><stop offset="0.228" stop-color="#efe650"/><stop offset="0.246" stop-color="#f1e14d"/><stop offset="0.263" stop-color="#f2dd4b"/><stop offset="0.281" stop-color="#f4d949"/><stop offset="0.298" stop-color="#f5d647"/><stop offset="0.316" stop-color="#f6d246"/><stop offset="0.333" stop-color="#f7cf45"/><stop offset="0.351" stop-color="#f7c943"/><stop offset="0.368" stop-color="#f8c342"/><stop offset="0.386" stop-color="#f9bd40"/><stop offset="0.404" stop-color="#fab73f"/><stop offset="0.421" stop-color="#fab13d"/><stop offset="0.439" stop-color="#fbac3c"/><stop offset="0.456" stop-color="#faa63e"/><stop offset="0.474" stop-color="#f9a13f"/><stop offset="0.491" stop-color="#f89c41"/><stop offset="0.509" stop-color="#f89642"/><stop offset="0.526" stop-color="#f79143"/><stop offset="0.544" stop-color="#f68d44"/><stop offset="0.561" stop-color="#f58947"/><stop offset="0.579" stop-color="#f2864a"/><stop offset="0.596" stop-color="#ef834e"/><stop offset="0.614" stop-color="#ed7f52"/><stop offset="0.632" stop-color="#ea7c55"/><stop offset="0.649" stop-color="#e77959"/><stop offset="0.667" stop-color="#e4755c"/><stop offset="0.684" stop-color="#e07062"/><stop offset="0.702" stop-color="#d96e67"/><stop offset="0.719" stop-color="#d16b6d"/><stop offset="0.737" stop-color="#ca6872"/><stop offset="0.754" stop-color="#c86773"/><stop offset="0.772" stop-color="#c86773"/><stop offset="0.789" stop-color="#c86773"/><stop offset="0.807" stop-color="#c86773"/><stop offset="0.825" stop-color="#c86773"/><stop offset="0.842" stop-color="#c86773"/><stop offset="0.860" stop-color="#c86773"/><stop offset="0.877" stop-color="#c86773"/><stop offset="0.895" stop-color="#c86773"/><stop offset="0.912" stop-color="#c86773"/><stop offset="0.930" stop-color="#c86773"/><stop offset="0.947" stop-color="#c86773"/><stop offset="0.965" stop-color="#c86773"/><stop offset="0.982" stop-color="#c86773"/><stop offset="1.000" stop-color="#c86773"/></linearGradient>
<linearGradient id="c78" x1="0" y1="0" x2="0" y2="1"><stop offset="0.000" stop-color="#e7fa5a"/><stop offset="0.018" stop-color="#e7fa5a"/><stop offset="0.035" stop-color="#e7f95a"/><stop offset="0.053" stop-color="#e8f959"/><stop offset="0.070" stop-color="#e8f859"/><stop offset="0.088" stop-color="#e8f859"/><stop offset="0.105" stop-color="#e8f759"/><stop offset="0.123" stop-color="#e8f758"/><stop offset="0.140" stop-color="#e8f658"/><stop offset="0.158" stop-color="#e9f658"/><stop offset="0.175" stop-color="#e9f558"/><stop offset="0.193" stop-color="#eaf256"/><stop offset="0.211" stop-color="#ecec53"/><stop offset="0.228" stop-color="#eee750"/><stop offset="0.246" stop-color="#f1e14d"/><stop offset="0.263" stop-color="#f2de4c"/><stop offset="0.281" stop-color="#f2de4b"/><stop offset="0.298" stop-color="#f2dd4b"/><stop offset="0.316" stop-color="#f3dc4b"/><stop offset="0.333" stop-color="#f3db4a"/><stop offset="0.351" stop-color="#f3da4a"/><stop offset="0.368" stop-color="#f3da49"/><stop offset="0.386" stop-color="#f4d949"/><stop offset="0.404" stop-color="#f4d849"/><stop offset="0.421" stop-color="#f4d748"/><stop offset="0.439" stop-color="#f5d648"/><stop offset="0.456" stop-color="#f5d647"/><stop offset="0.474" stop-color="#f5d547"/><stop offset="0.491" stop-color="#f6d447"/><stop offset="0.509" stop-color="#f6d346"/><stop offset="0.526" stop-color="#f6d246"/><stop offset="0.544" stop-color="#f6d246"/><stop offset="0.561" stop-color="#f6d145"/><stop offset="0.579" stop-color="#f6d045"/><stop offset="0.596" stop-color="#f6cf45"/><stop offset="0.614" stop-color="#f9be40"/><stop offset="0.632" stop-color="#faa73e"/><stop offset="0.649" stop-color="#f79243"/><stop offset="0.667" stop-color="#ef824f"/><stop offset="0.684" stop-color="#e4745d"/><stop offset="0.702" stop-color="#de7063"/><stop offset="0.719" stop-color="#d76d68"/><stop offset="0.737" stop-color="#d06a6e"/><stop offset="0.754" stop-color="#c96773"/><stop offset="0.772" stop-color="#c36578"/><stop offset="0.789" stop-color="#c36578"/><stop offset="0.807" stop-color="#c36578"/><stop offset="0.825" stop-color="#c36578"/><stop offset="0.842" stop-color="#c36578"/><stop offset="0.860" stop-color="#c36578"/><stop offset="0.877" stop-color="#c36578"/><stop offset="0.895" stop-color="#c36578"/><stop offset="0.912" stop-color="#c36578"/><stop offset="0.930" stop-color="#c36578"/><stop offset="0.947" stop-color="#c36578"/><stop offset="0.965" stop-color="#c36578"/><stop offset="0.982" stop-color="#c36578"/><stop offset="1.000" stop-color="#c36578"/></linearGradient>
<linearGradient id="c79" x1="0" y1="0" x2="0" y2="1"><stop offset="0.000" stop-color="#e7fa5a"/><stop offset="0.017" stop-color="#e7fa5a"/><stop offset="0.034" stop-color="#e7f95a"/><stop offset="0.051" stop-color="#e7f959"/><stop offset="0.068" stop-color="#e8f859"/><stop offset="0.085" stop-color="#e8f859"/><stop offset="0.102" stop-color="#e8f859"/><stop offset="0.119" stop-color="#e8f759"/><stop offset="0.136" stop-color="#e8f758"/><stop offset="0.153" stop-color="#e8f658"/><stop offset="0.169" stop-color="#e9f658"/><stop offset="0.186" stop-color="#e9f658"/><stop offset="0.203" stop-color="#e9f558"/><stop offset="0.220" stop-color="#eaf356"/><stop offset="0.237" stop-color="#eced53"/><stop offset="0.254" stop-color="#eee851"/><stop offset="0.271" stop-color="#f0e24e"/><stop offset="0.288" stop-color="#f2de4c"/><stop offset="0.305" stop-color="#f2dc4b"/><stop offset="0.322" stop-color="#f3da4a"/><stop offset="0.339" stop-color="#f4d949"/><stop offset="0.356" stop-color="#f5d748"/><stop offset="0.373" stop-color="#f5d547"/><stop offset="0.390" stop-color="#f6d346"/><stop offset="0.407" stop-color="#f6d146"/><stop offset="0.424" stop-color="#f6cf45"/><stop offset="0.441" stop-color="#f7c843"/><stop offset="0.458" stop-color="#f8c141"/><stop offset="0.475" stop-color="#f9b93f"/><stop offset="0.492" stop-color="#fbb13d"/><stop offset="0.508" stop-color="#faa93d"/><stop offset="0.525" stop-color="#f9a23f"/><stop offset="0.542" stop-color="#f89b41"/><stop offset="0.559" stop-color="#f79443"/><stop offset="0.576" stop-color="#f68d45"/><stop offset="0.593" stop-color="#f38749"/><stop offset="0.610" stop-color="#ee824f"/><stop offset="0.627" stop-color="#ea7c55"/><stop offset="0.644" stop-color="#e6775b"/><stop offset="0.661" stop-color="#e17161"/><stop offset="0.678" stop-color="#da6e66"/><stop offset="0.695" stop-color="#d36b6b"/><stop offset="0.712" stop-color="#cc6871"/><stop offset="0.729" stop-color="#c56676"/><stop offset="0.746" stop-color="#c36578"/><stop offset="0.763" stop-color="#c36578"/><stop offset="0.780" stop-color="#c36578"/><stop offset="0.797" stop-color="#c36578"/><stop offset="0.814" stop-color="#c36578"/><stop offset="0.831" stop-color="#c36578"/><stop offset="0.847" stop-color="#c36578"/><stop offset="0.864" stop-color="#c36578"/><stop offset="0.881" stop-color="#c36578"/><stop offset="0.898" stop-color="#c36578"/><stop offset="0.915" stop-color="#c36578"/><stop offset="0.932" stop-color="#c36578"/><stop offset="0.949" stop-color="#c36578"/><stop offset="0.966" stop-color="#c36578"/><stop offset="0.983" stop-color="#c36578"/><stop offset="1.000" stop-color="#c36578"/></linearGradient>
<linearGradient id="c80" x1="0" y1="0" x2="0" y2="1"><stop offset="0.000" stop-color="#e7fa5a"/><stop offset="0.016" stop-color="#e7fa5a"/><stop offset="0.032" stop-color="#e7f95a"/><stop offset="0.048" stop-color="#e7f95a"/><stop offset="0.065" stop-color="#e7f959"/><stop offset="0.081" stop-color="#e8f959"/><stop offset="0.097" stop-color="#e8f859"/><stop offset="0.113" stop-color="#e8f859"/><stop offset="0.129" stop-color="#e8f859"/><stop offset="0.145" stop-color="#e8f759"/><stop offset="0.161" stop-color="#e8f758"/><stop offset="0.177" stop-color="#e8f758"/><stop offset="0.194" stop-color="#e8f658"/><stop offset="0.210" stop-color="#e8f658"/><stop offset="0.226" stop-color="#e9f658"/><stop offset="0.242" stop-color="#e9f658"/><stop offset="0.258" stop-color="#e9f558"/><stop offset="0.274" stop-color="#eaf357"/><stop offset="0.290" stop-color="#ecee54"/><stop offset="0.306" stop-color="#eee851"/><stop offset="0.323" stop-color="#f0e34e"/><stop offset="0.339" stop-color="#f2de4c"/><stop offset="0.355" stop-color="#f2dc4b"/><stop offset="0.371" stop-color="#f3da4a"/><stop offset="0.387" stop-color="#f4d949"/><stop offset="0.403" stop-color="#f5d748"/><stop offset="0.419" stop-color="#f5d547"/><stop offset="0.435" stop-color="#f6d346"/><stop offset="0.452" stop-color="#f6d146"/><stop offset="0.468" stop-color="#f6cf45"/><stop offset="0.484" stop-color="#f8c743"/><stop offset="0.500" stop-color="#f9bf41"/><stop offset="0.516" stop-color="#fab73f"/><stop offset="0.532" stop-color="#fbae3c"/><stop offset="0.548" stop-color="#faa73e"/><stop offset="0.565" stop-color="#f99f40"/><stop offset="0.581" stop-color="#f89842"/><stop offset="0.597" stop-color="#f79044"/><stop offset="0.613" stop-color="#f48947"/><stop offset="0.629" stop-color="#ef834e"/><stop offset="0.645" stop-color="#ea7d55"/><stop offset="0.661" stop-color="#e5765b"/><stop offset="0.677" stop-color="#e17161"/><stop offset="0.694" stop-color="#da6e67"/><stop offset="0.710" stop-color="#d36b6c"/><stop offset="0.726" stop-color="#cb6871"/><stop offset="0.742" stop-color="#cb6871"/><stop offset="0.758" stop-color="#cb6871"/><stop offset="0.774" stop-color="#cb6871"/><stop offset="0.790" stop-color="#cb6871"/><stop offset="0.806" stop-color="#cb6871"/><stop offset="0.823" stop-color="#cb6871"/><stop offset="0.839" stop-color="#cb6871"/><stop offset="0.855" stop-color="#cb6871"/><stop offset="0.871" stop-color="#cb6871"/><stop offset="0.887" stop-color="#cb6871"/><stop offset="0.903" stop-color="#cb6871"/><stop offset="0.919" stop-color="#cb6871"/><stop offset="0.935" stop-color="#cb6871"/><stop offset="0.952" stop-color="#cb6871"/><stop offset="0.968" stop-color="#cb6871"/><stop offset="0.984" stop-color="#cb6871"/><stop offset="1.000" stop-color="#cb6871"/></linearGradient>
<linearGradient id="c81" x1="0" y1="0" x2="0" y2="1"><stop offset="0.000" stop-color="#e7fa5a"/><stop offset="0.017" stop-color="#e7fa5a"/><stop offset="0.033" stop-color="#e7fa5a"/><stop offset="0.050" stop-color="#e7fa5a"/><stop offset="0.067" stop-color="#e7f95a"/><stop offset="0.083" stop-color="#e7f95a"/><stop offset="0.100" stop-color="#e7f95a"/><stop offset="0.117" stop-color="#e7f959"/><stop offset="0.133" stop-color="#e7f959"/><stop offset="0.150" stop-color="#e7f959"/><stop offset="0.167" stop-color="#e8f959"/><stop offset="0.183" stop-color="#e8f859"/><stop offset="0.200" stop-color="#e8f859"/><stop offset="0.217" stop-color="#e8f859"/><stop offset="0.233" stop-color="#e8f859"/><stop offset="0.250" stop-color="#e8f859"/><stop offset="0.267" stop-color="#e8f859"/><stop offset="0.283" stop-color="#e8f859"/><stop offset="0.300" stop-color="#e8f759"/><stop offset="0.317" stop-color="#e8f759"/><stop offset="0.333" stop-color="#e8f759"/><stop offset="0.350" stop-color="#e8f758"/><stop offset="0.367" stop-color="#e8f758"/><stop offset="0.383" stop-color="#e8f758"/><stop offset="0.400" stop-color="#e8f758"/><stop offset="0.417" stop-color="#e8f658"/><stop offset="0.433" stop-color="#e8f658"/><stop offset="0.450" stop-color="#e8f658"/><stop offset="0.467" stop-color="#e9f658"/><stop offset="0.483" stop-color="#e9f658"/><stop offset="0.500" stop-color="#e9f658"/><stop offset="0.517" stop-color="#e9f658"/><stop offset="0.533" stop-color="#e9f558"/><stop offset="0.550" stop-color="#e9f558"/><stop offset="0.567" stop-color="#e9f557"/><stop offset="0.583" stop-color="#eaf357"/><stop offset="0.600" stop-color="#ecee54"/><stop offset="0.617" stop-color="#eee851"/><stop offset="0.633" stop-color="#f0e24e"/><stop offset="0.650" stop-color="#f9a23f"/><stop offset="0.667" stop-color="#e17161"/><stop offset="0.683" stop-color="#da6e66"/><stop offset="0.700" stop-color="#d36b6c"/><stop offset="0.717" stop-color="#cc6871"/><stop offset="0.733" stop-color="#c86773"/><stop offset="0.750" stop-color="#c86773"/><stop offset="0.767" stop-color="#c86773"/><stop offset="0.783" stop-color="#c86773"/><stop offset="0.800" stop-color="#c86773"/><stop offset="0.817" stop-color="#c86773"/><stop offset="0.833" stop-color="#c86773"/><stop offset="0.850" stop-color="#c86773"/><stop offset="0.867" stop-color="#c86773"/><stop offset="0.883" stop-color="#c86773"/><stop offset="0.900" stop-color="#c86773"/><stop offset="0.917" stop-color="#c86773"/><stop offset="0.933" stop-color="#c86773"/><stop offset="0.950" stop-color="#c86773"/><stop offset="0.967" stop-color="#c86773"/><stop offset="0.983" stop-color="#c86773"/><stop offset="1.000" stop-color="#c86773"/></linearGradient>
<linearGradient id="c82" x1="0" y1="0" x2="0" y2="1"><stop offset="0.000" stop-color="#e7fa5a"/><stop offset="0.016" stop-color="#e7fa5a"/><stop offset="0.032" stop-color="#e7f95a"/><stop offset="0.048" stop-color="#e7f95a"/><stop offset="0.063" stop-color="#e7f959"/><stop offset="0.079" stop-color="#e8f959"/><stop offset="0.095" stop-color="#e8f859"/><stop offset="0.111" stop-color="#e8f859"/><stop offset="0.127" stop-color="#e8f859"/><stop offset="0.143" stop-color="#e8f759"/><stop offset="0.159" stop-color="#e8f758"/><stop offset="0.175" stop-color="#e8f758"/><stop offset="0.190" stop-color="#e8f658"/><stop offset="0.206" stop-color="#e8f658"/><stop offset="0.222" stop-color="#e9f658"/><stop offset="0.238" stop-color="#e9f658"/><stop offset="0.254" stop-color="#e9f558"/><stop offset="0.270" stop-color="#e9f457"/><stop offset="0.286" stop-color="#ecee54"/><stop offset="0.302" stop-color="#eee951"/><stop offset="0.317" stop-color="#f0e34e"/><stop offset="0.333" stop-color="#f2de4c"/><stop offset="0.349" stop-color="#f4d949"/><stop offset="0.365" stop-color="#f5d447"/><stop offset="0.381" stop-color="#f6d045"/><stop offset="0.397" stop-color="#f7c943"/><stop offset="0.413" stop-color="#f8c242"/><stop offset="0.429" stop-color="#f9bc40"/><stop offset="0.444" stop-color="#fab53e"/><stop offset="0.460" stop-color="#fbae3c"/><stop offset="0.476" stop-color="#faa83d"/><stop offset="0.492" stop-color="#f9a23f"/><stop offset="0.508" stop-color="#f99c40"/><stop offset="0.524" stop-color="#f89642"/><stop offset="0.540" stop-color="#f79044"/><stop offset="0.556" stop-color="#f58a46"/><stop offset="0.571" stop-color="#f1854b"/><stop offset="0.587" stop-color="#ed8050"/><stop offset="0.603" stop-color="#ea7c55"/><stop offset="0.619" stop-color="#e6775b"/><stop offset="0.635" stop-color="#e27260"/><stop offset="0.651" stop-color="#db6e66"/><stop offset="0.667" stop-color="#d46c6b"/><stop offset="0.683" stop-color="#cd6970"/><stop offset="0.698" stop-color="#c86773"/><stop offset="0.714" stop-color="#c86773"/><stop offset="0.730" stop-color="#c86773"/><stop offset="0.746" stop-color="#c86773"/><stop offset="0.762" stop-color="#c86773"/><stop offset="0.778" stop-color="#c86773"/><stop offset="0.794" stop-color="#c86773"/><stop offset="0.810" stop-color="#c86773"/><stop offset="0.825" stop-color="#c86773"/><stop offset="0.841" stop-color="#c86773"/><stop offset="0.857" stop-color="#c86773"/><stop offset="0.873" stop-color="#c86773"/><stop offset="0.889" stop-color="#c86773"/><stop offset="0.905" stop-color="#c86773"/><stop offset="0.921" stop-color="#c86773"/><stop offset="0.937" stop-color="#c86773"/><stop offset="0.952" stop-color="#c86773"/><stop offset="0.968" stop-color="#c86773"/><stop offset="0.984" stop-color="#c86773"/><stop offset="1.000" stop-color="#c86773"/></linearGradient>
<linearGradient id="c83" x1="0" y1="0" x2="0" y2="1"><stop offset="0.000" stop-color="#e7fa5a"/><stop offset="0.016" stop-color="#e7fa5a"/><stop offset="0.033" stop-color="#e7f95a"/><stop offset="0.049" stop-color="#e7f959"/><stop offset="0.066" stop-color="#e8f959"/><stop offset="0.082" stop-color="#e8f859"/><stop offset="0.098" stop-color="#e8f859"/><stop offset="0.115" stop-color="#e8f859"/><stop offset="0.131" stop-color="#e8f759"/><stop offset="0.148" stop-color="#e8f758"/><stop offset="0.164" stop-color="#e8f758"/><stop offset="0.180" stop-color="#e8f658"/><stop offset="0.197" stop-color="#e9f658"/><stop offset="0.213" stop-color="#e9f658"/><stop offset="0.230" stop-color="#e9f558"/><stop offset="0.246" stop-color="#e9f557"/><stop offset="0.262" stop-color="#ebef54"/><stop offset="0.279" stop-color="#edea52"/><stop offset="0.295" stop-color="#efe44f"/><stop offset="0.311" stop-color="#f1df4c"/><stop offset="0.328" stop-color="#f2dd4b"/><stop offset="0.344" stop-color="#f2dc4b"/><stop offset="0.361" stop-color="#f3db4a"/><stop offset="0.377" stop-color="#f3da49"/><stop offset="0.393" stop-color="#f4d849"/><stop offset="0.410" stop-color="#f4d748"/><stop offset="0.426" stop-color="#f5d648"/><stop offset="0.443" stop-color="#f5d547"/><stop offset="0.459" stop-color="#f6d446"/><stop offset="0.475" stop-color="#f6d246"/><stop offset="0.492" stop-color="#f6d145"/><stop offset="0.508" stop-color="#f6d045"/><stop offset="0.525" stop-color="#f7c843"/><stop offset="0.541" stop-color="#fab83f"/><stop offset="0.557" stop-color="#faa93d"/><stop offset="0.574" stop-color="#f89b41"/><stop offset="0.590" stop-color="#f68d45"/><stop offset="0.607" stop-color="#ee814f"/><stop offset="0.623" stop-color="#e6775b"/><stop offset="0.639" stop-color="#e07162"/><stop offset="0.656" stop-color="#d96e67"/><stop offset="0.672" stop-color="#d26b6c"/><stop offset="0.689" stop-color="#cb6872"/><stop offset="0.705" stop-color="#c86773"/><stop offset="0.721" stop-color="#c86773"/><stop offset="0.738" stop-color="#c86773"/><stop offset="0.754" stop-color="#c86773"/><stop offset="0.770" stop-color="#c86773"/><stop offset="0.787" stop-color="#c86773"/><stop offset="0.803" stop-color="#c86773"/><stop offset="0.820" stop-color="#c86773"/><stop offset="0.836" stop-color="#c86773"/><stop offset="0.852" stop-color="#c86773"/><stop offset="0.869" stop-color="#c86773"/><stop offset="0.885" stop-color="#c86773"/><stop offset="0.902" stop-color="#c86773"/><stop offset="0.918" stop-color="#c86773"/><stop offset="0.934" stop-color="#c86773"/><stop offset="0.951" stop-color="#c86773"/><stop offset="0.967" stop-color="#c86773"/><stop offset="0.984" stop-color="#c86773"/><stop offset="1.000" stop-color="#c86773"/></linearGradient>
<linearGradient id="c84" x1="0" y1="0" x2="0" y2="1"><stop offset="0.000" stop-color="#e7fa5a"/><stop offset="0.017" stop-color="#e7fa5a"/><stop offset="0.033" stop-color="#e7f95a"/><stop offset="0.050" stop-color="#e7f959"/><stop offset="0.067" stop-color="#e8f959"/><stop offset="0.083" stop-color="#e8f859"/><stop offset="0.100" stop-color="#e8f859"/><stop offset="0.117" stop-color="#e8f759"/><stop offset="0.133" stop-color="#e8f759"/><stop offset="0.150" stop-color="#e8f758"/><stop offset="0.167" stop-color="#e8f658"/><stop offset="0.183" stop-color="#e9f658"/><stop offset="0.200" stop-color="#e9f658"/><stop offset="0.217" stop-color="#e9f558"/><stop offset="0.233" stop-color="#e9f557"/><stop offset="0.250" stop-color="#ebef54"/><stop offset="0.267" stop-color="#ede951"/><stop offset="0.283" stop-color="#f0e44f"/><stop offset="0.300" stop-color="#f2df4c"/><stop offset="0.317" stop-color="#f2dc4b"/><stop offset="0.333" stop-color="#f3da4a"/><stop offset="0.350" stop-color="#f4d849"/><stop offset="0.367" stop-color="#f5d647"/><stop offset="0.383" stop-color="#f6d446"/><stop offset="0.400" stop-color="#f6d246"/><stop offset="0.417" stop-color="#f6cf45"/><stop offset="0.433" stop-color="#f7c943"/><stop offset="0.450" stop-color="#f8c141"/><stop offset="0.467" stop-color="#f9ba3f"/><stop offset="0.483" stop-color="#fab33d"/><stop offset="0.500" stop-color="#fbab3c"/><stop offset="0.517" stop-color="#faa53e"/><stop offset="0.533" stop-color="#f99e40"/><stop offset="0.550" stop-color="#f89842"/><stop offset="0.567" stop-color="#f79144"/><stop offset="0.583" stop-color="#f48947"/><stop offset="0.600" stop-color="#ef834e"/><stop offset="0.617" stop-color="#ea7d54"/><stop offset="0.633" stop-color="#e5765b"/><stop offset="0.650" stop-color="#e07161"/><stop offset="0.667" stop-color="#d96e67"/><stop offset="0.683" stop-color="#d26b6c"/><stop offset="0.700" stop-color="#cb6871"/><stop offset="0.717" stop-color="#c86773"/><stop offset="0.733" stop-color="#c86773"/><stop offset="0.750" stop-color="#c86773"/><stop offset="0.767" stop-color="#c86773"/><stop offset="0.783" stop-color="#c86773"/><stop offset="0.800" stop-color="#c86773"/><stop offset="0.817" stop-color="#c86773"/><stop offset="0.833" stop-color="#c86773"/><stop offset="0.850" stop-color="#c86773"/><stop offset="0.867" stop-color="#c86773"/><stop offset="0.883" stop-color="#c86773"/><stop offset="0.900" stop-color="#c86773"/><stop offset="0.917" stop-color="#c86773"/><stop offset="0.933" stop-color="#c86773"/><stop offset="0.950" stop-color="#c86773"/><stop offset="0.967" stop-color="#c86773"/><stop offset="0.983" stop-color="#c86773"/><stop offset="1.000" stop-color="#c86773"/></linearGradient>
<linearGradient id="c85" x1="0" y1="0" x2="0" y2="1"><stop offset="0.000" stop-color="#e7fa5a"/><stop offset="0.017" stop-color="#e7f95a"/><stop offset="0.034" stop-color="#e8f859"/><stop offset="0.051" stop-color="#e8f759"/><stop offset="0.068" stop-color="#e8f658"/><stop offset="0.085" stop-color="#e9f658"/><stop offset="0.102" stop-color="#eaf356"/><stop offset="0.119" stop-color="#ecee54"/><stop offset="0.136" stop-color="#eee851"/><stop offset="0.153" stop-color="#f0e24e"/><stop offset="0.169" stop-color="#f2de4c"/><stop offset="0.186" stop-color="#f2dc4b"/><stop offset="0.203" stop-color="#f3db4a"/><stop offset="0.220" stop-color="#f4d949"/><stop offset="0.237" stop-color="#f4d748"/><stop offset="0.254" stop-color="#f5d547"/><stop offset="0.271" stop-color="#f6d346"/><stop offset="0.288" stop-color="#f6d246"/><stop offset="0.305" stop-color="#f6d045"/><stop offset="0.322" stop-color="#f7ca44"/><stop offset="0.339" stop-color="#f8c242"/><stop offset="0.356" stop-color="#f9ba3f"/><stop offset="0.373" stop-color="#fab23d"/><stop offset="0.390" stop-color="#fbab3d"/><stop offset="0.407" stop-color="#faa43e"/><stop offset="0.424" stop-color="#f99d40"/><stop offset="0.441" stop-color="#f89642"/><stop offset="0.458" stop-color="#f68c45"/><stop offset="0.475" stop-color="#ef834e"/><stop offset="0.492" stop-color="#e97a57"/><stop offset="0.508" stop-color="#e2735f"/><stop offset="0.525" stop-color="#dc6f65"/><stop offset="0.542" stop-color="#d56c6a"/><stop offset="0.559" stop-color="#ce696f"/><stop offset="0.576" stop-color="#ce696f"/><stop offset="0.593" stop-color="#ce696f"/><stop offset="0.610" stop-color="#ce696f"/><stop offset="0.627" stop-color="#ce696f"/><stop offset="0.644" stop-color="#ce696f"/><stop offset="0.661" stop-color="#ce696f"/><stop offset="0.678" stop-color="#ce696f"/><stop offset="0.695" stop-color="#ce696f"/><stop offset="0.712" stop-color="#ce696f"/><stop offset="0.729" stop-color="#ce696f"/><stop offset="0.746" stop-color="#ce696f"/><stop offset="0.763" stop-color="#ce696f"/><stop offset="0.780" stop-color="#ce696f"/><stop offset="0.797" stop-color="#ce696f"/><stop offset="0.814" stop-color="#ce696f"/><stop offset="0.831" stop-color="#ce696f"/><stop offset="0.847" stop-color="#ce696f"/><stop offset="0.864" stop-color="#ce696f"/><stop offset="0.881" stop-color="#ce696f"/><stop offset="0.898" stop-color="#ce696f"/><stop offset="0.915" stop-color="#ce696f"/><stop offset="0.932" stop-color="#ce696f"/><stop offset="0.949" stop-color="#ce696f"/><stop offset="0.966" stop-color="#ce696f"/><stop offset="0.983" stop-color="#ce696f"/><stop offset="1.000" stop-color="#ce696f"/></linearGradient>
<linearGradient id="c86" x1="0" y1="0" x2="0" y2="1"><stop offset="0.000" stop-color="#e7fa5a"/><stop offset="0.019" stop-color="#e7f95a"/><stop offset="0.038" stop-color="#e8f859"/><stop offset="0.057" stop-color="#e8f859"/><stop offset="0.075" stop-color="#e8f758"/><stop offset="0.094" stop-color="#e9f658"/><stop offset="0.113" stop-color="#e9f558"/><stop offset="0.132" stop-color="#eaf256"/><stop offset="0.151" stop-color="#ecec53"/><stop offset="0.170" stop-color="#efe650"/><stop offset="0.189" stop-color="#f1e14d"/><stop offset="0.208" stop-color="#f2de4c"/><stop offset="0.226" stop-color="#f2dc4b"/><stop offset="0.245" stop-color="#f3db4a"/><stop offset="0.264" stop-color="#f3da49"/><stop offset="0.283" stop-color="#f4d849"/><stop offset="0.302" stop-color="#f5d748"/><stop offset="0.321" stop-color="#f5d547"/><stop offset="0.340" stop-color="#f6d447"/><stop offset="0.358" stop-color="#f6d346"/><stop offset="0.377" stop-color="#f6d146"/><stop offset="0.396" stop-color="#f6d045"/><stop offset="0.415" stop-color="#f7cc44"/><stop offset="0.434" stop-color="#f8c643"/><stop offset="0.453" stop-color="#f8c041"/><stop offset="0.472" stop-color="#f9ba40"/><stop offset="0.491" stop-color="#fab43e"/><stop offset="0.509" stop-color="#fbae3c"/><stop offset="0.528" stop-color="#faa93d"/><stop offset="0.547" stop-color="#faa43e"/><stop offset="0.566" stop-color="#f99e40"/><stop offset="0.585" stop-color="#f89941"/><stop offset="0.604" stop-color="#f79443"/><stop offset="0.623" stop-color="#f79243"/><stop offset="0.642" stop-color="#f79143"/><stop offset="0.660" stop-color="#f78f44"/><stop offset="0.679" stop-color="#f68e44"/><stop offset="0.698" stop-color="#f68c45"/><stop offset="0.717" stop-color="#f68b45"/><stop offset="0.736" stop-color="#f58a46"/><stop offset="0.755" stop-color="#f48947"/><stop offset="0.774" stop-color="#f38849"/><stop offset="0.792" stop-color="#f2874a"/><stop offset="0.811" stop-color="#f2864b"/><stop offset="0.830" stop-color="#f2864b"/><stop offset="0.849" stop-color="#f2864b"/><stop offset="0.868" stop-color="#f2864b"/><stop offset="0.887" stop-color="#f2864b"/><stop offset="0.906" stop-color="#f2864b"/><stop offset="0.925" stop-color="#f2864b"/><stop offset="0.943" stop-color="#f2864b"/><stop offset="0.962" stop-color="#f2864b"/><stop offset="0.981" stop-color="#f2864b"/><stop offset="1.000" stop-color="#f2864b"/></linearGradient>
<linearGradient id="c87" x1="0" y1="0" x2="0" y2="1"><stop offset="0.000" stop-color="#e7fa5a"/><stop offset="0.019" stop-color="#e7f95a"/><stop offset="0.038" stop-color="#e8f859"/><stop offset="0.058" stop-color="#e8f759"/><stop offset="0.077" stop-color="#e8f658"/><stop offset="0.096" stop-color="#e9f558"/><stop offset="0.115" stop-color="#eaf156"/><stop offset="0.135" stop-color="#edec53"/><stop offset="0.154" stop-color="#efe650"/><stop offset="0.173" stop-color="#f1e04d"/><stop offset="0.192" stop-color="#f2de4b"/><stop offset="0.212" stop-color="#f3dc4a"/><stop offset="0.231" stop-color="#f3da4a"/><stop offset="0.250" stop-color="#f4d849"/><stop offset="0.269" stop-color="#f5d648"/><stop offset="0.288" stop-color="#f5d447"/><stop offset="0.308" stop-color="#f6d246"/><stop offset="0.327" stop-color="#f6d145"/><stop offset="0.346" stop-color="#f7ce45"/><stop offset="0.365" stop-color="#f8c743"/><stop offset="0.385" stop-color="#f8c041"/><stop offset="0.404" stop-color="#f9ba3f"/><stop offset="0.423" stop-color="#fab33e"/><stop offset="0.442" stop-color="#fbac3c"/><stop offset="0.462" stop-color="#faa63e"/><stop offset="0.481" stop-color="#f9a03f"/><stop offset="0.500" stop-color="#f89a41"/><stop offset="0.519" stop-color="#f79443"/><stop offset="0.538" stop-color="#f79144"/><stop offset="0.558" stop-color="#f68d44"/><stop offset="0.577" stop-color="#f68a46"/><stop offset="0.596" stop-color="#f48848"/><stop offset="0.615" stop-color="#f2864b"/><stop offset="0.635" stop-color="#f0834d"/><stop offset="0.654" stop-color="#ee8150"/><stop offset="0.673" stop-color="#ec7e53"/><stop offset="0.692" stop-color="#ea7c55"/><stop offset="0.712" stop-color="#e87958"/><stop offset="0.731" stop-color="#e6775a"/><stop offset="0.750" stop-color="#e4755d"/><stop offset="0.769" stop-color="#e4755d"/><stop offset="0.788" stop-color="#e4755d"/><stop offset="0.808" stop-color="#e4755d"/><stop offset="0.827" stop-color="#e4755d"/><stop offset="0.846" stop-color="#e4755d"/><stop offset="0.865" stop-color="#e4755d"/><stop offset="0.885" stop-color="#e4755d"/><stop offset="0.904" stop-color="#e4755d"/><stop offset="0.923" stop-color="#e4755d"/><stop offset="0.942" stop-color="#e4755d"/><stop offset="0.962" stop-color="#e4755d"/><stop offset="0.981" stop-color="#e4755d"/><stop offset="1.000" stop-color="#e4755d"/></linearGradient>
<linearGradient id="c88" x1="0" y1="0" x2="0" y2="1"><stop offset="0.000" stop-color="#e7fa5a"/><stop offset="0.018" stop-color="#e7fa5a"/><stop offset="0.036" stop-color="#e7f95a"/><stop offset="0.055" stop-color="#e7f959"/><stop offset="0.073" stop-color="#e8f859"/><stop offset="0.091" stop-color="#e8f859"/><stop offset="0.109" stop-color="#e8f859"/><stop offset="0.127" stop-color="#e8f759"/><stop offset="0.145" stop-color="#e8f758"/><stop offset="0.164" stop-color="#e8f658"/><stop offset="0.182" stop-color="#e9f658"/><stop offset="0.200" stop-color="#e9f658"/><stop offset="0.218" stop-color="#e9f558"/><stop offset="0.236" stop-color="#eaf356"/><stop offset="0.255" stop-color="#eced53"/><stop offset="0.273" stop-color="#eee851"/><stop offset="0.291" stop-color="#f0e24e"/><stop offset="0.309" stop-color="#f2de4c"/><stop offset="0.327" stop-color="#f2dd4b"/><stop offset="0.345" stop-color="#f3db4a"/><stop offset="0.364" stop-color="#f3da49"/><stop offset="0.382" stop-color="#f4d849"/><stop offset="0.400" stop-color="#f5d748"/><stop offset="0.418" stop-color="#f5d547"/><stop offset="0.436" stop-color="#f6d446"/><stop offset="0.455" stop-color="#f6d246"/><stop offset="0.473" stop-color="#f6d145"/><stop offset="0.491" stop-color="#f6cf45"/><stop offset="0.509" stop-color="#f8c643"/><stop offset="0.527" stop-color="#f9bc40"/><stop offset="0.545" stop-color="#fab33e"/><stop offset="0.564" stop-color="#fbaa3d"/><stop offset="0.582" stop-color="#f9a13f"/><stop offset="0.600" stop-color="#f89941"/><stop offset="0.618" stop-color="#f79044"/><stop offset="0.636" stop-color="#f48947"/><stop offset="0.655" stop-color="#ef824e"/><stop offset="0.673" stop-color="#ea7c55"/><stop offset="0.691" stop-color="#e5765c"/><stop offset="0.709" stop-color="#e07162"/><stop offset="0.727" stop-color="#d96e67"/><stop offset="0.745" stop-color="#d26b6c"/><stop offset="0.764" stop-color="#ce696f"/><stop offset="0.782" stop-color="#ce696f"/><stop offset="0.800" stop-color="#ce696f"/><stop offset="0.818" stop-color="#ce696f"/><stop offset="0.836" stop-color="#ce696f"/><stop offset="0.855" stop-color="#ce696f"/><stop offset="0.873" stop-color="#ce696f"/><stop offset="0.891" stop-color="#ce696f"/><stop offset="0.909" stop-color="#ce696f"/><stop offset="0.927" stop-color="#ce696f"/><stop offset="0.945" stop-color="#ce696f"/><stop offset="0.964" stop-color="#ce696f"/><stop offset="0.982" stop-color="#ce696f"/><stop offset="1.000" stop-color="#ce696f"/></linearGradient>
<linearGradient id="c89" x1="0" y1="0" x2="0" y2="1"><stop offset="0.000" stop-color="#e7fa5a"/><stop offset="0.017" stop-color="#e7fa5a"/><stop offset="0.034" stop-color="#e7f95a"/><stop offset="0.052" stop-color="#e7f959"/><stop offset="0.069" stop-color="#e8f959"/><stop offset="0.086" stop-color="#e8f859"/><stop offset="0.103" stop-color="#e8f859"/><stop offset="0.121" stop-color="#e8f859"/><stop offset="0.138" stop-color="#e8f759"/><stop offset="0.155" stop-color="#e8f758"/><stop offset="0.172" stop-color="#e8f758"/><stop offset="0.190" stop-color="#e8f658"/><stop offset="0.207" stop-color="#e9f658"/><stop offset="0.224" stop-color="#e9f658"/><stop offset="0.241" stop-color="#e9f558"/><stop offset="0.259" stop-color="#e9f557"/><stop offset="0.276" stop-color="#ebf155"/><stop offset="0.293" stop-color="#edeb52"/><stop offset="0.310" stop-color="#efe650"/><stop offset="0.328" stop-color="#f1e04d"/><stop offset="0.345" stop-color="#f2de4c"/><stop offset="0.362" stop-color="#f2dd4b"/><stop offset="0.379" stop-color="#f2dc4b"/><stop offset="0.397" stop-color="#f3db4a"/><stop offset="0.414" stop-color="#f3da4a"/><stop offset="0.431" stop-color="#f3da49"/><stop offset="0.448" stop-color="#f4d949"/><stop offset="0.466" stop-color="#f4d848"/><stop offset="0.483" stop-color="#f5d748"/><stop offset="0.500" stop-color="#f5d647"/><stop offset="0.517" stop-color="#f5d547"/><stop offset="0.534" stop-color="#f6d447"/><stop offset="0.552" stop-color="#f6d346"/><stop offset="0.569" stop-color="#f6d246"/><stop offset="0.586" stop-color="#f6d146"/><stop offset="0.603" stop-color="#f6d045"/><stop offset="0.621" stop-color="#f6d045"/><stop offset="0.638" stop-color="#f8c442"/><stop offset="0.655" stop-color="#fab13d"/><stop offset="0.672" stop-color="#f99f40"/><stop offset="0.690" stop-color="#f78f44"/><stop offset="0.707" stop-color="#f0834d"/><stop offset="0.724" stop-color="#e77959"/><stop offset="0.741" stop-color="#e17161"/><stop offset="0.759" stop-color="#da6e66"/><stop offset="0.776" stop-color="#d36b6b"/><stop offset="0.793" stop-color="#ce696f"/><stop offset="0.810" stop-color="#ce696f"/><stop offset="0.828" stop-color="#ce696f"/><stop offset="0.845" stop-color="#ce696f"/><stop offset="0.862" stop-color="#ce696f"/><stop offset="0.879" stop-color="#ce696f"/><stop offset="0.897" stop-color="#ce696f"/><stop offset="0.914" stop-color="#ce696f"/><stop offset="0.931" stop-color="#ce696f"/><stop offset="0.948" stop-color="#ce696f"/><stop offset="0.966" stop-color="#ce696f"/><stop offset="0.983" stop-color="#ce696f"/><stop offset="1.000" stop-color="#ce696f"/></linearGradient>
<linearGradient id="c90" x1="0" y1="0" x2="0" y2="1"><stop offset="0.000" stop-color="#e7fa5a"/><stop offset="0.016" stop-color="#e7fa5a"/><stop offset="0.032" stop-color="#e7f95a"/><stop offset="0.048" stop-color="#e8f959"/><stop offset="0.065" stop-color="#e8f859"/><stop offset="0.081" stop-color="#e8f859"/><stop offset="0.097" stop-color="#e8f759"/><stop offset="0.113" stop-color="#e8f758"/><stop offset="0.129" stop-color="#e8f658"/><stop offset="0.145" stop-color="#e9f658"/><stop offset="0.161" stop-color="#e9f658"/><stop offset="0.177" stop-color="#e9f558"/><stop offset="0.194" stop-color="#eaf256"/><stop offset="0.210" stop-color="#ecec53"/><stop offset="0.226" stop-color="#eee750"/><stop offset="0.242" stop-color="#f1e14d"/><stop offset="0.258" stop-color="#f2de4b"/><stop offset="0.274" stop-color="#f3db4a"/><stop offset="0.290" stop-color="#f4d949"/><stop offset="0.306" stop-color="#f4d748"/><stop offset="0.323" stop-color="#f5d547"/><stop offset="0.339" stop-color="#f6d346"/><stop offset="0.355" stop-color="#f6d145"/><stop offset="0.371" stop-color="#f7cd44"/><stop offset="0.387" stop-color="#f8c642"/><stop offset="0.403" stop-color="#f9be41"/><stop offset="0.419" stop-color="#fab73f"/><stop offset="0.435" stop-color="#fbb03d"/><stop offset="0.452" stop-color="#faa93d"/><stop offset="0.468" stop-color="#f9a23f"/><stop offset="0.484" stop-color="#f89c41"/><stop offset="0.500" stop-color="#f89542"/><stop offset="0.516" stop-color="#f78f44"/><stop offset="0.532" stop-color="#f48848"/><stop offset="0.548" stop-color="#ef834e"/><stop offset="0.565" stop-color="#eb7e53"/><stop offset="0.581" stop-color="#e77859"/><stop offset="0.597" stop-color="#e2735f"/><stop offset="0.613" stop-color="#dc6f65"/><stop offset="0.629" stop-color="#d56c6a"/><stop offset="0.645" stop-color="#ce696f"/><stop offset="0.661" stop-color="#cb6871"/><stop offset="0.677" stop-color="#cb6871"/><stop offset="0.694" stop-color="#cb6871"/><stop offset="0.710" stop-color="#cb6871"/><stop offset="0.726" stop-color="#cb6871"/><stop offset="0.742" stop-color="#cb6871"/><stop offset="0.758" stop-color="#cb6871"/><stop offset="0.774" stop-color="#cb6871"/><stop offset="0.790" stop-color="#cb6871"/><stop offset="0.806" stop-color="#cb6871"/><stop offset="0.823" stop-color="#cb6871"/><stop offset="0.839" stop-color="#cb6871"/><stop offset="0.855" stop-color="#cb6871"/><stop offset="0.871" stop-color="#cb6871"/><stop offset="0.887" stop-color="#cb6871"/><stop offset="0.903" stop-color="#cb6871"/><stop offset="0.919" stop-color="#cb6871"/><stop offset="0.935" stop-color="#cb6871"/><stop offset="0.952" stop-color="#cb6871"/><stop offset="0.968" stop-color="#cb6871"/><stop offset="0.984" stop-color="#cb6871"/><stop offset="1.000" stop-color="#cb6871"/></linearGradient>
<linearGradient id="c91" x1="0" y1="0" x2="0" y2="1"><stop offset="0.000" stop-color="#e7fa5a"/><stop offset="0.016" stop-color="#e7f95a"/><stop offset="0.033" stop-color="#e7f959"/><stop offset="0.049" stop-color="#e8f859"/><stop offset="0.066" stop-color="#e8f859"/><stop offset="0.082" stop-color="#e8f759"/><stop offset="0.098" stop-color="#e8f758"/><stop offset="0.115" stop-color="#e8f658"/><stop offset="0.131" stop-color="#e9f658"/><stop offset="0.148" stop-color="#e9f557"/><stop offset="0.164" stop-color="#ebf055"/><stop offset="0.180" stop-color="#edea52"/><stop offset="0.197" stop-color="#efe54f"/><stop offset="0.213" stop-color="#f1df4c"/><stop offset="0.230" stop-color="#f2dc4b"/><stop offset="0.246" stop-color="#f3da49"/><stop offset="0.262" stop-color="#f4d748"/><stop offset="0.279" stop-color="#f5d447"/><stop offset="0.295" stop-color="#f6d246"/><stop offset="0.311" stop-color="#f6cf45"/><stop offset="0.328" stop-color="#f7c843"/><stop offset="0.344" stop-color="#f8c141"/><stop offset="0.361" stop-color="#f9ba3f"/><stop offset="0.377" stop-color="#fab23d"/><stop offset="0.393" stop-color="#fbab3c"/><stop offset="0.410" stop-color="#faa53e"/><stop offset="0.426" stop-color="#f99e40"/><stop offset="0.443" stop-color="#f89842"/><stop offset="0.459" stop-color="#f79243"/><stop offset="0.475" stop-color="#f68d45"/><stop offset="0.492" stop-color="#f48848"/><stop offset="0.508" stop-color="#f1844c"/><stop offset="0.525" stop-color="#ed8050"/><stop offset="0.541" stop-color="#ea7d55"/><stop offset="0.557" stop-color="#e77959"/><stop offset="0.574" stop-color="#e4755d"/><stop offset="0.590" stop-color="#de7063"/><stop offset="0.607" stop-color="#d76d68"/><stop offset="0.623" stop-color="#d06a6d"/><stop offset="0.639" stop-color="#ce696f"/><stop offset="0.656" stop-color="#ce696f"/><stop offset="0.672" stop-color="#ce696f"/><stop offset="0.689" stop-color="#ce696f"/><stop offset="0.705" stop-color="#ce696f"/><stop offset="0.721" stop-color="#ce696f"/><stop offset="0.738" stop-color="#ce696f"/><stop offset="0.754" stop-color="#ce696f"/><stop offset="0.770" stop-color="#ce696f"/><stop offset="0.787" stop-color="#ce696f"/><stop offset="0.803" stop-color="#ce696f"/><stop offset="0.820" stop-color="#ce696f"/><stop offset="0.836" stop-color="#ce696f"/><stop offset="0.852" stop-color="#ce696f"/><stop offset="0.869" stop-color="#ce696f"/><stop offset="0.885" stop-color="#ce696f"/><stop offset="0.902" stop-color="#ce696f"/><stop offset="0.918" stop-color="#ce696f"/><stop offset="0.934" stop-color="#ce696f"/><stop offset="0.951" stop-color="#ce696f"/><stop offset="0.967" stop-color="#ce696f"/><stop offset="0.984" stop-color="#ce696f"/><stop offset="1.000" stop-color="#ce696f"/></linearGradient>
<linearGradient id="c98" x1="0" y1="0" x2="0" y2="1"><stop offset="0.000" stop-color="#e7fa5a"/><stop offset="0.017" stop-color="#e7f95a"/><stop offset="0.033" stop-color="#e8f859"/><stop offset="0.050" stop-color="#e8f759"/><stop offset="0.067" stop-color="#e8f658"/><stop offset="0.083" stop-color="#e9f558"/><stop offset="0.100" stop-color="#eaf156"/><stop offset="0.117" stop-color="#edec53"/><stop offset="0.133" stop-color="#efe650"/><stop offset="0.150" stop-color="#f1e04d"/><stop offset="0.167" stop-color="#f2dd4b"/><stop offset="0.183" stop-color="#f3da4a"/><stop offset="0.200" stop-color="#f4d748"/><stop offset="0.217" stop-color="#f5d447"/><stop offset="0.233" stop-color="#f6d246"/><stop offset="0.250" stop-color="#f7cf45"/><stop offset="0.267" stop-color="#f7ca44"/><stop offset="0.283" stop-color="#f8c542"/><stop offset="0.300" stop-color="#f8c141"/><stop offset="0.317" stop-color="#f9bc40"/><stop offset="0.333" stop-color="#fab73f"/><stop offset="0.350" stop-color="#fab23d"/><stop offset="0.367" stop-color="#fbae3c"/><stop offset="0.383" stop-color="#faa93d"/><stop offset="0.400" stop-color="#faa53e"/><stop offset="0.417" stop-color="#f9a13f"/><stop offset="0.433" stop-color="#f99c40"/><stop offset="0.450" stop-color="#f89842"/><stop offset="0.467" stop-color="#f79443"/><stop offset="0.483" stop-color="#f79044"/><stop offset="0.500" stop-color="#f68c45"/><stop offset="0.517" stop-color="#f48848"/><stop offset="0.533" stop-color="#f1854b"/><stop offset="0.550" stop-color="#ef824e"/><stop offset="0.567" stop-color="#ec7f52"/><stop offset="0.583" stop-color="#ea7c55"/><stop offset="0.600" stop-color="#e77958"/><stop offset="0.617" stop-color="#e5765c"/><stop offset="0.633" stop-color="#e17161"/><stop offset="0.650" stop-color="#da6e66"/><stop offset="0.667" stop-color="#d46c6b"/><stop offset="0.683" stop-color="#d46c6b"/><stop offset="0.700" stop-color="#d46c6b"/><stop offset="0.717" stop-color="#d46c6b"/><stop offset="0.733" stop-color="#d46c6b"/><stop offset="0.750" stop-color="#d46c6b"/><stop offset="0.767" stop-color="#d46c6b"/><stop offset="0.783" stop-color="#d46c6b"/><stop offset="0.800" stop-color="#d46c6b"/><stop offset="0.817" stop-color="#d46c6b"/><stop offset="0.833" stop-color="#d46c6b"/><stop offset="0.850" stop-color="#d46c6b"/><stop offset="0.867" stop-color="#d46c6b"/><stop offset="0.883" stop-color="#d46c6b"/><stop offset="0.900" stop-color="#d46c6b"/><stop offset="0.917" stop-color="#d46c6b"/><stop offset="0.933" stop-color="#d46c6b"/><stop offset="0.950" stop-color="#d46c6b"/><stop offset="0.967" stop-color="#d46c6b"/><stop offset="0.983" stop-color="#d46c6b"/><stop offset="1.000" stop-color="#d46c6b"/></linearGradient>
<linearGradient id="c99" x1="0" y1="0" x2="0" y2="1"><stop offset="0.000" stop-color="#e7fa5a"/><stop offset="0.016" stop-color="#e7f95a"/><stop offset="0.032" stop-color="#e8f859"/><stop offset="0.048" stop-color="#e8f859"/><stop offset="0.065" stop-color="#e8f758"/><stop offset="0.081" stop-color="#e8f658"/><stop offset="0.097" stop-color="#e9f558"/><stop offset="0.113" stop-color="#eaf356"/><stop offset="0.129" stop-color="#ecee54"/><stop offset="0.145" stop-color="#eee851"/><stop offset="0.161" stop-color="#f0e24e"/><stop offset="0.177" stop-color="#f2de4c"/><stop offset="0.194" stop-color="#f3db4a"/><stop offset="0.210" stop-color="#f4d849"/><stop offset="0.226" stop-color="#f5d647"/><stop offset="0.242" stop-color="#f6d346"/><stop offset="0.258" stop-color="#f6d045"/><stop offset="0.274" stop-color="#f7cc44"/><stop offset="0.290" stop-color="#f8c843"/><stop offset="0.306" stop-color="#f8c342"/><stop offset="0.323" stop-color="#f9be41"/><stop offset="0.339" stop-color="#f9b93f"/><stop offset="0.355" stop-color="#fab53e"/><stop offset="0.371" stop-color="#fbb03d"/><stop offset="0.387" stop-color="#fbac3c"/><stop offset="0.403" stop-color="#faa73e"/><stop offset="0.419" stop-color="#faa33f"/><stop offset="0.435" stop-color="#f99f40"/><stop offset="0.452" stop-color="#f89b41"/><stop offset="0.468" stop-color="#f89642"/><stop offset="0.484" stop-color="#f79243"/><stop offset="0.500" stop-color="#f68e44"/><stop offset="0.516" stop-color="#f68a46"/><stop offset="0.532" stop-color="#f38749"/><stop offset="0.548" stop-color="#f1844c"/><stop offset="0.565" stop-color="#ee8150"/><stop offset="0.581" stop-color="#ec7e53"/><stop offset="0.597" stop-color="#e97b56"/><stop offset="0.613" stop-color="#e77859"/><stop offset="0.629" stop-color="#e4755d"/><stop offset="0.645" stop-color="#df7063"/><stop offset="0.661" stop-color="#d86d68"/><stop offset="0.677" stop-color="#d46c6b"/><stop offset="0.694" stop-color="#d46c6b"/><stop offset="0.710" stop-color="#d46c6b"/><stop offset="0.726" stop-color="#d46c6b"/><stop offset="0.742" stop-color="#d46c6b"/><stop offset="0.758" stop-color="#d46c6b"/><stop offset="0.774" stop-color="#d46c6b"/><stop offset="0.790" stop-color="#d46c6b"/><stop offset="0.806" stop-color="#d46c6b"/><stop offset="0.823" stop-color="#d46c6b"/><stop offset="0.839" stop-color="#d46c6b"/><stop offset="0.855" stop-color="#d46c6b"/><stop offset="0.871" stop-color="#d46c6b"/><stop offset="0.887" stop-color="#d46c6b"/><stop offset="0.903" stop-color="#d46c6b"/><stop offset="0.919" stop-color="#d46c6b"/><stop offset="0.935" stop-color="#d46c6b"/><stop offset="0.952" stop-color="#d46c6b"/><stop offset="0.968" stop-color="#d46c6b"/><stop offset="0.984" stop-color="#d46c6b"/><stop offset="1.000" stop-color="#d46c6b"/></linearGradient>
<linearGradient id="cbv" x1="0" y1="1" x2="0" y2="0"><stop offset="0.000" stop-color="#032333"/><stop offset="0.017" stop-color="#05253c"/><stop offset="0.033" stop-color="#072845"/><stop offset="0.050" stop-color="#092a4e"/><stop offset="0.067" stop-color="#0a2d57"/><stop offset="0.083" stop-color="#0c2f60"/><stop offset="0.100" stop-color="#11306a"/><stop offset="0.117" stop-color="#183174"/><stop offset="0.133" stop-color="#20317e"/><stop offset="0.150" stop-color="#273188"/><stop offset="0.167" stop-color="#2e3292"/><stop offset="0.183" stop-color="#36329b"/><stop offset="0.200" stop-color="#3d349b"/><stop offset="0.217" stop-color="#44379a"/><stop offset="0.233" stop-color="#4c399a"/><stop offset="0.250" stop-color="#533b9a"/><stop offset="0.267" stop-color="#5a3d99"/><stop offset="0.283" stop-color="#614098"/><stop offset="0.300" stop-color="#674396"/><stop offset="0.317" stop-color="#6d4594"/><stop offset="0.333" stop-color="#734892"/><stop offset="0.350" stop-color="#794b90"/><stop offset="0.367" stop-color="#7f4d8f"/><stop offset="0.383" stop-color="#85508d"/><stop offset="0.400" stop-color="#8b528c"/><stop offset="0.417" stop-color="#91548a"/><stop offset="0.433" stop-color="#975689"/><stop offset="0.450" stop-color="#9c5887"/><stop offset="0.467" stop-color="#a35a85"/><stop offset="0.483" stop-color="#a95c83"/><stop offset="0.500" stop-color="#b05e80"/><stop offset="0.517" stop-color="#b6617d"/><stop offset="0.533" stop-color="#bc637b"/><stop offset="0.550" stop-color="#c36578"/><stop offset="0.567" stop-color="#c86773"/><stop offset="0.583" stop-color="#ce696f"/><stop offset="0.600" stop-color="#d46c6b"/><stop offset="0.617" stop-color="#da6e66"/><stop offset="0.633" stop-color="#e07162"/><stop offset="0.650" stop-color="#e4755d"/><stop offset="0.667" stop-color="#e87a58"/><stop offset="0.683" stop-color="#ec7e53"/><stop offset="0.700" stop-color="#f0834d"/><stop offset="0.717" stop-color="#f48848"/><stop offset="0.733" stop-color="#f68d44"/><stop offset="0.750" stop-color="#f79443"/><stop offset="0.767" stop-color="#f89a41"/><stop offset="0.783" stop-color="#f9a03f"/><stop offset="0.800" stop-color="#faa63e"/><stop offset="0.817" stop-color="#fbac3c"/><stop offset="0.833" stop-color="#fab33e"/><stop offset="0.850" stop-color="#f9ba3f"/><stop offset="0.867" stop-color="#f8c141"/><stop offset="0.883" stop-color="#f7c843"/><stop offset="0.900" stop-color="#f6cf45"/><stop offset="0.917" stop-color="#f5d648"/><stop offset="0.933" stop-color="#f2dd4b"/><stop offset="0.950" stop-color="#efe54f"/><stop offset="0.967" stop-color="#ecec53"/><stop offset="0.983" stop-color="#eaf356"/><stop offset="1.000" stop-color="#e7fa5a"/></linearGradient>
<linearGradient id="cbh" x1="0" y1="0" x2="1" y2="0"><stop offset="0.000" stop-color="#032333"/><stop offset="0.017" stop-color="#05253c"/><stop offset="0.033" stop-color="#072845"/><stop offset="0.050" stop-color="#092a4e"/><stop offset="0.067" stop-color="#0a2d57"/><stop offset="0.083" stop-color="#0c2f60"/><stop offset="0.100" stop-color="#11306a"/><stop offset="0.117" stop-color="#183174"/><stop offset="0.133" stop-color="#20317e"/><stop offset="0.150" stop-color="#273188"/><stop offset="0.167" stop-color="#2e3292"/><stop offset="0.183" stop-color="#36329b"/><stop offset="0.200" stop-color="#3d349b"/><stop offset="0.217" stop-color="#44379a"/><stop offset="0.233" stop-color="#4c399a"/><stop offset="0.250" stop-color="#533b9a"/><stop offset="0.267" stop-color="#5a3d99"/><stop offset="0.283" stop-color="#614098"/><stop offset="0.300" stop-color="#674396"/><stop offset="0.317" stop-color="#6d4594"/><stop offset="0.333" stop-color="#734892"/><stop offset="0.350" stop-color="#794b90"/><stop offset="0.367" stop-color="#7f4d8f"/><stop offset="0.383" stop-color="#85508d"/><stop offset="0.400" stop-color="#8b528c"/><stop offset="0.417" stop-color="#91548a"/><stop offset="0.433" stop-color="#975689"/><stop offset="0.450" stop-color="#9c5887"/><stop offset="0.467" stop-color="#a35a85"/><stop offset="0.483" stop-color="#a95c83"/><stop offset="0.500" stop-color="#b05e80"/><stop offset="0.517" stop-color="#b6617d"/><stop offset="0.533" stop-color="#bc637b"/><stop offset="0.550" stop-color="#c36578"/><stop offset="0.567" stop-color="#c86773"/><stop offset="0.583" stop-color="#ce696f"/><stop offset="0.600" stop-color="#d46c6b"/><stop offset="0.617" stop-color="#da6e66"/><stop offset="0.633" stop-color="#e07162"/><stop offset="0.650" stop-color="#e4755d"/><stop offset="0.667" stop-color="#e87a58"/><stop offset="0.683" stop-color="#ec7e53"/><stop offset="0.700" stop-color="#f0834d"/><stop offset="0.717" stop-color="#f48848"/><stop offset="0.733" stop-color="#f68d44"/><stop offset="0.750" stop-color="#f79443"/><stop offset="0.767" stop-color="#f89a41"/><stop offset="0.783" stop-color="#f9a03f"/><stop offset="0.800" stop-color="#faa63e"/><stop offset="0.817" stop-color="#fbac3c"/><stop offset="0.833" stop-color="#fab33e"/><stop offset="0.850" stop-color="#f9ba3f"/><stop offset="0.867" stop-color="#f8c141"/><stop offset="0.883" stop-color="#f7c843"/><stop offset="0.900" stop-color="#f6cf45"/><stop offset="0.917" stop-color="#f5d648"/><stop offset="0.933" stop-color="#f2dd4b"/><stop offset="0.950" stop-color="#efe54f"/><stop offset="0.967" stop-color="#ecec53"/><stop offset="0.983" stop-color="#eaf356"/><stop offset="1.000" stop-color="#e7fa5a"/></linearGradient>
</defs>
<rect x="0" y="0" width="1200" height="622" fill="#fff"/>
<!-- main axes -->
<rect x="156" y="46.3" width="888" height="147" fill="#999"/>
<g filter="url(#soft)">
<rect x="209.28" y="49.70" width="9.78" height="113.60" fill="url(#c6)"/>
<rect x="218.16" y="52.40" width="9.78" height="110.90" fill="url(#c7)"/>
<rect x="227.04" y="49.80" width="9.78" height="113.50" fill="url(#c8)"/>
<rect x="235.92" y="47.80" width="8.88" height="115.50" fill="url(#c9)"/>
<rect x="333.60" y="49.60" width="9.78" height="108.80" fill="url(#c20)"/>
<rect x="342.48" y="52.40" width="9.78" height="106.00" fill="url(#c21)"/>
<rect x="351.36" y="51.60" width="9.78" height="116.00" fill="url(#c22)"/>
<rect x="360.24" y="52.40" width="9.78" height="115.20" fill="url(#c23)"/>
<rect x="369.12" y="51.60" width="9.78" height="112.00" fill="url(#c24)"/>
<rect x="378.00" y="52.40" width="9.78" height="111.20" fill="url(#c25)"/>
<rect x="386.88" y="50.00" width="9.78" height="112.40" fill="url(#c26)"/>
<rect x="395.76" y="52.40" width="9.78" height="110.00" fill="url(#c27)"/>
<rect x="404.64" y="51.20" width="9.78" height="111.20" fill="url(#c28)"/>
<rect x="413.52" y="48.00" width="9.78" height="114.40" fill="url(#c29)"/>
<rect x="422.40" y="49.60" width="9.78" height="114.00" fill="url(#c30)"/>
<rect x="431.28" y="52.40" width="9.78" height="111.20" fill="url(#c31)"/>
<rect x="440.16" y="50.00" width="9.78" height="113.60" fill="url(#c32)"/>
<rect x="449.04" y="52.40" width="9.78" height="111.20" fill="url(#c33)"/>
<rect x="457.92" y="51.60" width="9.78" height="112.00" fill="url(#c34)"/>
<rect x="466.80" y="52.80" width="9.78" height="110.80" fill="url(#c35)"/>
<rect x="475.68" y="50.00" width="9.78" height="113.60" fill="url(#c36)"/>
<rect x="484.56" y="52.40" width="9.78" height="111.20" fill="url(#c37)"/>
<rect x="493.44" y="50.40" width="9.78" height="113.20" fill="url(#c38)"/>
<rect x="502.32" y="48.00" width="8.88" height="115.60" fill="url(#c39)"/>
<rect x="528.96" y="49.80" width="9.78" height="138.00" fill="url(#c42)"/>
<rect x="537.84" y="52.50" width="9.78" height="135.30" fill="url(#c43)"/>
<rect x="546.72" y="52.50" width="9.78" height="139.20" fill="url(#c44)"/>
<rect x="555.60" y="50.20" width="9.78" height="141.50" fill="url(#c45)"/>
<rect x="564.48" y="47.90" width="9.78" height="145.40" fill="url(#c46)"/>
<rect x="573.36" y="52.50" width="9.78" height="140.80" fill="url(#c47)"/>
<rect x="582.24" y="50.20" width="9.78" height="141.50" fill="url(#c48)"/>
<rect x="591.12" y="47.90" width="8.88" height="143.80" fill="url(#c49)"/>
<rect x="742.08" y="51.30" width="9.78" height="104.90" fill="url(#c66)"/>
<rect x="750.96" y="52.90" width="9.78" height="103.30" fill="url(#c67)"/>
<rect x="759.84" y="51.30" width="9.78" height="99.20" fill="url(#c68)"/>
<rect x="768.72" y="47.90" width="9.78" height="102.60" fill="url(#c69)"/>
<rect x="777.60" y="49.80" width="9.78" height="91.40" fill="url(#c70)"/>
<rect x="786.48" y="52.90" width="9.78" height="88.30" fill="url(#c71)"/>
<rect x="795.36" y="52.50" width="9.78" height="81.50" fill="url(#c72)"/>
<rect x="804.24" y="51.30" width="9.78" height="82.70" fill="url(#c73)"/>
<rect x="813.12" y="49.80" width="9.78" height="84.20" fill="url(#c74)"/>
<rect x="822.00" y="52.90" width="9.78" height="81.10" fill="url(#c75)"/>
<rect x="830.88" y="52.90" width="9.78" height="84.70" fill="url(#c76)"/>
<rect x="839.76" y="51.30" width="9.78" height="86.30" fill="url(#c77)"/>
<rect x="848.64" y="51.30" width="9.78" height="86.00" fill="url(#c78)"/>
<rect x="857.52" y="47.90" width="9.78" height="89.40" fill="url(#c79)"/>
<rect x="866.40" y="49.80" width="9.78" height="93.50" fill="url(#c80)"/>
<rect x="875.28" y="52.50" width="9.78" height="90.80" fill="url(#c81)"/>
<rect x="884.16" y="49.80" width="9.78" height="94.60" fill="url(#c82)"/>
<rect x="893.04" y="52.50" width="9.78" height="91.90" fill="url(#c83)"/>
<rect x="901.92" y="49.80" width="9.78" height="91.30" fill="url(#c84)"/>
<rect x="910.80" y="52.50" width="9.78" height="88.60" fill="url(#c85)"/>
<rect x="919.68" y="51.30" width="9.78" height="80.60" fill="url(#c86)"/>
<rect x="928.56" y="52.90" width="9.78" height="79.00" fill="url(#c87)"/>
<rect x="937.44" y="51.70" width="9.78" height="84.00" fill="url(#c88)"/>
<rect x="946.32" y="47.90" width="9.78" height="87.80" fill="url(#c89)"/>
<rect x="955.20" y="49.80" width="9.78" height="93.50" fill="url(#c90)"/>
<rect x="964.08" y="51.30" width="8.88" height="92.00" fill="url(#c91)"/>
<rect x="1026.24" y="49.30" width="9.78" height="91.20" fill="url(#c98)"/>
<rect x="1035.12" y="47.40" width="8.88" height="93.10" fill="url(#c99)"/>
</g>
<rect x="156.3" y="46.2" width="887.5" height="147.1" fill="none" stroke="#7a7a7a" stroke-width="0.9"/>
<!-- y ticks -->
<g stroke="#505050" stroke-width="0.7">
<line x1="156" y1="93.4" x2="167.5" y2="93.4"/>
<line x1="156" y1="140.4" x2="167.5" y2="140.4"/>
<line x1="156" y1="187.4" x2="167.5" y2="187.4"/>
<line x1="1032.5" y1="93.4" x2="1044" y2="93.4"/>
<line x1="1032.5" y1="140.4" x2="1044" y2="140.4"/>
<line x1="1035.5" y1="187.4" x2="1044" y2="187.4"/>
<line x1="1039.5" y1="46.3" x2="1039.5" y2="55.7"/>
<line x1="1039.5" y1="184" x2="1039.5" y2="193.3"/>
</g>
<g font-size="8" text-anchor="end">
<text x="153" y="49.6">0</text>
<text x="153" y="96.3">50</text>
<text x="153" y="143.3">100</text>
<text x="153" y="190.3">150</text>
</g>
<text x="0" y="0" font-size="7" text-anchor="middle" transform="translate(136.9,120.3) rotate(-90)">Depth (m)</text>
<text x="600" y="43.6" font-size="8.5" font-weight="bold" text-anchor="middle" stroke="#262626" stroke-width="0.3">Dives 1339 to 1385: Temperature (<tspan font-size="6.6" dy="-3.9">o</tspan><tspan dy="3.9"> C)</tspan></text>
<text x="600" y="214" font-size="6.85" text-anchor="middle">19-Aug-25 to 21-Aug-25</text>
<text x="1039.5" y="204.6" font-size="7.2" font-weight="bold" text-anchor="middle" stroke="#262626" stroke-width="0.35">29</text>
<!-- vertical colorbar -->
<rect x="1052" y="46.3" width="17.3" height="147" fill="url(#cbv)" stroke="#444" stroke-width="0.8"/>
<g font-size="7">
<text x="1073" y="49.8">15</text>
<text x="1073" y="74.3">14</text>
<text x="1073" y="98.8">13</text>
<text x="1073" y="123.3">12</text>
<text x="1073" y="147.8">11</text>
<text x="1073" y="172.3">10</text>
<text x="1073" y="196.8">9</text>
</g>
<g stroke="#333" stroke-width="0.6">
<line x1="1066.8" y1="71.3" x2="1069.3" y2="71.3"/>
<line x1="1066.8" y1="95.8" x2="1069.3" y2="95.8"/>
<line x1="1066.8" y1="120.3" x2="1069.3" y2="120.3"/>
<line x1="1066.8" y1="144.8" x2="1069.3" y2="144.8"/>
<line x1="1066.8" y1="169.3" x2="1069.3" y2="169.3"/>
</g>
<!-- horizontal colorbar -->
<rect x="156" y="226.2" width="888" height="16.3" fill="url(#cbh)" stroke="#444" stroke-width="0.8"/>
<rect x="156.4" y="226.6" width="3.5" height="15.5" fill="#999"/>
<g stroke="#3a3a3a" stroke-width="0.6">
<line x1="304.4" y1="241.8" x2="304.4" y2="231.5"/>
<line x1="452.4" y1="241.8" x2="452.4" y2="231.5"/>
<line x1="600.4" y1="241.8" x2="600.4" y2="231.5"/>
<line x1="748.4" y1="241.8" x2="748.4" y2="231.5"/>
<line x1="896.4" y1="241.8" x2="896.4" y2="231.5"/>
</g>
<g font-size="7" text-anchor="middle">
<text x="156" y="253.5">9</text>
<text x="304" y="253.5">10</text>
<text x="452" y="253.5">11</text>
<text x="600" y="253.5">12</text>
<text x="748" y="253.5">13</text>
<text x="896" y="253.5">14</text>
<text x="1044" y="253.5">15</text>
</g>
</svg>
</body></html>
